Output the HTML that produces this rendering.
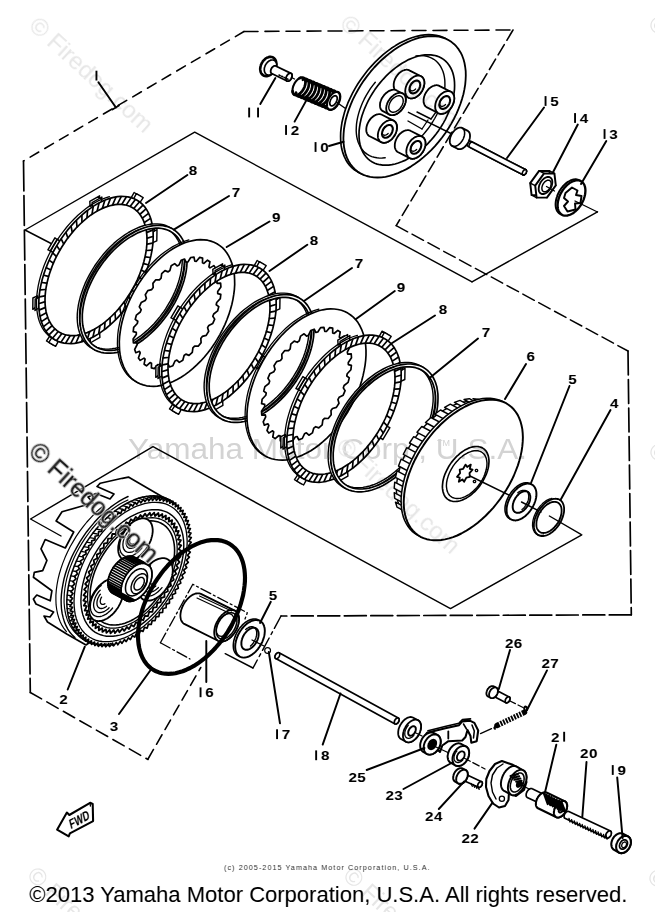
<!DOCTYPE html>
<html><head><meta charset="utf-8"><title>Clutch</title>
<style>
html,body{margin:0;padding:0;background:#fff;}
body{width:655px;height:912px;overflow:hidden;font-family:"Liberation Sans",sans-serif;}
svg{display:block;position:absolute;left:0;top:0;filter:grayscale(1);}
svg text{font-family:"Liberation Sans",sans-serif;}
</style></head><body>
<svg width="655" height="912" viewBox="0 0 655 912" stroke-linecap="round" stroke-linejoin="round">
<rect width="655" height="912" fill="#fff"/>
<path d="M244.0,31.5 L23.5,161.0" fill="none" stroke="#000" stroke-width="1.56" stroke-dasharray="10 7"/>
<path d="M244.0,31.5 L513.0,30.0" fill="none" stroke="#000" stroke-width="1.56" stroke-dasharray="14 7"/>
<path d="M23.5,161.0 L30.3,692.5" fill="none" stroke="#000" stroke-width="1.69" stroke-dasharray="30 4.5"/>
<path d="M30.3,692.5 L148.0,759.5" fill="none" stroke="#000" stroke-width="1.56" stroke-dasharray="13 6"/>
<path d="M148.0,759.0 L200.8,667.5" fill="none" stroke="#000" stroke-width="1.56" stroke-dasharray="11 6"/>
<path d="M513.0,30.0 L396.2,225.6" fill="none" stroke="#000" stroke-width="1.56" stroke-dasharray="12 5"/>
<path d="M396.2,225.6 L628.0,351.0" fill="none" stroke="#000" stroke-width="1.43" stroke-dasharray="13 5"/>
<path d="M628.0,351.0 L631.3,614.8" fill="none" stroke="#000" stroke-width="1.69" stroke-dasharray="24 4.5"/>
<path d="M631.3,614.8 L281.0,616.0" fill="none" stroke="#000" stroke-width="1.69" stroke-dasharray="22 4.5"/>
<path d="M281.0,616.0 L253.0,668.0" fill="none" stroke="#000" stroke-width="1.43" stroke-dasharray="14 4 3 4"/>
<path d="M253.0,668.0 L225.2,653.7" fill="none" stroke="#000" stroke-width="1.43" />
<path d="M472.0,281.8 L597.5,211.8" fill="none" stroke="#000" stroke-width="1.43" />
<path d="M54.0,245.0 L25.0,230.0 L194.7,132.2 L472.0,281.8" fill="none" stroke="#000" stroke-width="1.43" />
<path d="M61.0,536.0 L30.5,519.0 L153.0,446.6 L450.5,608.6 L581.8,534.8" fill="none" stroke="#000" stroke-width="1.43" />
<text x="29.3" y="902.3" font-size="21.5" fill="#000" textLength="598" lengthAdjust="spacingAndGlyphs">©2013 Yamaha Motor Corporation, U.S.A. All rights reserved.</text>
<text x="224" y="870.3" font-size="7.2" fill="#333" textLength="205.5" lengthAdjust="spacing">(c) 2005-2015 Yamaha Motor Corporation, U.S.A.</text>
<path d="M131.0,198.2 L134.1,192.5 L140.9,196.5 L137.3,201.9Z" fill="#fff" stroke="#000" stroke-width="1.43" />
<path d="M133.3,199.4 L136.4,193.7 L143.2,197.7 L139.6,203.1Z" fill="#fff" stroke="#000" stroke-width="1.43" />
<path d="M150.1,231.3 L154.7,228.2 L154.5,239.5 L150.0,241.7Z" fill="#fff" stroke="#000" stroke-width="1.43" />
<path d="M152.4,232.5 L157.0,229.5 L156.8,240.8 L152.2,242.9Z" fill="#fff" stroke="#000" stroke-width="1.43" />
<path d="M136.1,286.3 L139.6,287.7 L132.5,299.7 L129.6,297.4Z" fill="#fff" stroke="#000" stroke-width="1.43" />
<path d="M138.4,287.5 L141.9,289.0 L134.8,300.9 L131.9,298.6Z" fill="#fff" stroke="#000" stroke-width="1.43" />
<path d="M97.3,331.1 L97.6,336.1 L87.8,341.7 L88.3,336.2Z" fill="#fff" stroke="#000" stroke-width="1.43" />
<path d="M99.6,332.3 L99.9,337.4 L90.1,343.0 L90.5,337.5Z" fill="#fff" stroke="#000" stroke-width="1.43" />
<path d="M56.4,339.3 L53.4,345.1 L46.5,341.0 L50.1,335.6Z" fill="#fff" stroke="#000" stroke-width="1.43" />
<path d="M58.7,340.6 L55.6,346.3 L48.8,342.3 L52.4,336.9Z" fill="#fff" stroke="#000" stroke-width="1.43" />
<path d="M37.3,306.2 L32.8,309.3 L32.9,298.0 L37.5,295.8Z" fill="#fff" stroke="#000" stroke-width="1.43" />
<path d="M39.6,307.5 L35.0,310.5 L35.2,299.2 L39.8,297.1Z" fill="#fff" stroke="#000" stroke-width="1.43" />
<path d="M51.3,251.2 L47.9,249.8 L54.9,237.8 L57.8,240.2Z" fill="#fff" stroke="#000" stroke-width="1.43" />
<path d="M53.6,252.5 L50.1,251.0 L57.2,239.1 L60.1,241.4Z" fill="#fff" stroke="#000" stroke-width="1.43" />
<path d="M90.1,206.5 L89.8,201.4 L99.6,195.8 L99.2,201.3Z" fill="#fff" stroke="#000" stroke-width="1.43" />
<path d="M92.4,207.7 L92.1,202.6 L101.9,197.0 L101.5,202.5Z" fill="#fff" stroke="#000" stroke-width="1.43" />
<path d="M78.0,340.9 L74.2,341.8 L70.5,342.2 L66.9,342.4 L63.5,342.1 L60.1,341.6 L57.0,340.6 L54.0,339.3 L51.2,337.7 L48.7,335.7 L46.3,333.4 L44.2,330.8 L42.3,327.9 L40.7,324.7 L39.3,321.2 L38.2,317.5 L37.4,313.5 L36.8,309.3 L36.5,304.9 L36.5,300.4 L36.8,295.7 L37.4,290.8 L38.2,285.9 L39.3,280.8 L40.7,275.7 L42.3,270.6 L44.1,265.5 L46.3,260.3 L48.6,255.3 L51.2,250.2 L53.9,245.3 L56.9,240.5 L60.0,235.8 L63.4,231.3 L66.8,227.0 L70.4,222.9 L74.1,219.0 L77.9,215.3 L81.8,211.9 L85.7,208.8 L89.7,205.9 L93.7,203.4 L97.6,201.2 L101.6,199.3 L105.6,197.8 L109.4,196.6" fill="none" stroke="#000" stroke-width="1.3" />
<path d="M137.1,200.2 L139.8,202.0 L142.2,204.1 L144.5,206.6 L146.5,209.4 L148.2,212.4 L149.7,215.8 L151.0,219.4 L151.9,223.2 L152.6,227.3 L153.1,231.6 L153.2,236.1 L153.1,240.7 L152.7,245.5 L152.0,250.4 L151.0,255.4 L149.8,260.5 L148.3,265.6 L146.5,270.7 L144.5,275.9 L142.3,281.0 L139.9,286.0 L137.2,291.0 L134.3,295.9 L131.3,300.6 L128.0,305.2 L124.7,309.6 L121.1,313.9 L117.5,317.9 L113.7,321.7 L109.9,325.2 L106.0,328.5 L102.0,331.4 L98.1,334.1 L94.1,336.5 L90.1,338.5 L86.1,340.2 L82.2,341.6 L78.4,342.6 L74.6,343.3 L71.0,343.6 L67.4,343.5 L64.1,343.1 L60.8,342.4 L57.8,341.3 L54.9,339.8 L52.2,338.0 L49.8,335.9 L47.5,333.4 L45.5,330.6 L43.8,327.6 L42.3,324.2 L41.0,320.6 L40.1,316.8 L39.4,312.7 L38.9,308.4 L38.8,303.9 L38.9,299.3 L39.3,294.5 L40.0,289.6 L41.0,284.6 L42.2,279.5 L43.7,274.4 L45.5,269.3 L47.5,264.1 L49.7,259.0 L52.1,254.0 L54.8,249.0 L57.7,244.1 L60.7,239.4 L64.0,234.8 L67.3,230.4 L70.9,226.1 L74.5,222.1 L78.3,218.3 L82.1,214.8 L86.0,211.5 L90.0,208.6 L93.9,205.9 L97.9,203.5 L101.9,201.5 L105.9,199.8 L109.8,198.4 L113.6,197.4 L117.4,196.7 L121.0,196.4 L124.6,196.5 L127.9,196.9 L131.2,197.6 L134.2,198.7 L137.1,200.2Z M132.6,207.8 L135.0,209.4 L137.2,211.3 L139.2,213.5 L141.0,216.0 L142.6,218.7 L143.9,221.7 L145.0,224.9 L145.9,228.3 L146.5,231.9 L146.9,235.8 L147.0,239.8 L146.9,243.9 L146.5,248.2 L145.9,252.5 L145.0,257.0 L143.9,261.5 L142.6,266.1 L141.0,270.6 L139.3,275.2 L137.3,279.8 L135.1,284.3 L132.7,288.7 L130.2,293.0 L127.4,297.3 L124.6,301.4 L121.5,305.3 L118.4,309.1 L115.2,312.7 L111.8,316.0 L108.4,319.2 L104.9,322.1 L101.4,324.8 L97.8,327.1 L94.3,329.3 L90.7,331.1 L87.2,332.6 L83.7,333.8 L80.3,334.7 L76.9,335.3 L73.7,335.6 L70.5,335.6 L67.5,335.2 L64.6,334.5 L61.9,333.5 L59.4,332.2 L57.0,330.6 L54.8,328.7 L52.8,326.5 L51.0,324.0 L49.4,321.3 L48.1,318.3 L47.0,315.1 L46.1,311.7 L45.5,308.1 L45.1,304.2 L45.0,300.2 L45.1,296.1 L45.5,291.8 L46.1,287.5 L47.0,283.0 L48.1,278.5 L49.4,273.9 L51.0,269.4 L52.7,264.8 L54.7,260.2 L56.9,255.7 L59.3,251.3 L61.8,247.0 L64.6,242.7 L67.4,238.6 L70.5,234.7 L73.6,230.9 L76.8,227.3 L80.2,224.0 L83.6,220.8 L87.1,217.9 L90.6,215.2 L94.2,212.9 L97.7,210.7 L101.3,208.9 L104.8,207.4 L108.3,206.2 L111.7,205.3 L115.1,204.7 L118.3,204.4 L121.5,204.4 L124.5,204.8 L127.4,205.5 L130.1,206.5 L132.6,207.8Z" fill="#fff" stroke="#000" stroke-width="1.69" fill-rule="evenodd"/>
<path d="M134.2,208.0 L139.1,202.3 M137.5,210.7 L142.7,205.4 M140.3,214.0 L145.7,209.2 M142.7,217.8 L148.2,213.6 M144.7,222.2 L150.2,218.6 M146.1,227.1 L151.6,224.1 M147.0,232.4 L152.5,230.1 M147.4,238.1 L152.8,236.5 M147.3,244.2 L152.5,243.2 M146.6,250.5 L151.6,250.2 M145.4,256.9 L150.2,257.5 M143.7,263.6 L148.1,264.8 M141.6,270.3 L145.6,272.2 M138.9,277.0 L142.6,279.6 M135.8,283.6 L139.0,286.9 M132.3,290.1 L135.1,294.0 M128.5,296.3 L130.7,300.8 M124.3,302.4 L126.0,307.4 M119.8,308.0 L120.9,313.5 M115.0,313.3 L115.6,319.3 M110.1,318.1 L110.1,324.5 M105.0,322.5 L104.5,329.1 M99.9,326.3 L98.8,333.2 M94.7,329.5 L93.0,336.6 M89.5,332.1 L87.3,339.3 M84.3,334.1 L81.7,341.3 M79.3,335.4 L76.2,342.5 M74.5,336.1 L70.9,343.1 M69.9,336.1 L65.9,342.8 M65.5,335.4 L61.2,341.9 M61.5,334.0 L56.8,340.2 M57.8,332.0 L52.9,337.7 M54.5,329.3 L49.3,334.6 M51.7,326.0 L46.3,330.8 M49.3,322.2 L43.8,326.4 M47.3,317.8 L41.8,321.4 M45.9,312.9 L40.4,315.9 M45.0,307.6 L39.5,309.9 M44.6,301.9 L39.2,303.5 M44.7,295.8 L39.5,296.8 M45.4,289.5 L40.4,289.8 M46.6,283.1 L41.8,282.5 M48.3,276.4 L43.9,275.2 M50.4,269.7 L46.4,267.8 M53.1,263.0 L49.4,260.4 M56.2,256.4 L53.0,253.1 M59.7,249.9 L56.9,246.0 M63.5,243.7 L61.3,239.2 M67.7,237.6 L66.0,232.6 M72.2,232.0 L71.1,226.5 M77.0,226.7 L76.4,220.7 M81.9,221.9 L81.9,215.5 M87.0,217.5 L87.5,210.9 M92.1,213.7 L93.2,206.8 M97.3,210.5 L99.0,203.4 M102.5,207.9 L104.7,200.7 M107.7,205.9 L110.3,198.7 M112.7,204.6 L115.8,197.5 M117.5,203.9 L121.1,196.9 M122.1,203.9 L126.1,197.2 M126.5,204.6 L130.8,198.1 M130.5,206.0 L135.2,199.8 " fill="none" stroke="#000" stroke-width="1.69" />
<path d="M171.6,228.5 L174.0,230.3 L176.1,232.4 L178.0,234.8 L179.7,237.4 L181.1,240.3 L182.3,243.4 L183.2,246.7 L183.9,250.2 L184.3,253.9 L184.5,257.8 L184.4,261.8 L184.0,265.9 L183.4,270.2 L182.5,274.5 L181.4,278.9 L180.0,283.4 L178.4,287.8 L176.6,292.3 L174.5,296.7 L172.2,301.1 L169.8,305.5 L167.1,309.7 L164.3,313.9 L161.2,317.9 L158.1,321.7 L154.8,325.4 L151.4,329.0 L147.9,332.3 L144.3,335.4 L140.6,338.3 L136.9,340.9 L133.2,343.3 L129.5,345.4 L125.7,347.2 L122.0,348.7 L118.3,349.9 L114.7,350.9 L111.2,351.5 L107.8,351.8 L104.5,351.8 L101.3,351.5 L98.2,350.9 L95.3,350.0 L92.6,348.7 L90.1,347.2 L87.8,345.4 L85.6,343.3 L83.7,340.9 L82.1,338.3 L80.6,335.4 L79.4,332.3 L78.5,329.0 L77.8,325.5 L77.4,321.8 L77.2,317.9 L77.3,313.9 L77.7,309.8 L78.3,305.5 L79.2,301.2 L80.3,296.8 L81.7,292.4 L83.3,287.9 L85.1,283.4 L87.2,279.0 L89.5,274.6 L92.0,270.3 L94.6,266.0 L97.5,261.9 L100.5,257.9 L103.6,254.0 L106.9,250.3 L110.3,246.8 L113.8,243.4 L117.4,240.3 L121.1,237.5 L124.8,234.8 L128.5,232.5 L132.3,230.4 L136.0,228.6 L139.7,227.0 L143.4,225.8 L147.0,224.9 L150.5,224.2 L154.0,223.9 L157.3,223.9 L160.5,224.2 L163.5,224.8 L166.4,225.8 L169.1,227.0 L171.6,228.5Z M169.9,231.0 L172.2,232.7 L174.2,234.7 L176.0,237.0 L177.6,239.5 L179.0,242.3 L180.1,245.2 L181.0,248.4 L181.7,251.8 L182.1,255.3 L182.3,259.0 L182.2,262.9 L181.8,266.9 L181.2,270.9 L180.4,275.1 L179.3,279.3 L178.0,283.6 L176.5,287.8 L174.7,292.1 L172.7,296.4 L170.5,300.6 L168.1,304.7 L165.6,308.8 L162.9,312.8 L160.0,316.6 L157.0,320.3 L153.8,323.9 L150.5,327.3 L147.2,330.4 L143.7,333.4 L140.2,336.2 L136.7,338.7 L133.1,341.0 L129.5,343.0 L125.9,344.7 L122.4,346.2 L118.9,347.4 L115.4,348.2 L112.0,348.8 L108.7,349.1 L105.6,349.1 L102.5,348.8 L99.6,348.3 L96.8,347.4 L94.2,346.2 L91.8,344.7 L89.6,343.0 L87.5,341.0 L85.7,338.7 L84.1,336.2 L82.7,333.5 L81.6,330.5 L80.7,327.3 L80.0,323.9 L79.6,320.4 L79.5,316.7 L79.6,312.8 L79.9,308.9 L80.5,304.8 L81.3,300.6 L82.4,296.4 L83.7,292.2 L85.3,287.9 L87.0,283.6 L89.0,279.4 L91.2,275.1 L93.6,271.0 L96.1,266.9 L98.9,263.0 L101.8,259.1 L104.8,255.4 L107.9,251.8 L111.2,248.5 L114.6,245.3 L118.0,242.3 L121.5,239.6 L125.0,237.0 L128.6,234.8 L132.2,232.8 L135.8,231.0 L139.3,229.6 L142.9,228.4 L146.3,227.5 L149.7,226.9 L153.0,226.6 L156.2,226.6 L159.2,226.9 L162.2,227.5 L164.9,228.4 L167.5,229.5 L169.9,231.0Z" fill="#fff" stroke="#000" stroke-width="1.43" fill-rule="evenodd"/>
<path d="M174.3,230.0 L176.6,231.8 L178.7,233.9 L180.6,236.2 L182.3,238.9 L183.7,241.7 L184.9,244.8 L185.9,248.1 L186.5,251.7 L187.0,255.4 L187.1,259.2 L187.0,263.2 L186.7,267.4 L186.1,271.6 L185.2,276.0 L184.1,280.4 L182.7,284.8 L181.1,289.3 L179.2,293.7 L177.2,298.2 L174.9,302.6 L172.4,306.9 L169.7,311.2 L166.9,315.3 L163.9,319.3 L160.7,323.2 L157.4,326.9 L154.0,330.4 L150.5,333.7 L146.9,336.8 L143.3,339.7 L139.6,342.3 L135.8,344.7 L132.1,346.8 L128.4,348.6 L124.6,350.1 L121.0,351.4 L117.4,352.3 L113.8,352.9 L110.4,353.2 L107.1,353.2 L103.9,352.9 L100.9,352.3 L98.0,351.4 L95.2,350.2 L92.7,348.6 L90.4,346.8 L88.3,344.7 L86.4,342.4 L84.7,339.7 L83.3,336.9 L82.1,333.8 L81.1,330.5 L80.5,326.9 L80.0,323.2 L79.9,319.4 L80.0,315.4 L80.3,311.2 L80.9,307.0 L81.8,302.6 L82.9,298.2 L84.3,293.8 L85.9,289.3 L87.8,284.9 L89.8,280.4 L92.1,276.0 L94.6,271.7 L97.3,267.4 L100.1,263.3 L103.1,259.3 L106.3,255.4 L109.6,251.7 L113.0,248.2 L116.5,244.9 L120.1,241.8 L123.7,238.9 L127.4,236.3 L131.2,233.9 L134.9,231.8 L138.6,230.0 L142.4,228.5 L146.0,227.2 L149.6,226.3 L153.2,225.7 L156.6,225.4 L159.9,225.4 L163.1,225.7 L166.1,226.3 L169.0,227.2 L171.8,228.4 L174.3,230.0Z M172.5,232.6 L174.7,234.3 L176.7,236.3 L178.5,238.6 L180.1,241.1 L181.5,243.8 L182.6,246.8 L183.5,250.0 L184.2,253.3 L184.6,256.9 L184.7,260.6 L184.7,264.4 L184.3,268.4 L183.7,272.4 L182.9,276.6 L181.8,280.8 L180.5,285.0 L179.0,289.3 L177.2,293.5 L175.2,297.8 L173.0,302.0 L170.7,306.1 L168.1,310.2 L165.4,314.1 L162.5,318.0 L159.5,321.7 L156.4,325.2 L153.1,328.6 L149.8,331.7 L146.3,334.7 L142.8,337.5 L139.3,340.0 L135.7,342.2 L132.2,344.2 L128.6,346.0 L125.0,347.4 L121.5,348.6 L118.1,349.5 L114.7,350.1 L111.4,350.4 L108.3,350.4 L105.2,350.1 L102.3,349.5 L99.5,348.6 L96.9,347.5 L94.5,346.0 L92.3,344.3 L90.3,342.3 L88.5,340.0 L86.9,337.5 L85.5,334.8 L84.4,331.8 L83.5,328.6 L82.8,325.3 L82.4,321.7 L82.3,318.0 L82.3,314.2 L82.7,310.2 L83.3,306.2 L84.1,302.0 L85.2,297.8 L86.5,293.6 L88.0,289.3 L89.8,285.1 L91.8,280.8 L94.0,276.6 L96.3,272.5 L98.9,268.4 L101.6,264.5 L104.5,260.6 L107.5,256.9 L110.6,253.4 L113.9,250.0 L117.2,246.9 L120.7,243.9 L124.2,241.1 L127.7,238.6 L131.3,236.4 L134.8,234.4 L138.4,232.6 L142.0,231.2 L145.5,230.0 L148.9,229.1 L152.3,228.5 L155.6,228.2 L158.7,228.2 L161.8,228.5 L164.7,229.1 L167.5,230.0 L170.1,231.1 L172.5,232.6Z" fill="#fff" stroke="#000" stroke-width="1.69" fill-rule="evenodd"/>
<path d="M191.1,367.4 L187.1,370.6 L183.1,373.6 L179.1,376.2 L175.0,378.5 L171.0,380.5 L166.9,382.2 L162.9,383.5 L159.0,384.4 L155.1,385.0 L151.3,385.3 L147.7,385.1 L144.2,384.6 L140.8,383.8 L137.7,382.6 L134.7,381.0 L131.9,379.1 L129.3,376.8 L126.9,374.3 L124.8,371.4 L122.9,368.2 L121.3,364.8 L120.0,361.1 L118.9,357.1 L118.1,352.9 L117.6,348.5 L117.4,344.0 L117.5,339.2 L117.8,334.4 L118.4,329.4 L119.4,324.4 L120.6,319.2 L122.0,314.1 L123.7,308.9 L125.7,303.8 L128.0,298.6 L130.4,293.6 L133.1,288.6 L136.0,283.8 L139.1,279.1 L142.3,274.6 L145.8,270.2 L149.3,266.1 L153.0,262.2 L156.8,258.5 L160.7,255.1 L164.7,252.0 L168.7,249.2 L172.8,246.6 L176.9,244.5 L180.9,242.6 L184.9,241.1 L188.9,239.9" fill="none" stroke="#000" stroke-width="1.3" />
<path d="M217.0,243.7 L219.8,245.6 L222.4,247.7 L224.8,250.2 L226.9,253.0 L228.8,256.1 L230.4,259.5 L231.8,263.1 L233.0,267.0 L233.8,271.1 L234.4,275.4 L234.6,279.8 L234.7,284.5 L234.4,289.3 L233.8,294.2 L233.0,299.1 L231.9,304.2 L230.5,309.3 L228.9,314.4 L227.0,319.5 L224.9,324.6 L222.5,329.6 L219.9,334.6 L217.1,339.4 L214.2,344.1 L211.0,348.7 L207.7,353.0 L204.2,357.2 L200.6,361.2 L196.8,364.9 L193.0,368.4 L189.1,371.6 L185.1,374.6 L181.1,377.2 L177.1,379.5 L173.1,381.5 L169.1,383.2 L165.1,384.5 L161.2,385.4 L157.4,386.1 L153.6,386.3 L150.0,386.2 L146.5,385.8 L143.2,384.9 L140.0,383.8 L137.0,382.3 L134.2,380.4 L131.6,378.3 L129.2,375.8 L127.1,373.0 L125.2,369.9 L123.6,366.5 L122.2,362.9 L121.0,359.0 L120.2,354.9 L119.6,350.6 L119.4,346.2 L119.3,341.5 L119.6,336.7 L120.2,331.8 L121.0,326.9 L122.1,321.8 L123.5,316.7 L125.1,311.6 L127.0,306.5 L129.1,301.4 L131.5,296.4 L134.1,291.4 L136.9,286.6 L139.8,281.9 L143.0,277.3 L146.3,273.0 L149.8,268.8 L153.4,264.8 L157.2,261.1 L161.0,257.6 L164.9,254.4 L168.9,251.4 L172.9,248.8 L176.9,246.5 L180.9,244.5 L184.9,242.8 L188.9,241.5 L192.8,240.6 L196.6,239.9 L200.4,239.7 L204.0,239.8 L207.5,240.2 L210.8,241.1 L214.0,242.2 L217.0,243.7Z M207.5,260.2 L209.9,261.8 L208.9,266.8 L210.0,267.9 L213.8,265.6 L215.6,268.0 L213.8,273.1 L214.5,274.7 L218.2,273.3 L219.3,276.6 L216.8,281.5 L217.1,283.4 L220.6,283.1 L220.9,286.9 L217.7,291.4 L217.7,293.6 L220.8,294.4 L220.3,298.6 L216.7,302.5 L216.2,304.7 L218.8,306.6 L217.6,310.9 L213.7,314.0 L212.8,316.3 L214.7,319.1 L212.8,323.4 L208.8,325.5 L207.6,327.7 L208.7,331.3 L206.2,335.4 L202.3,336.4 L200.8,338.4 L201.1,342.6 L198.2,346.2 L194.6,346.1 L192.9,347.8 L192.3,352.4 L189.0,355.4 L185.9,354.1 L184.1,355.5 L182.8,360.2 L179.3,362.4 L176.9,360.1 L175.0,361.0 L172.9,365.7 L169.5,367.0 L167.8,363.7 L166.0,364.1 L163.3,368.5 L160.0,368.9 L159.2,364.8 L157.6,364.7 L154.3,368.6 L151.4,367.9 L151.5,363.3 L150.1,362.6 L146.5,365.8 L144.1,364.2 L145.1,359.2 L144.0,358.1 L140.2,360.4 L138.4,358.0 L140.2,352.9 L139.5,351.3 L135.8,352.7 L134.7,349.4 L137.2,344.5 L136.9,342.6 L133.4,342.9 L133.1,339.1 L136.3,334.6 L136.3,332.4 L133.2,331.6 L133.7,327.4 L137.3,323.5 L137.8,321.3 L135.2,319.4 L136.4,315.1 L140.3,312.0 L141.2,309.7 L139.3,306.9 L141.2,302.6 L145.2,300.5 L146.4,298.3 L145.3,294.7 L147.8,290.6 L151.7,289.6 L153.2,287.6 L152.9,283.4 L155.8,279.8 L159.4,279.9 L161.1,278.2 L161.7,273.6 L165.0,270.6 L168.1,271.9 L169.9,270.5 L171.2,265.8 L174.7,263.6 L177.1,265.9 L179.0,265.0 L181.1,260.3 L184.5,259.0 L186.2,262.3 L188.0,261.9 L190.7,257.5 L194.0,257.1 L194.8,261.2 L196.4,261.3 L199.7,257.4 L202.6,258.1 L202.5,262.7 L203.9,263.4Z" fill="#fff" stroke="#000" stroke-width="1.69" fill-rule="evenodd"/>
<path d="M254.0,266.2 L257.1,260.5 L263.9,264.5 L260.3,269.9Z" fill="#fff" stroke="#000" stroke-width="1.43" />
<path d="M256.3,267.4 L259.4,261.7 L266.2,265.7 L262.6,271.1Z" fill="#fff" stroke="#000" stroke-width="1.43" />
<path d="M273.1,299.3 L277.7,296.2 L277.5,307.5 L273.0,309.7Z" fill="#fff" stroke="#000" stroke-width="1.43" />
<path d="M275.4,300.5 L280.0,297.5 L279.8,308.8 L275.2,310.9Z" fill="#fff" stroke="#000" stroke-width="1.43" />
<path d="M259.1,354.3 L262.6,355.7 L255.5,367.7 L252.6,365.4Z" fill="#fff" stroke="#000" stroke-width="1.43" />
<path d="M261.4,355.5 L264.9,357.0 L257.8,368.9 L254.9,366.6Z" fill="#fff" stroke="#000" stroke-width="1.43" />
<path d="M220.3,399.1 L220.6,404.1 L210.8,409.7 L211.3,404.2Z" fill="#fff" stroke="#000" stroke-width="1.43" />
<path d="M222.6,400.3 L222.9,405.4 L213.1,411.0 L213.5,405.5Z" fill="#fff" stroke="#000" stroke-width="1.43" />
<path d="M179.4,407.3 L176.4,413.1 L169.5,409.0 L173.1,403.6Z" fill="#fff" stroke="#000" stroke-width="1.43" />
<path d="M181.7,408.6 L178.6,414.3 L171.8,410.3 L175.4,404.9Z" fill="#fff" stroke="#000" stroke-width="1.43" />
<path d="M160.3,374.2 L155.8,377.3 L155.9,366.0 L160.5,363.8Z" fill="#fff" stroke="#000" stroke-width="1.43" />
<path d="M162.6,375.5 L158.0,378.5 L158.2,367.2 L162.8,365.1Z" fill="#fff" stroke="#000" stroke-width="1.43" />
<path d="M174.3,319.2 L170.9,317.8 L177.9,305.8 L180.8,308.2Z" fill="#fff" stroke="#000" stroke-width="1.43" />
<path d="M176.6,320.5 L173.1,319.0 L180.2,307.1 L183.1,309.4Z" fill="#fff" stroke="#000" stroke-width="1.43" />
<path d="M213.1,274.5 L212.8,269.4 L222.6,263.8 L222.2,269.3Z" fill="#fff" stroke="#000" stroke-width="1.43" />
<path d="M215.4,275.7 L215.1,270.6 L224.9,265.0 L224.5,270.5Z" fill="#fff" stroke="#000" stroke-width="1.43" />
<path d="M201.0,408.9 L197.2,409.8 L193.5,410.2 L189.9,410.4 L186.5,410.1 L183.1,409.6 L180.0,408.6 L177.0,407.3 L174.2,405.7 L171.7,403.7 L169.3,401.4 L167.2,398.8 L165.3,395.9 L163.7,392.7 L162.3,389.2 L161.2,385.5 L160.4,381.5 L159.8,377.3 L159.5,372.9 L159.5,368.4 L159.8,363.7 L160.4,358.8 L161.2,353.9 L162.3,348.8 L163.7,343.7 L165.3,338.6 L167.1,333.5 L169.3,328.3 L171.6,323.3 L174.2,318.2 L176.9,313.3 L179.9,308.5 L183.0,303.8 L186.4,299.3 L189.8,295.0 L193.4,290.9 L197.1,287.0 L200.9,283.3 L204.8,279.9 L208.7,276.8 L212.7,273.9 L216.7,271.4 L220.6,269.2 L224.6,267.3 L228.6,265.8 L232.4,264.6" fill="none" stroke="#000" stroke-width="1.3" />
<path d="M260.1,268.2 L262.8,270.0 L265.2,272.1 L267.5,274.6 L269.5,277.4 L271.2,280.4 L272.7,283.8 L274.0,287.4 L274.9,291.2 L275.6,295.3 L276.1,299.6 L276.2,304.1 L276.1,308.7 L275.7,313.5 L275.0,318.4 L274.0,323.4 L272.8,328.5 L271.3,333.6 L269.5,338.7 L267.5,343.9 L265.3,349.0 L262.9,354.0 L260.2,359.0 L257.3,363.9 L254.3,368.6 L251.0,373.2 L247.7,377.6 L244.1,381.9 L240.5,385.9 L236.7,389.7 L232.9,393.2 L229.0,396.5 L225.0,399.4 L221.1,402.1 L217.1,404.5 L213.1,406.5 L209.1,408.2 L205.2,409.6 L201.4,410.6 L197.6,411.3 L194.0,411.6 L190.4,411.5 L187.1,411.1 L183.8,410.4 L180.8,409.3 L177.9,407.8 L175.2,406.0 L172.8,403.9 L170.5,401.4 L168.5,398.6 L166.8,395.6 L165.3,392.2 L164.0,388.6 L163.1,384.8 L162.4,380.7 L161.9,376.4 L161.8,371.9 L161.9,367.3 L162.3,362.5 L163.0,357.6 L164.0,352.6 L165.2,347.5 L166.7,342.4 L168.5,337.3 L170.5,332.1 L172.7,327.0 L175.1,322.0 L177.8,317.0 L180.7,312.1 L183.7,307.4 L187.0,302.8 L190.3,298.4 L193.9,294.1 L197.5,290.1 L201.3,286.3 L205.1,282.8 L209.0,279.5 L213.0,276.6 L216.9,273.9 L220.9,271.5 L224.9,269.5 L228.9,267.8 L232.8,266.4 L236.6,265.4 L240.4,264.7 L244.0,264.4 L247.6,264.5 L250.9,264.9 L254.2,265.6 L257.2,266.7 L260.1,268.2Z M255.6,275.8 L258.0,277.4 L260.2,279.3 L262.2,281.5 L264.0,284.0 L265.6,286.7 L266.9,289.7 L268.0,292.9 L268.9,296.3 L269.5,299.9 L269.9,303.8 L270.0,307.8 L269.9,311.9 L269.5,316.2 L268.9,320.5 L268.0,325.0 L266.9,329.5 L265.6,334.1 L264.0,338.6 L262.3,343.2 L260.3,347.8 L258.1,352.3 L255.7,356.7 L253.2,361.0 L250.4,365.3 L247.6,369.4 L244.5,373.3 L241.4,377.1 L238.2,380.7 L234.8,384.0 L231.4,387.2 L227.9,390.1 L224.4,392.8 L220.8,395.1 L217.3,397.3 L213.7,399.1 L210.2,400.6 L206.7,401.8 L203.3,402.7 L199.9,403.3 L196.7,403.6 L193.5,403.6 L190.5,403.2 L187.6,402.5 L184.9,401.5 L182.4,400.2 L180.0,398.6 L177.8,396.7 L175.8,394.5 L174.0,392.0 L172.4,389.3 L171.1,386.3 L170.0,383.1 L169.1,379.7 L168.5,376.1 L168.1,372.2 L168.0,368.2 L168.1,364.1 L168.5,359.8 L169.1,355.5 L170.0,351.0 L171.1,346.5 L172.4,341.9 L174.0,337.4 L175.7,332.8 L177.7,328.2 L179.9,323.7 L182.3,319.3 L184.8,315.0 L187.6,310.7 L190.4,306.6 L193.5,302.7 L196.6,298.9 L199.8,295.3 L203.2,292.0 L206.6,288.8 L210.1,285.9 L213.6,283.2 L217.2,280.9 L220.7,278.7 L224.3,276.9 L227.8,275.4 L231.3,274.2 L234.7,273.3 L238.1,272.7 L241.3,272.4 L244.5,272.4 L247.5,272.8 L250.4,273.5 L253.1,274.5 L255.6,275.8Z" fill="#fff" stroke="#000" stroke-width="1.69" fill-rule="evenodd"/>
<path d="M257.2,276.0 L262.1,270.3 M260.5,278.7 L265.7,273.4 M263.3,282.0 L268.7,277.2 M265.7,285.8 L271.2,281.6 M267.7,290.2 L273.2,286.6 M269.1,295.1 L274.6,292.1 M270.0,300.4 L275.5,298.1 M270.4,306.1 L275.8,304.5 M270.3,312.2 L275.5,311.2 M269.6,318.5 L274.6,318.2 M268.4,324.9 L273.2,325.5 M266.7,331.6 L271.1,332.8 M264.6,338.3 L268.6,340.2 M261.9,345.0 L265.6,347.6 M258.8,351.6 L262.0,354.9 M255.3,358.1 L258.1,362.0 M251.5,364.3 L253.7,368.8 M247.3,370.4 L249.0,375.4 M242.8,376.0 L243.9,381.5 M238.0,381.3 L238.6,387.3 M233.1,386.1 L233.1,392.5 M228.0,390.5 L227.5,397.1 M222.9,394.3 L221.8,401.2 M217.7,397.5 L216.0,404.6 M212.5,400.1 L210.3,407.3 M207.3,402.1 L204.7,409.3 M202.3,403.4 L199.2,410.5 M197.5,404.1 L193.9,411.1 M192.9,404.1 L188.9,410.8 M188.5,403.4 L184.2,409.9 M184.5,402.0 L179.8,408.2 M180.8,400.0 L175.9,405.7 M177.5,397.3 L172.3,402.6 M174.7,394.0 L169.3,398.8 M172.3,390.2 L166.8,394.4 M170.3,385.8 L164.8,389.4 M168.9,380.9 L163.4,383.9 M168.0,375.6 L162.5,377.9 M167.6,369.9 L162.2,371.5 M167.7,363.8 L162.5,364.8 M168.4,357.5 L163.4,357.8 M169.6,351.1 L164.8,350.5 M171.3,344.4 L166.9,343.2 M173.4,337.7 L169.4,335.8 M176.1,331.0 L172.4,328.4 M179.2,324.4 L176.0,321.1 M182.7,317.9 L179.9,314.0 M186.5,311.7 L184.3,307.2 M190.7,305.6 L189.0,300.6 M195.2,300.0 L194.1,294.5 M200.0,294.7 L199.4,288.7 M204.9,289.9 L204.9,283.5 M210.0,285.5 L210.5,278.9 M215.1,281.7 L216.2,274.8 M220.3,278.5 L222.0,271.4 M225.5,275.9 L227.7,268.7 M230.7,273.9 L233.3,266.7 M235.7,272.6 L238.8,265.5 M240.5,271.9 L244.1,264.9 M245.1,271.9 L249.1,265.2 M249.5,272.6 L253.8,266.1 M253.5,274.0 L258.2,267.8 " fill="none" stroke="#000" stroke-width="1.69" />
<path d="M298.5,297.7 L300.9,299.5 L303.0,301.6 L304.9,304.0 L306.6,306.6 L308.0,309.5 L309.2,312.6 L310.1,315.9 L310.8,319.4 L311.2,323.1 L311.4,327.0 L311.3,331.0 L310.9,335.1 L310.3,339.4 L309.4,343.7 L308.3,348.1 L306.9,352.6 L305.3,357.0 L303.5,361.5 L301.4,365.9 L299.1,370.3 L296.7,374.7 L294.0,378.9 L291.2,383.1 L288.1,387.1 L285.0,390.9 L281.7,394.6 L278.3,398.2 L274.8,401.5 L271.2,404.6 L267.5,407.5 L263.8,410.1 L260.1,412.5 L256.4,414.6 L252.6,416.4 L248.9,417.9 L245.2,419.1 L241.6,420.1 L238.1,420.7 L234.7,421.0 L231.4,421.0 L228.2,420.7 L225.1,420.1 L222.2,419.2 L219.5,417.9 L217.0,416.4 L214.7,414.6 L212.5,412.5 L210.6,410.1 L209.0,407.5 L207.5,404.6 L206.3,401.5 L205.4,398.2 L204.7,394.7 L204.3,391.0 L204.1,387.1 L204.2,383.1 L204.6,379.0 L205.2,374.7 L206.1,370.4 L207.2,366.0 L208.6,361.6 L210.2,357.1 L212.0,352.6 L214.1,348.2 L216.4,343.8 L218.9,339.5 L221.5,335.2 L224.4,331.1 L227.4,327.1 L230.5,323.2 L233.8,319.5 L237.2,316.0 L240.7,312.6 L244.3,309.5 L248.0,306.7 L251.7,304.0 L255.4,301.7 L259.2,299.6 L262.9,297.8 L266.6,296.2 L270.3,295.0 L273.9,294.1 L277.4,293.4 L280.9,293.1 L284.2,293.1 L287.4,293.4 L290.4,294.0 L293.3,295.0 L296.0,296.2 L298.5,297.7Z M296.8,300.2 L299.1,301.9 L301.1,303.9 L302.9,306.2 L304.5,308.7 L305.9,311.5 L307.0,314.4 L307.9,317.6 L308.6,321.0 L309.0,324.5 L309.2,328.2 L309.1,332.1 L308.7,336.1 L308.1,340.1 L307.3,344.3 L306.2,348.5 L304.9,352.8 L303.4,357.0 L301.6,361.3 L299.6,365.6 L297.4,369.8 L295.0,373.9 L292.5,378.0 L289.8,382.0 L286.9,385.8 L283.9,389.5 L280.7,393.1 L277.4,396.5 L274.1,399.6 L270.6,402.6 L267.1,405.4 L263.6,407.9 L260.0,410.2 L256.4,412.2 L252.8,413.9 L249.3,415.4 L245.8,416.6 L242.3,417.4 L238.9,418.0 L235.6,418.3 L232.5,418.3 L229.4,418.0 L226.5,417.5 L223.7,416.6 L221.1,415.4 L218.7,413.9 L216.5,412.2 L214.4,410.2 L212.6,407.9 L211.0,405.4 L209.6,402.7 L208.5,399.7 L207.6,396.5 L206.9,393.1 L206.5,389.6 L206.4,385.9 L206.5,382.0 L206.8,378.1 L207.4,374.0 L208.2,369.8 L209.3,365.6 L210.6,361.4 L212.2,357.1 L213.9,352.8 L215.9,348.6 L218.1,344.3 L220.5,340.2 L223.0,336.1 L225.8,332.2 L228.7,328.3 L231.7,324.6 L234.8,321.0 L238.1,317.7 L241.5,314.5 L244.9,311.5 L248.4,308.8 L251.9,306.2 L255.5,304.0 L259.1,302.0 L262.7,300.2 L266.2,298.8 L269.8,297.6 L273.2,296.7 L276.6,296.1 L279.9,295.8 L283.1,295.8 L286.1,296.1 L289.1,296.7 L291.8,297.6 L294.4,298.7 L296.8,300.2Z" fill="#fff" stroke="#000" stroke-width="1.43" fill-rule="evenodd"/>
<path d="M301.2,299.2 L303.5,301.0 L305.6,303.1 L307.5,305.4 L309.2,308.1 L310.6,310.9 L311.8,314.0 L312.8,317.3 L313.4,320.9 L313.9,324.6 L314.0,328.4 L313.9,332.4 L313.6,336.6 L313.0,340.8 L312.1,345.2 L311.0,349.6 L309.6,354.0 L308.0,358.5 L306.1,362.9 L304.1,367.4 L301.8,371.8 L299.3,376.1 L296.6,380.4 L293.8,384.5 L290.8,388.5 L287.6,392.4 L284.3,396.1 L280.9,399.6 L277.4,402.9 L273.8,406.0 L270.2,408.9 L266.5,411.5 L262.7,413.9 L259.0,416.0 L255.3,417.8 L251.5,419.3 L247.9,420.6 L244.3,421.5 L240.7,422.1 L237.3,422.4 L234.0,422.4 L230.8,422.1 L227.8,421.5 L224.9,420.6 L222.1,419.4 L219.6,417.8 L217.3,416.0 L215.2,413.9 L213.3,411.6 L211.6,408.9 L210.2,406.1 L209.0,403.0 L208.0,399.7 L207.4,396.1 L206.9,392.4 L206.8,388.6 L206.9,384.6 L207.2,380.4 L207.8,376.2 L208.7,371.8 L209.8,367.4 L211.2,363.0 L212.8,358.5 L214.7,354.1 L216.7,349.6 L219.0,345.2 L221.5,340.9 L224.2,336.6 L227.0,332.5 L230.0,328.5 L233.2,324.6 L236.5,320.9 L239.9,317.4 L243.4,314.1 L247.0,311.0 L250.6,308.1 L254.3,305.5 L258.1,303.1 L261.8,301.0 L265.5,299.2 L269.3,297.7 L272.9,296.4 L276.5,295.5 L280.1,294.9 L283.5,294.6 L286.8,294.6 L290.0,294.9 L293.0,295.5 L295.9,296.4 L298.7,297.6 L301.2,299.2Z M299.4,301.8 L301.6,303.5 L303.6,305.5 L305.4,307.8 L307.0,310.3 L308.4,313.0 L309.5,316.0 L310.4,319.2 L311.1,322.5 L311.5,326.1 L311.6,329.8 L311.6,333.6 L311.2,337.6 L310.6,341.6 L309.8,345.8 L308.7,350.0 L307.4,354.2 L305.9,358.5 L304.1,362.7 L302.1,367.0 L299.9,371.2 L297.6,375.3 L295.0,379.4 L292.3,383.3 L289.4,387.2 L286.4,390.9 L283.3,394.4 L280.0,397.8 L276.7,400.9 L273.2,403.9 L269.7,406.7 L266.2,409.2 L262.6,411.4 L259.1,413.4 L255.5,415.2 L251.9,416.6 L248.4,417.8 L245.0,418.7 L241.6,419.3 L238.3,419.6 L235.2,419.6 L232.1,419.3 L229.2,418.7 L226.4,417.8 L223.8,416.7 L221.4,415.2 L219.2,413.5 L217.2,411.5 L215.4,409.2 L213.8,406.7 L212.4,404.0 L211.3,401.0 L210.4,397.8 L209.7,394.5 L209.3,390.9 L209.2,387.2 L209.2,383.4 L209.6,379.4 L210.2,375.4 L211.0,371.2 L212.1,367.0 L213.4,362.8 L214.9,358.5 L216.7,354.3 L218.7,350.0 L220.9,345.8 L223.2,341.7 L225.8,337.6 L228.5,333.7 L231.4,329.8 L234.4,326.1 L237.5,322.6 L240.8,319.2 L244.1,316.1 L247.6,313.1 L251.1,310.3 L254.6,307.8 L258.2,305.6 L261.7,303.6 L265.3,301.8 L268.9,300.4 L272.4,299.2 L275.8,298.3 L279.2,297.7 L282.5,297.4 L285.6,297.4 L288.7,297.7 L291.6,298.3 L294.4,299.2 L297.0,300.3 L299.4,301.8Z" fill="#fff" stroke="#000" stroke-width="1.69" fill-rule="evenodd"/>
<path d="M321.1,440.6 L317.0,443.9 L312.9,447.0 L308.7,449.7 L304.5,452.1 L300.3,454.2 L296.2,455.9 L292.0,457.2 L288.0,458.2 L284.0,458.8 L280.1,459.1 L276.3,458.9 L272.7,458.4 L269.3,457.5 L266.0,456.3 L262.9,454.6 L260.0,452.7 L257.3,450.4 L254.9,447.7 L252.7,444.7 L250.8,441.5 L249.1,437.9 L247.8,434.1 L246.7,430.0 L245.8,425.7 L245.3,421.2 L245.1,416.5 L245.2,411.6 L245.5,406.6 L246.2,401.5 L247.1,396.2 L248.3,391.0 L249.9,385.6 L251.6,380.3 L253.7,375.0 L256.0,369.7 L258.5,364.5 L261.3,359.4 L264.3,354.4 L267.5,349.6 L270.8,344.9 L274.4,340.4 L278.0,336.1 L281.9,332.1 L285.8,328.3 L289.8,324.8 L293.9,321.6 L298.0,318.7 L302.2,316.1 L306.4,313.8 L310.6,311.9 L314.8,310.4 L318.9,309.2" fill="none" stroke="#000" stroke-width="1.3" />
<path d="M347.8,313.1 L350.6,315.0 L353.3,317.2 L355.8,319.8 L358.0,322.6 L359.9,325.8 L361.6,329.3 L363.0,333.0 L364.2,337.0 L365.1,341.2 L365.7,345.7 L366.0,350.3 L366.0,355.1 L365.7,360.0 L365.1,365.1 L364.2,370.2 L363.1,375.4 L361.7,380.7 L360.0,386.0 L358.1,391.2 L355.9,396.5 L353.4,401.6 L350.8,406.7 L347.9,411.7 L344.8,416.6 L341.6,421.3 L338.1,425.8 L334.5,430.1 L330.8,434.2 L326.9,438.1 L323.0,441.7 L319.0,445.0 L314.9,448.0 L310.8,450.7 L306.6,453.1 L302.5,455.1 L298.3,456.8 L294.2,458.2 L290.2,459.2 L286.3,459.8 L282.4,460.1 L278.7,460.0 L275.1,459.5 L271.6,458.7 L268.3,457.5 L265.2,455.9 L262.4,454.0 L259.7,451.8 L257.2,449.2 L255.0,446.4 L253.1,443.2 L251.4,439.7 L250.0,436.0 L248.8,432.0 L247.9,427.8 L247.3,423.3 L247.0,418.7 L247.0,413.9 L247.3,409.0 L247.9,403.9 L248.8,398.8 L249.9,393.6 L251.3,388.3 L253.0,383.0 L254.9,377.8 L257.1,372.5 L259.6,367.4 L262.2,362.3 L265.1,357.3 L268.2,352.4 L271.4,347.7 L274.9,343.2 L278.5,338.9 L282.2,334.8 L286.1,330.9 L290.0,327.3 L294.0,324.0 L298.1,321.0 L302.2,318.3 L306.4,315.9 L310.5,313.9 L314.7,312.2 L318.8,310.8 L322.8,309.8 L326.7,309.2 L330.6,308.9 L334.3,309.0 L337.9,309.5 L341.4,310.3 L344.7,311.5 L347.8,313.1Z M337.8,330.4 L340.2,332.0 L339.3,337.1 L340.4,338.2 L344.2,335.9 L346.0,338.4 L344.2,343.6 L345.0,345.2 L348.7,343.9 L349.8,347.2 L347.3,352.2 L347.7,354.1 L351.2,353.9 L351.5,357.8 L348.3,362.4 L348.3,364.6 L351.4,365.4 L350.9,369.7 L347.2,373.7 L346.8,376.0 L349.3,377.9 L348.1,382.4 L344.1,385.5 L343.3,387.9 L345.1,390.7 L343.2,395.2 L339.1,397.3 L337.9,399.6 L339.0,403.2 L336.4,407.4 L332.5,408.5 L331.0,410.6 L331.2,414.8 L328.2,418.5 L324.5,418.4 L322.8,420.2 L322.2,424.9 L318.8,427.9 L315.7,426.7 L313.8,428.1 L312.4,432.9 L308.9,435.2 L306.4,432.8 L304.5,433.8 L302.3,438.5 L298.8,439.8 L297.1,436.5 L295.2,437.0 L292.4,441.4 L289.1,441.7 L288.2,437.6 L286.6,437.5 L283.3,441.4 L280.3,440.8 L280.3,436.1 L278.9,435.5 L275.2,438.6 L272.8,437.0 L273.7,431.9 L272.6,430.8 L268.8,433.1 L267.0,430.6 L268.8,425.4 L268.0,423.8 L264.3,425.1 L263.2,421.8 L265.7,416.8 L265.3,414.9 L261.8,415.1 L261.5,411.2 L264.7,406.6 L264.7,404.4 L261.6,403.6 L262.1,399.3 L265.8,395.3 L266.2,393.0 L263.7,391.1 L264.9,386.6 L268.9,383.5 L269.7,381.1 L267.9,378.3 L269.8,373.8 L273.9,371.7 L275.1,369.4 L274.0,365.8 L276.6,361.6 L280.5,360.5 L282.0,358.4 L281.8,354.2 L284.8,350.5 L288.5,350.6 L290.2,348.8 L290.8,344.1 L294.2,341.1 L297.3,342.3 L299.2,340.9 L300.6,336.1 L304.1,333.8 L306.6,336.2 L308.5,335.2 L310.7,330.5 L314.2,329.2 L315.9,332.5 L317.8,332.0 L320.6,327.6 L323.9,327.3 L324.8,331.4 L326.4,331.5 L329.7,327.6 L332.7,328.2 L332.7,332.9 L334.1,333.5Z" fill="#fff" stroke="#000" stroke-width="1.69" fill-rule="evenodd"/>
<path d="M379.0,336.9 L382.1,331.2 L388.9,335.2 L385.3,340.6Z" fill="#fff" stroke="#000" stroke-width="1.43" />
<path d="M381.3,338.1 L384.4,332.4 L391.2,336.4 L387.6,341.8Z" fill="#fff" stroke="#000" stroke-width="1.43" />
<path d="M398.1,370.0 L402.7,366.9 L402.5,378.2 L398.0,380.4Z" fill="#fff" stroke="#000" stroke-width="1.43" />
<path d="M400.4,371.2 L405.0,368.2 L404.8,379.5 L400.2,381.6Z" fill="#fff" stroke="#000" stroke-width="1.43" />
<path d="M384.1,425.0 L387.6,426.4 L380.5,438.4 L377.6,436.1Z" fill="#fff" stroke="#000" stroke-width="1.43" />
<path d="M386.4,426.2 L389.9,427.7 L382.8,439.6 L379.9,437.3Z" fill="#fff" stroke="#000" stroke-width="1.43" />
<path d="M345.3,469.8 L345.6,474.8 L335.8,480.4 L336.3,474.9Z" fill="#fff" stroke="#000" stroke-width="1.43" />
<path d="M347.6,471.0 L347.9,476.1 L338.1,481.7 L338.5,476.2Z" fill="#fff" stroke="#000" stroke-width="1.43" />
<path d="M304.4,478.0 L301.4,483.8 L294.5,479.7 L298.1,474.3Z" fill="#fff" stroke="#000" stroke-width="1.43" />
<path d="M306.7,479.3 L303.6,485.0 L296.8,481.0 L300.4,475.6Z" fill="#fff" stroke="#000" stroke-width="1.43" />
<path d="M285.3,444.9 L280.8,448.0 L280.9,436.7 L285.5,434.5Z" fill="#fff" stroke="#000" stroke-width="1.43" />
<path d="M287.6,446.2 L283.0,449.2 L283.2,437.9 L287.8,435.8Z" fill="#fff" stroke="#000" stroke-width="1.43" />
<path d="M299.3,389.9 L295.9,388.5 L302.9,376.5 L305.8,378.9Z" fill="#fff" stroke="#000" stroke-width="1.43" />
<path d="M301.6,391.2 L298.1,389.7 L305.2,377.8 L308.1,380.1Z" fill="#fff" stroke="#000" stroke-width="1.43" />
<path d="M338.1,345.2 L337.8,340.1 L347.6,334.5 L347.2,340.0Z" fill="#fff" stroke="#000" stroke-width="1.43" />
<path d="M340.4,346.4 L340.1,341.3 L349.9,335.7 L349.5,341.2Z" fill="#fff" stroke="#000" stroke-width="1.43" />
<path d="M326.0,479.6 L322.2,480.5 L318.5,480.9 L314.9,481.1 L311.5,480.8 L308.1,480.3 L305.0,479.3 L302.0,478.0 L299.2,476.4 L296.7,474.4 L294.3,472.1 L292.2,469.5 L290.3,466.6 L288.7,463.4 L287.3,459.9 L286.2,456.2 L285.4,452.2 L284.8,448.0 L284.5,443.6 L284.5,439.1 L284.8,434.4 L285.4,429.5 L286.2,424.6 L287.3,419.5 L288.7,414.4 L290.3,409.3 L292.1,404.2 L294.3,399.0 L296.6,394.0 L299.2,388.9 L301.9,384.0 L304.9,379.2 L308.0,374.5 L311.4,370.0 L314.8,365.7 L318.4,361.6 L322.1,357.7 L325.9,354.0 L329.8,350.6 L333.7,347.5 L337.7,344.6 L341.7,342.1 L345.6,339.9 L349.6,338.0 L353.6,336.5 L357.4,335.3" fill="none" stroke="#000" stroke-width="1.3" />
<path d="M385.1,338.9 L387.8,340.7 L390.2,342.8 L392.5,345.3 L394.5,348.1 L396.2,351.1 L397.7,354.5 L399.0,358.1 L399.9,361.9 L400.6,366.0 L401.1,370.3 L401.2,374.8 L401.1,379.4 L400.7,384.2 L400.0,389.1 L399.0,394.1 L397.8,399.2 L396.3,404.3 L394.5,409.4 L392.5,414.6 L390.3,419.7 L387.9,424.7 L385.2,429.7 L382.3,434.6 L379.3,439.3 L376.0,443.9 L372.7,448.3 L369.1,452.6 L365.5,456.6 L361.7,460.4 L357.9,463.9 L354.0,467.2 L350.0,470.1 L346.1,472.8 L342.1,475.2 L338.1,477.2 L334.1,478.9 L330.2,480.3 L326.4,481.3 L322.6,482.0 L319.0,482.3 L315.4,482.2 L312.1,481.8 L308.8,481.1 L305.8,480.0 L302.9,478.5 L300.2,476.7 L297.8,474.6 L295.5,472.1 L293.5,469.3 L291.8,466.3 L290.3,462.9 L289.0,459.3 L288.1,455.5 L287.4,451.4 L286.9,447.1 L286.8,442.6 L286.9,438.0 L287.3,433.2 L288.0,428.3 L289.0,423.3 L290.2,418.2 L291.7,413.1 L293.5,408.0 L295.5,402.8 L297.7,397.7 L300.1,392.7 L302.8,387.7 L305.7,382.8 L308.7,378.1 L312.0,373.5 L315.3,369.1 L318.9,364.8 L322.5,360.8 L326.3,357.0 L330.1,353.5 L334.0,350.2 L338.0,347.3 L341.9,344.6 L345.9,342.2 L349.9,340.2 L353.9,338.5 L357.8,337.1 L361.6,336.1 L365.4,335.4 L369.0,335.1 L372.6,335.2 L375.9,335.6 L379.2,336.3 L382.2,337.4 L385.1,338.9Z M380.6,346.5 L383.0,348.1 L385.2,350.0 L387.2,352.2 L389.0,354.7 L390.6,357.4 L391.9,360.4 L393.0,363.6 L393.9,367.0 L394.5,370.6 L394.9,374.5 L395.0,378.5 L394.9,382.6 L394.5,386.9 L393.9,391.2 L393.0,395.7 L391.9,400.2 L390.6,404.8 L389.0,409.3 L387.3,413.9 L385.3,418.5 L383.1,423.0 L380.7,427.4 L378.2,431.7 L375.4,436.0 L372.6,440.1 L369.5,444.0 L366.4,447.8 L363.2,451.4 L359.8,454.7 L356.4,457.9 L352.9,460.8 L349.4,463.5 L345.8,465.8 L342.3,468.0 L338.7,469.8 L335.2,471.3 L331.7,472.5 L328.3,473.4 L324.9,474.0 L321.7,474.3 L318.5,474.3 L315.5,473.9 L312.6,473.2 L309.9,472.2 L307.4,470.9 L305.0,469.3 L302.8,467.4 L300.8,465.2 L299.0,462.7 L297.4,460.0 L296.1,457.0 L295.0,453.8 L294.1,450.4 L293.5,446.8 L293.1,442.9 L293.0,438.9 L293.1,434.8 L293.5,430.5 L294.1,426.2 L295.0,421.7 L296.1,417.2 L297.4,412.6 L299.0,408.1 L300.7,403.5 L302.7,398.9 L304.9,394.4 L307.3,390.0 L309.8,385.7 L312.6,381.4 L315.4,377.3 L318.5,373.4 L321.6,369.6 L324.8,366.0 L328.2,362.7 L331.6,359.5 L335.1,356.6 L338.6,353.9 L342.2,351.6 L345.7,349.4 L349.3,347.6 L352.8,346.1 L356.3,344.9 L359.7,344.0 L363.1,343.4 L366.3,343.1 L369.5,343.1 L372.5,343.5 L375.4,344.2 L378.1,345.2 L380.6,346.5Z" fill="#fff" stroke="#000" stroke-width="1.69" fill-rule="evenodd"/>
<path d="M382.2,346.7 L387.1,341.0 M385.5,349.4 L390.7,344.1 M388.3,352.7 L393.7,347.9 M390.7,356.5 L396.2,352.3 M392.7,360.9 L398.2,357.3 M394.1,365.8 L399.6,362.8 M395.0,371.1 L400.5,368.8 M395.4,376.8 L400.8,375.2 M395.3,382.9 L400.5,381.9 M394.6,389.2 L399.6,388.9 M393.4,395.6 L398.2,396.2 M391.7,402.3 L396.1,403.5 M389.6,409.0 L393.6,410.9 M386.9,415.7 L390.6,418.3 M383.8,422.3 L387.0,425.6 M380.3,428.8 L383.1,432.7 M376.5,435.0 L378.7,439.5 M372.3,441.1 L374.0,446.1 M367.8,446.7 L368.9,452.2 M363.0,452.0 L363.6,458.0 M358.1,456.8 L358.1,463.2 M353.0,461.2 L352.5,467.8 M347.9,465.0 L346.8,471.9 M342.7,468.2 L341.0,475.3 M337.5,470.8 L335.3,478.0 M332.3,472.8 L329.7,480.0 M327.3,474.1 L324.2,481.2 M322.5,474.8 L318.9,481.8 M317.9,474.8 L313.9,481.5 M313.5,474.1 L309.2,480.6 M309.5,472.7 L304.8,478.9 M305.8,470.7 L300.9,476.4 M302.5,468.0 L297.3,473.3 M299.7,464.7 L294.3,469.5 M297.3,460.9 L291.8,465.1 M295.3,456.5 L289.8,460.1 M293.9,451.6 L288.4,454.6 M293.0,446.3 L287.5,448.6 M292.6,440.6 L287.2,442.2 M292.7,434.5 L287.5,435.5 M293.4,428.2 L288.4,428.5 M294.6,421.8 L289.8,421.2 M296.3,415.1 L291.9,413.9 M298.4,408.4 L294.4,406.5 M301.1,401.7 L297.4,399.1 M304.2,395.1 L301.0,391.8 M307.7,388.6 L304.9,384.7 M311.5,382.4 L309.3,377.9 M315.7,376.3 L314.0,371.3 M320.2,370.7 L319.1,365.2 M325.0,365.4 L324.4,359.4 M329.9,360.6 L329.9,354.2 M335.0,356.2 L335.5,349.6 M340.1,352.4 L341.2,345.5 M345.3,349.2 L347.0,342.1 M350.5,346.6 L352.7,339.4 M355.7,344.6 L358.3,337.4 M360.7,343.3 L363.8,336.2 M365.5,342.6 L369.1,335.6 M370.1,342.6 L374.1,335.9 M374.5,343.3 L378.8,336.8 M378.5,344.7 L383.2,338.5 " fill="none" stroke="#000" stroke-width="1.69" />
<path d="M422.5,367.1 L424.9,368.9 L427.0,371.0 L428.9,373.4 L430.6,376.0 L432.0,378.9 L433.2,382.0 L434.1,385.3 L434.8,388.8 L435.2,392.5 L435.4,396.4 L435.3,400.4 L434.9,404.5 L434.3,408.8 L433.4,413.1 L432.3,417.5 L430.9,422.0 L429.3,426.4 L427.5,430.9 L425.4,435.3 L423.1,439.7 L420.7,444.1 L418.0,448.3 L415.2,452.5 L412.1,456.5 L409.0,460.3 L405.7,464.0 L402.3,467.6 L398.8,470.9 L395.2,474.0 L391.5,476.9 L387.8,479.5 L384.1,481.9 L380.4,484.0 L376.6,485.8 L372.9,487.3 L369.2,488.5 L365.6,489.5 L362.1,490.1 L358.7,490.4 L355.4,490.4 L352.2,490.1 L349.1,489.5 L346.2,488.6 L343.5,487.3 L341.0,485.8 L338.7,484.0 L336.5,481.9 L334.6,479.5 L333.0,476.9 L331.5,474.0 L330.3,470.9 L329.4,467.6 L328.7,464.1 L328.3,460.4 L328.1,456.5 L328.2,452.5 L328.6,448.4 L329.2,444.1 L330.1,439.8 L331.2,435.4 L332.6,431.0 L334.2,426.5 L336.0,422.0 L338.1,417.6 L340.4,413.2 L342.9,408.9 L345.5,404.6 L348.4,400.5 L351.4,396.5 L354.5,392.6 L357.8,388.9 L361.2,385.4 L364.7,382.0 L368.3,378.9 L372.0,376.1 L375.7,373.4 L379.4,371.1 L383.2,369.0 L386.9,367.2 L390.6,365.6 L394.3,364.4 L397.9,363.5 L401.4,362.8 L404.9,362.5 L408.2,362.5 L411.4,362.8 L414.4,363.4 L417.3,364.4 L420.0,365.6 L422.5,367.1Z M420.8,369.6 L423.1,371.3 L425.1,373.3 L426.9,375.6 L428.5,378.1 L429.9,380.9 L431.0,383.8 L431.9,387.0 L432.6,390.4 L433.0,393.9 L433.2,397.6 L433.1,401.5 L432.7,405.5 L432.1,409.5 L431.3,413.7 L430.2,417.9 L428.9,422.2 L427.4,426.4 L425.6,430.7 L423.6,435.0 L421.4,439.2 L419.0,443.3 L416.5,447.4 L413.8,451.4 L410.9,455.2 L407.9,458.9 L404.7,462.5 L401.4,465.9 L398.1,469.0 L394.6,472.0 L391.1,474.8 L387.6,477.3 L384.0,479.6 L380.4,481.6 L376.8,483.3 L373.3,484.8 L369.8,486.0 L366.3,486.8 L362.9,487.4 L359.6,487.7 L356.5,487.7 L353.4,487.4 L350.5,486.9 L347.7,486.0 L345.1,484.8 L342.7,483.3 L340.5,481.6 L338.4,479.6 L336.6,477.3 L335.0,474.8 L333.6,472.1 L332.5,469.1 L331.6,465.9 L330.9,462.5 L330.5,459.0 L330.4,455.3 L330.5,451.4 L330.8,447.5 L331.4,443.4 L332.2,439.2 L333.3,435.0 L334.6,430.8 L336.2,426.5 L337.9,422.2 L339.9,418.0 L342.1,413.7 L344.5,409.6 L347.0,405.5 L349.8,401.6 L352.7,397.7 L355.7,394.0 L358.8,390.4 L362.1,387.1 L365.5,383.9 L368.9,380.9 L372.4,378.2 L375.9,375.6 L379.5,373.4 L383.1,371.4 L386.7,369.6 L390.2,368.2 L393.8,367.0 L397.2,366.1 L400.6,365.5 L403.9,365.2 L407.1,365.2 L410.1,365.5 L413.1,366.1 L415.8,367.0 L418.4,368.1 L420.8,369.6Z" fill="#fff" stroke="#000" stroke-width="1.43" fill-rule="evenodd"/>
<path d="M425.2,368.6 L427.5,370.4 L429.6,372.5 L431.5,374.8 L433.2,377.5 L434.6,380.3 L435.8,383.4 L436.8,386.7 L437.4,390.3 L437.9,394.0 L438.0,397.8 L437.9,401.8 L437.6,406.0 L437.0,410.2 L436.1,414.6 L435.0,419.0 L433.6,423.4 L432.0,427.9 L430.1,432.3 L428.1,436.8 L425.8,441.2 L423.3,445.5 L420.6,449.8 L417.8,453.9 L414.8,457.9 L411.6,461.8 L408.3,465.5 L404.9,469.0 L401.4,472.3 L397.8,475.4 L394.2,478.3 L390.5,480.9 L386.7,483.3 L383.0,485.4 L379.3,487.2 L375.5,488.7 L371.9,490.0 L368.3,490.9 L364.7,491.5 L361.3,491.8 L358.0,491.8 L354.8,491.5 L351.8,490.9 L348.9,490.0 L346.1,488.8 L343.6,487.2 L341.3,485.4 L339.2,483.3 L337.3,481.0 L335.6,478.3 L334.2,475.5 L333.0,472.4 L332.0,469.1 L331.4,465.5 L330.9,461.8 L330.8,458.0 L330.9,454.0 L331.2,449.8 L331.8,445.6 L332.7,441.2 L333.8,436.8 L335.2,432.4 L336.8,427.9 L338.7,423.5 L340.7,419.0 L343.0,414.6 L345.5,410.3 L348.2,406.0 L351.0,401.9 L354.0,397.9 L357.2,394.0 L360.5,390.3 L363.9,386.8 L367.4,383.5 L371.0,380.4 L374.6,377.5 L378.3,374.9 L382.1,372.5 L385.8,370.4 L389.5,368.6 L393.3,367.1 L396.9,365.8 L400.5,364.9 L404.1,364.3 L407.5,364.0 L410.8,364.0 L414.0,364.3 L417.0,364.9 L419.9,365.8 L422.7,367.0 L425.2,368.6Z M423.4,371.2 L425.6,372.9 L427.6,374.9 L429.4,377.2 L431.0,379.7 L432.4,382.4 L433.5,385.4 L434.4,388.6 L435.1,391.9 L435.5,395.5 L435.6,399.2 L435.6,403.0 L435.2,407.0 L434.6,411.0 L433.8,415.2 L432.7,419.4 L431.4,423.6 L429.9,427.9 L428.1,432.1 L426.1,436.4 L423.9,440.6 L421.6,444.7 L419.0,448.8 L416.3,452.7 L413.4,456.6 L410.4,460.3 L407.3,463.8 L404.0,467.2 L400.7,470.3 L397.2,473.3 L393.7,476.1 L390.2,478.6 L386.6,480.8 L383.1,482.8 L379.5,484.6 L375.9,486.0 L372.4,487.2 L369.0,488.1 L365.6,488.7 L362.3,489.0 L359.2,489.0 L356.1,488.7 L353.2,488.1 L350.4,487.2 L347.8,486.1 L345.4,484.6 L343.2,482.9 L341.2,480.9 L339.4,478.6 L337.8,476.1 L336.4,473.4 L335.3,470.4 L334.4,467.2 L333.7,463.9 L333.3,460.3 L333.2,456.6 L333.2,452.8 L333.6,448.8 L334.2,444.8 L335.0,440.6 L336.1,436.4 L337.4,432.2 L338.9,427.9 L340.7,423.7 L342.7,419.4 L344.9,415.2 L347.2,411.1 L349.8,407.0 L352.5,403.1 L355.4,399.2 L358.4,395.5 L361.5,392.0 L364.8,388.6 L368.1,385.5 L371.6,382.5 L375.1,379.7 L378.6,377.2 L382.2,375.0 L385.7,373.0 L389.3,371.2 L392.9,369.8 L396.4,368.6 L399.8,367.7 L403.2,367.1 L406.5,366.8 L409.6,366.8 L412.7,367.1 L415.6,367.7 L418.4,368.6 L421.0,369.7 L423.4,371.2Z" fill="#fff" stroke="#000" stroke-width="1.69" fill-rule="evenodd"/>
<path d="M430.1,521.3 L426.7,521.7 L423.5,521.8 L420.4,521.6 L417.4,521.1 L414.6,520.4 L411.9,519.3 L409.4,517.9 L407.1,516.3 L405.0,514.4 L403.1,512.2 L401.5,509.8 L400.0,507.1 L398.8,504.3 L397.8,501.2 L397.1,497.9 L396.6,494.4 L396.4,490.8 L396.5,487.0 L396.7,483.1 L397.3,479.1 L398.0,475.0 L399.1,470.8 L400.3,466.6 L401.8,462.4 L403.5,458.1 L405.5,453.9 L407.6,449.7 L410.0,445.6 L412.5,441.5 L415.2,437.6 L418.1,433.8 L421.1,430.1 L424.2,426.5 L427.5,423.2 L430.8,420.0 L434.2,417.0 L437.7,414.3 L441.3,411.8 L444.9,409.5 L448.5,407.5 L452.0,405.8 L455.6,404.3 L459.1,403.1 L462.6,402.2 L466.0,401.6 L469.3,401.3 L472.4,401.3 L475.5,401.6 L478.4,402.2 L481.2,403.1 L483.8,404.3 L486.2,405.7 L488.5,407.5 L490.5,409.5 L492.3,411.7 L493.9,414.2 L495.2,417.0 L496.4,419.9 L497.3,423.1 L497.9,426.5 L498.3,430.0 L498.4,433.7" fill="#fff" stroke="#000" stroke-width="1.43" />
<path d="M488.1,403.4 L491.6,406.3 L507.5,414.7 L504.0,411.8Z" fill="#fff" stroke="#000" stroke-width="1.43" />
<path d="M493.7,408.8 L496.3,412.8 L512.2,421.2 L509.6,417.2Z" fill="#fff" stroke="#000" stroke-width="1.43" />
<path d="M497.8,416.0 L499.3,420.9 L515.2,429.4 L513.7,424.4Z" fill="#fff" stroke="#000" stroke-width="1.43" />
<path d="M397.0,507.1 L395.5,502.2 L411.4,510.6 L412.9,515.6Z" fill="#fff" stroke="#000" stroke-width="1.43" />
<path d="M394.7,498.3 L394.2,492.7 L410.1,501.1 L410.6,506.8Z" fill="#fff" stroke="#000" stroke-width="1.43" />
<path d="M394.2,488.3 L394.7,482.1 L410.6,490.5 L410.1,496.8Z" fill="#fff" stroke="#000" stroke-width="1.43" />
<path d="M395.5,477.4 L397.0,470.8 L412.9,479.3 L411.4,485.9Z" fill="#fff" stroke="#000" stroke-width="1.43" />
<path d="M398.5,466.0 L401.1,459.2 L417.0,467.7 L414.4,474.4Z" fill="#fff" stroke="#000" stroke-width="1.43" />
<path d="M403.3,454.4 L406.7,447.7 L422.6,456.2 L419.2,462.8Z" fill="#fff" stroke="#000" stroke-width="1.43" />
<path d="M409.5,443.0 L413.7,436.7 L429.6,445.1 L425.4,451.4Z" fill="#fff" stroke="#000" stroke-width="1.43" />
<path d="M417.0,432.3 L421.8,426.5 L437.7,434.9 L432.9,440.7Z" fill="#fff" stroke="#000" stroke-width="1.43" />
<path d="M425.5,422.5 L430.9,417.5 L446.8,425.9 L441.4,431.0Z" fill="#fff" stroke="#000" stroke-width="1.43" />
<path d="M434.8,414.1 L440.5,410.0 L456.3,418.4 L450.7,422.6Z" fill="#fff" stroke="#000" stroke-width="1.43" />
<path d="M444.6,407.3 L450.3,404.2 L466.2,412.7 L460.5,415.8Z" fill="#fff" stroke="#000" stroke-width="1.43" />
<path d="M454.4,402.4 L460.0,400.4 L475.9,408.9 L470.3,410.8Z" fill="#fff" stroke="#000" stroke-width="1.43" />
<path d="M464.0,399.5 L469.3,398.7 L485.2,407.2 L479.9,407.9Z" fill="#fff" stroke="#000" stroke-width="1.43" />
<path d="M473.0,398.6 L477.8,399.1 L493.7,407.6 L488.9,407.1Z" fill="#fff" stroke="#000" stroke-width="1.43" />
<path d="M481.1,400.0 L485.3,401.7 L501.2,410.2 L497.0,408.4Z" fill="#fff" stroke="#000" stroke-width="1.43" />
<path d="M506.2,403.6 L508.8,405.6 L511.1,407.9 L513.2,410.6 L515.0,413.5 L516.6,416.7 L517.9,420.1 L518.9,423.8 L519.6,427.7 L520.1,431.8 L520.2,436.0 L520.1,440.5 L519.6,445.0 L518.9,449.7 L517.9,454.5 L516.7,459.3 L515.1,464.2 L513.3,469.1 L511.2,474.0 L508.9,478.9 L506.4,483.8 L503.6,488.5 L500.6,493.2 L497.4,497.7 L494.1,502.1 L490.5,506.3 L486.9,510.4 L483.1,514.2 L479.2,517.9 L475.2,521.3 L471.1,524.4 L467.0,527.2 L462.9,529.8 L458.7,532.1 L454.5,534.0 L450.4,535.7 L446.4,537.0 L442.4,538.0 L438.5,538.6 L434.7,538.9 L431.0,538.9 L427.5,538.5 L424.1,537.8 L420.9,536.7 L417.9,535.3 L415.1,533.6 L412.5,531.6 L410.2,529.3 L408.1,526.6 L406.3,523.7 L404.7,520.5 L403.4,517.1 L402.4,513.4 L401.7,509.5 L401.3,505.4 L401.1,501.1 L401.2,496.7 L401.7,492.1 L402.4,487.5 L403.4,482.7 L404.6,477.8 L406.2,473.0 L408.0,468.0 L410.1,463.1 L412.4,458.3 L415.0,453.4 L417.7,448.7 L420.7,444.0 L423.9,439.5 L427.2,435.1 L430.8,430.8 L434.4,426.8 L438.2,422.9 L442.1,419.3 L446.1,415.9 L450.2,412.8 L454.3,409.9 L458.5,407.4 L462.6,405.1 L466.8,403.1 L470.9,401.5 L474.9,400.2 L478.9,399.2 L482.8,398.5 L486.6,398.2 L490.3,398.3 L493.9,398.7 L497.2,399.4 L500.4,400.4 L503.4,401.8 L506.2,403.6Z" fill="#fff" stroke="#000" stroke-width="1.56" />
<path d="M508.8,405.0 L511.4,407.0 L513.7,409.3 L515.8,412.0 L517.7,414.9 L519.2,418.1 L520.5,421.5 L521.5,425.2 L522.3,429.1 L522.7,433.2 L522.9,437.4 L522.7,441.9 L522.3,446.4 L521.6,451.1 L520.6,455.9 L519.3,460.7 L517.8,465.6 L515.9,470.5 L513.9,475.5 L511.6,480.3 L509.0,485.2 L506.2,489.9 L503.2,494.6 L500.1,499.1 L496.7,503.5 L493.2,507.8 L489.5,511.8 L485.7,515.7 L481.8,519.3 L477.8,522.7 L473.8,525.8 L469.6,528.6 L465.5,531.2 L461.3,533.5 L457.2,535.5 L453.1,537.1 L449.0,538.4 L445.0,539.4 L441.1,540.0 L437.3,540.3 L433.6,540.3 L430.1,539.9 L426.7,539.2 L423.5,538.1 L420.5,536.8 L417.8,535.0 L415.2,533.0 L412.9,530.7 L410.8,528.0 L408.9,525.1 L407.4,521.9 L406.1,518.5 L405.1,514.8 L404.3,510.9 L403.9,506.8 L403.7,502.6 L403.9,498.1 L404.3,493.6 L405.0,488.9 L406.0,484.1 L407.3,479.3 L408.8,474.4 L410.7,469.5 L412.7,464.5 L415.0,459.7 L417.6,454.8 L420.4,450.1 L423.4,445.4 L426.5,440.9 L429.9,436.5 L433.4,432.2 L437.1,428.2 L440.9,424.3 L444.8,420.7 L448.8,417.3 L452.8,414.2 L457.0,411.4 L461.1,408.8 L465.3,406.5 L469.4,404.5 L473.5,402.9 L477.6,401.6 L481.6,400.6 L485.5,400.0 L489.3,399.7 L493.0,399.7 L496.5,400.1 L499.9,400.8 L503.1,401.9 L506.1,403.2 L508.8,405.0Z" fill="#fff" stroke="#000" stroke-width="1.95" />
<path d="M483.5,448.6 L484.5,449.4 L485.4,450.3 L486.2,451.3 L486.9,452.5 L487.5,453.7 L488.0,455.1 L488.4,456.5 L488.7,458.0 L488.9,459.6 L489.0,461.3 L488.9,463.0 L488.7,464.8 L488.5,466.6 L488.1,468.5 L487.6,470.4 L487.0,472.3 L486.3,474.2 L485.4,476.1 L484.5,478.0 L483.5,479.9 L482.5,481.8 L481.3,483.6 L480.1,485.4 L478.7,487.1 L477.4,488.7 L475.9,490.3 L474.5,491.8 L472.9,493.2 L471.4,494.6 L469.8,495.8 L468.2,496.9 L466.6,497.9 L464.9,498.8 L463.3,499.6 L461.7,500.2 L460.1,500.7 L458.6,501.1 L457.0,501.3 L455.6,501.5 L454.1,501.5 L452.7,501.3 L451.4,501.0 L450.2,500.6 L449.0,500.1 L447.9,499.4 L446.9,498.6 L446.0,497.7 L445.2,496.7 L444.5,495.5 L443.9,494.3 L443.4,492.9 L443.0,491.5 L442.7,490.0 L442.5,488.4 L442.4,486.7 L442.5,485.0 L442.7,483.2 L442.9,481.4 L443.3,479.5 L443.8,477.6 L444.4,475.7 L445.1,473.8 L446.0,471.9 L446.9,470.0 L447.9,468.1 L448.9,466.2 L450.1,464.4 L451.3,462.6 L452.7,460.9 L454.0,459.3 L455.5,457.7 L456.9,456.2 L458.5,454.8 L460.0,453.4 L461.6,452.2 L463.2,451.1 L464.8,450.1 L466.5,449.2 L468.1,448.4 L469.7,447.8 L471.3,447.3 L472.8,446.9 L474.4,446.7 L475.8,446.5 L477.3,446.5 L478.7,446.7 L480.0,447.0 L481.2,447.4 L482.4,447.9 L483.5,448.6Z" fill="none" stroke="#000" stroke-width="1.69" />
<path d="M482.2,452.5 L483.1,453.2 L483.9,454.0 L484.6,454.9 L485.2,455.9 L485.7,456.9 L486.2,458.1 L486.5,459.4 L486.7,460.7 L486.9,462.1 L487.0,463.5 L486.9,465.0 L486.8,466.6 L486.5,468.2 L486.2,469.8 L485.7,471.5 L485.2,473.1 L484.6,474.8 L483.9,476.5 L483.1,478.1 L482.2,479.8 L481.3,481.4 L480.3,483.0 L479.2,484.5 L478.1,486.0 L476.9,487.4 L475.6,488.8 L474.3,490.1 L473.0,491.4 L471.6,492.5 L470.3,493.6 L468.9,494.5 L467.4,495.4 L466.0,496.2 L464.6,496.9 L463.2,497.4 L461.8,497.9 L460.5,498.2 L459.2,498.4 L457.9,498.5 L456.6,498.5 L455.4,498.4 L454.3,498.1 L453.2,497.8 L452.2,497.3 L451.2,496.7 L450.3,496.0 L449.5,495.2 L448.8,494.3 L448.2,493.3 L447.7,492.3 L447.2,491.1 L446.9,489.8 L446.7,488.5 L446.5,487.1 L446.4,485.7 L446.5,484.2 L446.6,482.6 L446.9,481.0 L447.2,479.4 L447.7,477.7 L448.2,476.1 L448.8,474.4 L449.5,472.7 L450.3,471.1 L451.2,469.4 L452.1,467.8 L453.1,466.2 L454.2,464.7 L455.3,463.2 L456.5,461.8 L457.8,460.4 L459.1,459.1 L460.4,457.8 L461.8,456.7 L463.1,455.6 L464.5,454.7 L466.0,453.8 L467.4,453.0 L468.8,452.3 L470.2,451.8 L471.6,451.3 L472.9,451.0 L474.2,450.8 L475.5,450.7 L476.8,450.7 L478.0,450.8 L479.1,451.1 L480.2,451.4 L481.2,451.9 L482.2,452.5Z" fill="none" stroke="#000" stroke-width="1.43" />
<path d="M470.8,464.6 L469.8,468.8 L472.6,469.6 L469.5,473.2 L469.9,476.8 L466.4,477.6 L464.1,481.8 L462.4,479.4 L458.8,481.8 L459.8,477.6 L457.0,476.8 L460.1,473.2 L459.7,469.6 L463.2,468.8 L465.5,464.6 L467.2,467.0Z" fill="#fff" stroke="#000" stroke-width="1.82" />
<path d="M475.7,481.5 L475.7,481.6 L475.7,481.7 L475.7,481.7 L475.7,481.8 L475.6,481.9 L475.6,482.0 L475.6,482.1 L475.5,482.1 L475.5,482.2 L475.4,482.3 L475.4,482.3 L475.3,482.4 L475.2,482.4 L475.2,482.5 L475.1,482.5 L475.0,482.6 L474.9,482.6 L474.9,482.6 L474.8,482.7 L474.7,482.7 L474.6,482.7 L474.5,482.7 L474.5,482.7 L474.4,482.7 L474.3,482.7 L474.2,482.7 L474.1,482.6 L474.1,482.6 L474.0,482.6 L473.9,482.5 L473.8,482.5 L473.8,482.4 L473.7,482.4 L473.6,482.3 L473.6,482.3 L473.5,482.2 L473.5,482.1 L473.4,482.1 L473.4,482.0 L473.4,481.9 L473.3,481.8 L473.3,481.7 L473.3,481.7 L473.3,481.6 L473.3,481.5 L473.3,481.4 L473.3,481.3 L473.3,481.3 L473.3,481.2 L473.4,481.1 L473.4,481.0 L473.4,480.9 L473.5,480.9 L473.5,480.8 L473.6,480.7 L473.6,480.7 L473.7,480.6 L473.8,480.6 L473.8,480.5 L473.9,480.5 L474.0,480.4 L474.1,480.4 L474.1,480.4 L474.2,480.3 L474.3,480.3 L474.4,480.3 L474.5,480.3 L474.5,480.3 L474.6,480.3 L474.7,480.3 L474.8,480.3 L474.9,480.4 L474.9,480.4 L475.0,480.4 L475.1,480.5 L475.2,480.5 L475.2,480.6 L475.3,480.6 L475.4,480.7 L475.4,480.7 L475.5,480.8 L475.5,480.9 L475.6,480.9 L475.6,481.0 L475.6,481.1 L475.7,481.2 L475.7,481.3 L475.7,481.3 L475.7,481.4 L475.7,481.5Z" fill="none" stroke="#000" stroke-width="1.3" />
<path d="M477.7,470.5 L477.7,470.6 L477.7,470.7 L477.7,470.7 L477.7,470.8 L477.6,470.9 L477.6,471.0 L477.6,471.1 L477.5,471.1 L477.5,471.2 L477.4,471.3 L477.4,471.3 L477.3,471.4 L477.2,471.4 L477.2,471.5 L477.1,471.5 L477.0,471.6 L476.9,471.6 L476.9,471.6 L476.8,471.7 L476.7,471.7 L476.6,471.7 L476.5,471.7 L476.5,471.7 L476.4,471.7 L476.3,471.7 L476.2,471.7 L476.1,471.6 L476.1,471.6 L476.0,471.6 L475.9,471.5 L475.8,471.5 L475.8,471.4 L475.7,471.4 L475.6,471.3 L475.6,471.3 L475.5,471.2 L475.5,471.1 L475.4,471.1 L475.4,471.0 L475.4,470.9 L475.3,470.8 L475.3,470.7 L475.3,470.7 L475.3,470.6 L475.3,470.5 L475.3,470.4 L475.3,470.3 L475.3,470.3 L475.3,470.2 L475.4,470.1 L475.4,470.0 L475.4,469.9 L475.5,469.9 L475.5,469.8 L475.6,469.7 L475.6,469.7 L475.7,469.6 L475.8,469.6 L475.8,469.5 L475.9,469.5 L476.0,469.4 L476.1,469.4 L476.1,469.4 L476.2,469.3 L476.3,469.3 L476.4,469.3 L476.5,469.3 L476.5,469.3 L476.6,469.3 L476.7,469.3 L476.8,469.3 L476.9,469.4 L476.9,469.4 L477.0,469.4 L477.1,469.5 L477.2,469.5 L477.2,469.6 L477.3,469.6 L477.4,469.7 L477.4,469.7 L477.5,469.8 L477.5,469.9 L477.6,469.9 L477.6,470.0 L477.6,470.1 L477.7,470.2 L477.7,470.3 L477.7,470.3 L477.7,470.4 L477.7,470.5Z" fill="none" stroke="#000" stroke-width="1.3" />
<path d="M470.0,476.0 L510.0,495.5" fill="none" stroke="#000" stroke-width="1.43" />
<path d="M530.7,483.9 L531.4,484.4 L532.0,485.0 L532.6,485.7 L533.1,486.4 L533.6,487.2 L533.9,488.1 L534.3,489.0 L534.5,490.0 L534.7,491.0 L534.8,492.1 L534.8,493.3 L534.8,494.4 L534.7,495.6 L534.5,496.9 L534.2,498.1 L533.9,499.4 L533.5,500.7 L533.1,502.0 L532.5,503.3 L532.0,504.5 L531.3,505.8 L530.6,507.0 L529.9,508.2 L529.1,509.4 L528.2,510.5 L527.3,511.6 L526.4,512.6 L525.5,513.6 L524.5,514.5 L523.5,515.4 L522.5,516.1 L521.4,516.8 L520.4,517.5 L519.3,518.0 L518.3,518.5 L517.3,518.9 L516.3,519.2 L515.3,519.4 L514.3,519.5 L513.3,519.5 L512.4,519.5 L511.5,519.3 L510.7,519.1 L509.9,518.8 L509.2,518.4 L508.5,517.9 L507.8,517.3 L507.2,516.7 L506.7,515.9 L506.3,515.1 L505.9,514.3 L505.6,513.3 L505.3,512.3 L505.1,511.3 L505.0,510.2 L505.0,509.1 L505.0,507.9 L505.1,506.7 L505.3,505.4 L505.6,504.2 L505.9,502.9 L506.3,501.6 L506.8,500.3 L507.3,499.1 L507.9,497.8 L508.5,496.5 L509.2,495.3 L510.0,494.1 L510.8,492.9 L511.6,491.8 L512.5,490.7 L513.4,489.7 L514.4,488.7 L515.3,487.8 L516.3,487.0 L517.4,486.2 L518.4,485.5 L519.4,484.8 L520.5,484.3 L521.5,483.8 L522.5,483.4 L523.6,483.1 L524.6,482.9 L525.5,482.8 L526.5,482.8 L527.4,482.8 L528.3,483.0 L529.1,483.2 L529.9,483.5 L530.7,483.9Z" fill="#fff" stroke="#000" stroke-width="1.56" />
<path d="M532.3,484.8 L533.0,485.3 L533.6,485.9 L534.2,486.5 L534.7,487.2 L535.1,488.0 L535.5,488.9 L535.8,489.8 L536.1,490.8 L536.3,491.9 L536.4,493.0 L536.4,494.1 L536.4,495.3 L536.3,496.5 L536.1,497.7 L535.8,499.0 L535.5,500.3 L535.1,501.5 L534.6,502.8 L534.1,504.1 L533.5,505.4 L532.9,506.6 L532.2,507.8 L531.4,509.1 L530.6,510.2 L529.8,511.3 L528.9,512.4 L528.0,513.5 L527.0,514.4 L526.1,515.3 L525.1,516.2 L524.0,517.0 L523.0,517.7 L522.0,518.3 L520.9,518.9 L519.9,519.3 L518.9,519.7 L517.9,520.0 L516.9,520.2 L515.9,520.4 L514.9,520.4 L514.0,520.3 L513.1,520.2 L512.3,519.9 L511.5,519.6 L510.7,519.2 L510.0,518.7 L509.4,518.1 L508.8,517.5 L508.3,516.8 L507.9,516.0 L507.5,515.1 L507.2,514.2 L506.9,513.2 L506.7,512.1 L506.6,511.0 L506.6,509.9 L506.6,508.7 L506.7,507.5 L506.9,506.3 L507.2,505.0 L507.5,503.7 L507.9,502.5 L508.4,501.2 L508.9,499.9 L509.5,498.6 L510.1,497.4 L510.8,496.2 L511.6,494.9 L512.4,493.8 L513.2,492.7 L514.1,491.6 L515.0,490.5 L516.0,489.6 L516.9,488.7 L517.9,487.8 L519.0,487.0 L520.0,486.3 L521.0,485.7 L522.1,485.1 L523.1,484.7 L524.1,484.3 L525.1,484.0 L526.1,483.8 L527.1,483.6 L528.1,483.6 L529.0,483.7 L529.9,483.8 L530.7,484.1 L531.5,484.4 L532.3,484.8Z M527.9,491.8 L528.3,492.1 L528.6,492.5 L529.0,492.8 L529.3,493.3 L529.6,493.7 L529.8,494.3 L530.0,494.8 L530.1,495.4 L530.2,496.0 L530.3,496.7 L530.3,497.3 L530.3,498.0 L530.2,498.7 L530.1,499.5 L530.0,500.2 L529.8,501.0 L529.5,501.7 L529.3,502.5 L529.0,503.2 L528.6,504.0 L528.2,504.7 L527.8,505.5 L527.4,506.2 L526.9,506.9 L526.4,507.5 L525.9,508.2 L525.3,508.8 L524.8,509.3 L524.2,509.9 L523.6,510.4 L523.0,510.9 L522.4,511.3 L521.8,511.6 L521.2,512.0 L520.6,512.2 L519.9,512.5 L519.3,512.7 L518.8,512.8 L518.2,512.8 L517.6,512.9 L517.1,512.8 L516.5,512.7 L516.1,512.6 L515.6,512.4 L515.1,512.2 L514.7,511.9 L514.4,511.5 L514.0,511.2 L513.7,510.7 L513.4,510.3 L513.2,509.7 L513.0,509.2 L512.9,508.6 L512.8,508.0 L512.7,507.3 L512.7,506.7 L512.7,506.0 L512.8,505.3 L512.9,504.5 L513.0,503.8 L513.2,503.0 L513.5,502.3 L513.7,501.5 L514.0,500.8 L514.4,500.0 L514.8,499.3 L515.2,498.5 L515.6,497.8 L516.1,497.1 L516.6,496.5 L517.1,495.8 L517.7,495.2 L518.2,494.7 L518.8,494.1 L519.4,493.6 L520.0,493.1 L520.6,492.7 L521.2,492.4 L521.8,492.0 L522.4,491.8 L523.1,491.5 L523.7,491.3 L524.2,491.2 L524.8,491.2 L525.4,491.1 L525.9,491.2 L526.5,491.3 L526.9,491.4 L527.4,491.6 L527.9,491.8Z" fill="#fff" stroke="#000" stroke-width="1.95" fill-rule="evenodd"/>
<path d="M517.8,492.8 L518.4,492.3 L519.0,491.9 L519.6,491.5 L520.2,491.2 L520.9,490.9 L521.5,490.7 L522.1,490.5 L522.7,490.4 L523.2,490.3 L523.8,490.3 L524.3,490.3 L524.9,490.4 L525.4,490.5 L525.8,490.7 L526.3,491.0 L526.7,491.3 L527.1,491.6 L527.4,492.0 L527.7,492.4 L528.0,492.9 L528.2,493.4 L528.4,494.0 L528.5,494.5 L528.6,495.2 L528.7,495.8 L528.7,496.5 L528.7,497.2 L528.6,497.9 L528.5,498.6 L528.4,499.4 L528.2,500.1 L528.0,500.9 L527.7,501.6 L527.4,502.4 L527.0,503.1 L526.6,503.9 L526.2,504.6 L525.8,505.3 L525.3,506.0 L524.8,506.7 L524.3,507.3 L523.8,507.9 L523.2,508.5 L522.6,509.0 L522.0,509.5" fill="none" stroke="#000" stroke-width="1.3" />
<path d="M521.5,502.0 L541.0,512.0" fill="none" stroke="#000" stroke-width="1.43" />
<path d="M559.9,499.9 L560.6,500.4 L561.3,501.0 L561.9,501.7 L562.4,502.4 L562.8,503.2 L563.2,504.1 L563.6,505.1 L563.8,506.1 L564.0,507.1 L564.1,508.2 L564.1,509.4 L564.1,510.6 L564.0,511.8 L563.8,513.1 L563.5,514.3 L563.2,515.6 L562.8,516.9 L562.3,518.2 L561.8,519.5 L561.2,520.8 L560.6,522.1 L559.9,523.3 L559.1,524.6 L558.3,525.7 L557.4,526.9 L556.5,528.0 L555.6,529.0 L554.6,530.0 L553.6,530.9 L552.6,531.8 L551.6,532.6 L550.5,533.3 L549.5,534.0 L548.4,534.5 L547.4,535.0 L546.3,535.4 L545.3,535.7 L544.3,535.9 L543.3,536.0 L542.3,536.1 L541.4,536.0 L540.5,535.8 L539.6,535.6 L538.8,535.3 L538.1,534.9 L537.4,534.4 L536.7,533.8 L536.1,533.1 L535.6,532.4 L535.2,531.6 L534.8,530.7 L534.4,529.7 L534.2,528.7 L534.0,527.7 L533.9,526.6 L533.9,525.4 L533.9,524.2 L534.0,523.0 L534.2,521.7 L534.5,520.5 L534.8,519.2 L535.2,517.9 L535.7,516.6 L536.2,515.3 L536.8,514.0 L537.4,512.7 L538.1,511.5 L538.9,510.2 L539.7,509.1 L540.6,507.9 L541.5,506.8 L542.4,505.8 L543.4,504.8 L544.4,503.9 L545.4,503.0 L546.4,502.2 L547.5,501.5 L548.5,500.8 L549.6,500.3 L550.6,499.8 L551.7,499.4 L552.7,499.1 L553.7,498.9 L554.7,498.8 L555.7,498.7 L556.6,498.8 L557.5,499.0 L558.4,499.2 L559.2,499.5 L559.9,499.9Z M558.1,502.8 L558.7,503.2 L559.2,503.7 L559.7,504.3 L560.2,504.9 L560.6,505.6 L560.9,506.3 L561.2,507.1 L561.4,507.9 L561.5,508.8 L561.6,509.7 L561.6,510.7 L561.6,511.7 L561.5,512.7 L561.4,513.8 L561.1,514.8 L560.9,515.9 L560.5,517.0 L560.1,518.1 L559.7,519.2 L559.2,520.3 L558.7,521.3 L558.1,522.4 L557.4,523.4 L556.8,524.4 L556.0,525.3 L555.3,526.2 L554.5,527.1 L553.7,527.9 L552.9,528.7 L552.0,529.4 L551.2,530.1 L550.3,530.7 L549.4,531.2 L548.5,531.7 L547.6,532.1 L546.8,532.4 L545.9,532.7 L545.1,532.8 L544.2,532.9 L543.4,533.0 L542.7,532.9 L541.9,532.8 L541.2,532.6 L540.5,532.3 L539.9,532.0 L539.3,531.6 L538.8,531.1 L538.3,530.5 L537.8,529.9 L537.4,529.2 L537.1,528.5 L536.8,527.7 L536.6,526.9 L536.5,526.0 L536.4,525.1 L536.4,524.1 L536.4,523.1 L536.5,522.1 L536.6,521.0 L536.9,520.0 L537.1,518.9 L537.5,517.8 L537.9,516.7 L538.3,515.6 L538.8,514.5 L539.3,513.5 L539.9,512.4 L540.6,511.4 L541.2,510.4 L542.0,509.5 L542.7,508.6 L543.5,507.7 L544.3,506.9 L545.1,506.1 L546.0,505.4 L546.8,504.7 L547.7,504.1 L548.6,503.6 L549.5,503.1 L550.4,502.7 L551.2,502.4 L552.1,502.1 L552.9,502.0 L553.8,501.9 L554.6,501.8 L555.3,501.9 L556.1,502.0 L556.8,502.2 L557.5,502.5 L558.1,502.8Z" fill="#fff" stroke="#000" stroke-width="1.82" fill-rule="evenodd"/>
<path d="M543.5,535.1 L542.5,535.3 L541.5,535.3 L540.5,535.3 L539.6,535.2 L538.7,535.0 L537.9,534.8 L537.1,534.4 L536.4,533.9 L535.7,533.4 L535.1,532.8 L534.5,532.1 L534.1,531.3 L533.6,530.4 L533.3,529.5 L533.0,528.6 L532.8,527.5 L532.6,526.4 L532.5,525.3 L532.6,524.1 L532.6,522.9 L532.8,521.7 L533.0,520.4 L533.3,519.1 L533.7,517.8 L534.1,516.5 L534.6,515.2 L535.2,513.9 L535.8,512.6 L536.5,511.4 L537.2,510.1 L538.0,508.9 L538.8,507.8 L539.7,506.7 L540.6,505.6 L541.6,504.6 L542.5,503.6 L543.5,502.7 L544.6,501.9 L545.6,501.1 L546.7,500.4 L547.7,499.8 L548.8,499.3 L549.8,498.9 L550.9,498.6 L551.9,498.3" fill="none" stroke="#000" stroke-width="1.3" />
<path d="M549.4,516.0 L581.0,534.3" fill="none" stroke="#000" stroke-width="1.43" />
<path d="M448.8,40.6 L451.4,42.8 L453.8,45.2 L455.9,48.0 L457.7,51.0 L459.3,54.3 L460.6,57.8 L461.7,61.6 L462.4,65.5 L462.8,69.7 L462.9,74.1 L462.8,78.6 L462.3,83.2 L461.6,87.9 L460.5,92.7 L459.2,97.6 L457.6,102.5 L455.7,107.5 L453.5,112.4 L451.1,117.3 L448.5,122.1 L445.6,126.9 L442.5,131.5 L439.2,136.0 L435.8,140.4 L432.1,144.6 L428.4,148.6 L424.5,152.4 L420.4,156.0 L416.3,159.3 L412.1,162.3 L407.9,165.1 L403.7,167.6 L399.4,169.8 L395.1,171.7 L390.9,173.2 L386.7,174.4 L382.6,175.3 L378.6,175.8 L374.7,176.0 L371.0,175.9 L367.3,175.4 L363.9,174.6 L360.6,173.4 L357.6,171.9 L354.7,170.1 L352.1,167.9 L349.7,165.5 L347.6,162.7 L345.8,159.7 L344.2,156.4 L342.9,152.9 L341.8,149.1 L341.1,145.2 L340.7,141.0 L340.6,136.6 L340.7,132.1 L341.2,127.5 L341.9,122.8 L343.0,118.0 L344.3,113.1 L345.9,108.1 L347.8,103.2 L350.0,98.3 L352.4,93.4 L355.0,88.6 L357.9,83.8 L361.0,79.2 L364.3,74.7 L367.7,70.3 L371.4,66.1 L375.1,62.1 L379.0,58.3 L383.1,54.7 L387.2,51.4 L391.3,48.3 L395.6,45.6 L399.8,43.1 L404.1,40.9 L408.4,39.0 L412.6,37.5 L416.8,36.3 L420.9,35.4 L424.9,34.8 L428.8,34.7 L432.5,34.8 L436.2,35.3 L439.6,36.1 L442.9,37.3 L445.9,38.8 L448.8,40.6Z" fill="#fff" stroke="#000" stroke-width="1.69" />
<path d="M451.6,42.1 L454.2,44.2 L456.6,46.7 L458.7,49.4 L460.6,52.4 L462.2,55.7 L463.5,59.2 L464.5,63.0 L465.2,67.0 L465.7,71.2 L465.8,75.5 L465.6,80.0 L465.2,84.6 L464.4,89.4 L463.4,94.2 L462.0,99.1 L460.4,104.0 L458.5,108.9 L456.4,113.9 L454.0,118.7 L451.3,123.6 L448.5,128.3 L445.4,133.0 L442.1,137.5 L438.6,141.9 L435.0,146.1 L431.2,150.1 L427.3,153.9 L423.3,157.4 L419.2,160.7 L415.0,163.8 L410.8,166.6 L406.5,169.1 L402.2,171.2 L398.0,173.1 L393.7,174.7 L389.6,175.9 L385.5,176.8 L381.5,177.3 L377.6,177.5 L373.8,177.3 L370.2,176.9 L366.7,176.0 L363.5,174.9 L360.4,173.3 L357.6,171.5 L355.0,169.4 L352.6,166.9 L350.5,164.2 L348.6,161.2 L347.0,157.9 L345.7,154.4 L344.7,150.6 L344.0,146.6 L343.5,142.4 L343.4,138.1 L343.6,133.6 L344.0,129.0 L344.8,124.2 L345.8,119.4 L347.2,114.5 L348.8,109.6 L350.7,104.7 L352.8,99.7 L355.2,94.9 L357.9,90.0 L360.7,85.3 L363.8,80.6 L367.1,76.1 L370.6,71.7 L374.2,67.5 L378.0,63.5 L381.9,59.7 L385.9,56.2 L390.0,52.9 L394.2,49.8 L398.4,47.0 L402.7,44.5 L407.0,42.4 L411.2,40.5 L415.5,38.9 L419.6,37.7 L423.7,36.8 L427.7,36.3 L431.6,36.1 L435.4,36.3 L439.0,36.7 L442.5,37.6 L445.7,38.7 L448.8,40.3 L451.6,42.1Z" fill="#fff" stroke="#000" stroke-width="1.82" />
<path d="M443.5,59.4 L445.6,61.1 L447.4,63.0 L449.1,65.2 L450.5,67.5 L451.8,70.1 L452.8,72.8 L453.6,75.8 L454.2,78.9 L454.5,82.2 L454.6,85.6 L454.5,89.1 L454.1,92.7 L453.5,96.4 L452.7,100.2 L451.7,104.0 L450.4,107.8 L448.9,111.7 L447.2,115.5 L445.4,119.3 L443.3,123.1 L441.1,126.8 L438.7,130.4 L436.1,134.0 L433.4,137.4 L430.5,140.7 L427.6,143.8 L424.5,146.8 L421.4,149.5 L418.2,152.1 L414.9,154.5 L411.6,156.7 L408.3,158.6 L405.0,160.4 L401.6,161.8 L398.3,163.0 L395.1,164.0 L391.9,164.7 L388.7,165.1 L385.7,165.2 L382.7,165.1 L379.9,164.7 L377.2,164.1 L374.7,163.2 L372.3,162.0 L370.1,160.6 L368.0,158.9 L366.2,157.0 L364.5,154.8 L363.1,152.5 L361.8,149.9 L360.8,147.2 L360.0,144.2 L359.4,141.1 L359.1,137.8 L359.0,134.4 L359.1,130.9 L359.5,127.3 L360.1,123.6 L360.9,119.8 L361.9,116.0 L363.2,112.2 L364.7,108.3 L366.4,104.5 L368.2,100.7 L370.3,96.9 L372.5,93.2 L374.9,89.6 L377.5,86.0 L380.2,82.6 L383.1,79.3 L386.0,76.2 L389.1,73.2 L392.2,70.5 L395.4,67.9 L398.7,65.5 L402.0,63.3 L405.3,61.4 L408.6,59.6 L412.0,58.2 L415.3,57.0 L418.5,56.0 L421.7,55.3 L424.9,54.9 L427.9,54.8 L430.9,54.9 L433.7,55.3 L436.4,55.9 L438.9,56.8 L441.3,58.0 L443.5,59.4Z" fill="#fff" stroke="#000" stroke-width="1.69" />
<path d="M415.9,55.9 L418.8,55.6 L421.6,55.6 L424.3,55.8 L426.9,56.3 L429.4,57.1 L431.7,58.1 L433.8,59.3 L435.8,60.8 L437.6,62.5 L439.3,64.5 L440.7,66.6 L441.9,69.0 L443.0,71.5 L443.8,74.2 L444.4,77.1 L444.8,80.1 L444.9,83.3 L444.9,86.5 L444.6,89.9 L444.1,93.4 L443.3,96.9 L442.4,100.5 L441.3,104.1 L439.9,107.7 L438.4,111.4 L436.6,115.0 L434.7,118.5 L432.6,122.0 L430.4,125.4 L428.0,128.8 L425.4,132.0 L422.8,135.1 L420.0,138.0 L417.1,140.8 L414.2,143.5 L411.2,145.9 L408.1,148.1" fill="none" stroke="#000" stroke-width="1.43" />
<path d="M385.2,157.8 L382.3,158.0 L379.5,158.1 L376.8,157.8 L374.3,157.3 L371.8,156.6 L369.5,155.6 L367.4,154.4 L365.4,152.9 L363.6,151.2 L361.9,149.3 L360.5,147.2 L359.3,144.8 L358.2,142.3 L357.4,139.6 L356.8,136.8 L356.4,133.8 L356.2,130.7 L356.3,127.4 L356.5,124.1 L357.0,120.6 L357.7,117.1 L358.6,113.6 L359.7,110.0 L361.0,106.4 L362.5,102.8 L364.2,99.2 L366.1,95.6 L368.2,92.2 L370.4,88.7 L372.8,85.4 L375.3,82.2" fill="none" stroke="#000" stroke-width="1.43" />
<path d="M421.4,76.5 L421.8,76.8 L422.3,77.2 L422.7,77.6 L423.0,78.1 L423.3,78.6 L423.6,79.2 L423.9,79.8 L424.1,80.4 L424.2,81.0 L424.3,81.7 L424.3,82.4 L424.4,83.2 L424.3,83.9 L424.2,84.7 L424.1,85.5 L423.9,86.3 L423.7,87.1 L423.4,87.9 L423.1,88.7 L422.8,89.4 L422.4,90.2 L422.0,91.0 L421.5,91.7 L421.0,92.4 L420.5,93.1 L419.9,93.8 L419.4,94.4 L418.8,95.0 L418.2,95.5 L417.5,96.0 L416.9,96.5 L416.2,96.9 L415.6,97.3 L414.9,97.6 L414.2,97.8 L413.6,98.1 L412.9,98.2 L412.3,98.3 L411.6,98.4 L411.0,98.4 L410.4,98.3 L409.8,98.2 L409.3,98.0 L408.7,97.8 L408.2,97.5 L396.6,91.6 L396.2,91.3 L395.7,90.9 L395.3,90.5 L395.0,90.0 L394.7,89.5 L394.4,88.9 L394.2,88.3 L394.0,87.7 L393.8,87.1 L393.7,86.4 L393.7,85.6 L393.7,84.9 L393.7,84.2 L393.8,83.4 L393.9,82.6 L394.1,81.8 L394.3,81.0 L394.6,80.2 L394.9,79.4 L395.2,78.7 L395.6,77.9 L396.1,77.1 L396.5,76.4 L397.0,75.7 L397.5,75.0 L398.1,74.3 L398.6,73.7 L399.2,73.1 L399.9,72.6 L400.5,72.1 L401.1,71.6 L401.8,71.2 L402.5,70.8 L403.1,70.5 L403.8,70.3 L404.5,70.0 L405.1,69.9 L405.8,69.8 L406.4,69.7 L407.0,69.7 L407.6,69.8 L408.2,69.9 L408.8,70.1 L409.3,70.3 L409.8,70.6Z" fill="#fff" stroke="#000" stroke-width="1.82" />
<path d="M421.4,76.5 L421.8,76.8 L422.3,77.2 L422.7,77.6 L423.0,78.1 L423.3,78.6 L423.6,79.2 L423.9,79.8 L424.1,80.4 L424.2,81.0 L424.3,81.7 L424.3,82.4 L424.4,83.2 L424.3,83.9 L424.2,84.7 L424.1,85.5 L423.9,86.3 L423.7,87.1 L423.4,87.9 L423.1,88.7 L422.8,89.4 L422.4,90.2 L422.0,91.0 L421.5,91.7 L421.0,92.4 L420.5,93.1 L419.9,93.8 L419.4,94.4 L418.8,95.0 L418.2,95.5 L417.5,96.0 L416.9,96.5 L416.2,96.9 L415.6,97.3 L414.9,97.6 L414.2,97.8 L413.6,98.1 L412.9,98.2 L412.3,98.3 L411.6,98.4 L411.0,98.4 L410.4,98.3 L409.8,98.2 L409.3,98.0 L408.7,97.8 L408.2,97.5 L407.8,97.2 L407.3,96.8 L406.9,96.4 L406.6,95.9 L406.3,95.4 L406.0,94.8 L405.7,94.2 L405.5,93.6 L405.4,93.0 L405.3,92.3 L405.3,91.6 L405.2,90.8 L405.3,90.1 L405.4,89.3 L405.5,88.5 L405.7,87.7 L405.9,86.9 L406.2,86.1 L406.5,85.3 L406.8,84.6 L407.2,83.8 L407.6,83.0 L408.1,82.3 L408.6,81.6 L409.1,80.9 L409.7,80.2 L410.2,79.6 L410.8,79.0 L411.4,78.5 L412.1,78.0 L412.7,77.5 L413.4,77.1 L414.0,76.7 L414.7,76.4 L415.4,76.2 L416.0,75.9 L416.7,75.8 L417.3,75.7 L418.0,75.6 L418.6,75.6 L419.2,75.7 L419.8,75.8 L420.3,76.0 L420.9,76.2 L421.4,76.5Z" fill="#fff" stroke="#000" stroke-width="1.82" />
<path d="M418.5,81.1 L418.8,81.2 L419.0,81.5 L419.2,81.7 L419.4,82.0 L419.6,82.3 L419.8,82.6 L419.9,82.9 L420.0,83.3 L420.1,83.6 L420.2,84.0 L420.2,84.4 L420.2,84.8 L420.2,85.3 L420.1,85.7 L420.0,86.2 L419.9,86.6 L419.8,87.0 L419.7,87.5 L419.5,87.9 L419.3,88.4 L419.1,88.8 L418.8,89.2 L418.6,89.7 L418.3,90.1 L418.0,90.4 L417.7,90.8 L417.4,91.2 L417.0,91.5 L416.7,91.8 L416.3,92.1 L416.0,92.3 L415.6,92.6 L415.2,92.8 L414.9,93.0 L414.5,93.1 L414.1,93.2 L413.7,93.3 L413.4,93.4 L413.0,93.4 L412.7,93.4 L412.3,93.4 L412.0,93.3 L411.7,93.2 L411.4,93.1 L411.1,92.9 L410.8,92.8 L410.6,92.5 L410.4,92.3 L410.2,92.0 L410.0,91.7 L409.8,91.4 L409.7,91.1 L409.6,90.7 L409.5,90.4 L409.4,90.0 L409.4,89.6 L409.4,89.2 L409.4,88.7 L409.5,88.3 L409.6,87.8 L409.7,87.4 L409.8,87.0 L409.9,86.5 L410.1,86.1 L410.3,85.6 L410.5,85.2 L410.8,84.8 L411.0,84.3 L411.3,83.9 L411.6,83.6 L411.9,83.2 L412.2,82.8 L412.6,82.5 L412.9,82.2 L413.3,81.9 L413.6,81.7 L414.0,81.4 L414.4,81.2 L414.7,81.0 L415.1,80.9 L415.5,80.8 L415.9,80.7 L416.2,80.6 L416.6,80.6 L416.9,80.6 L417.3,80.6 L417.6,80.7 L417.9,80.8 L418.2,80.9 L418.5,81.1Z" fill="#fff" stroke="#000" stroke-width="2.08" />
<path d="M415.6,89.0 L415.4,89.2 L415.2,89.4 L414.9,89.7 L414.6,89.9 L414.4,90.1 L414.1,90.2 L413.8,90.4 L413.6,90.5 L413.3,90.6 L413.0,90.7 L412.7,90.8 L412.5,90.8 L412.2,90.9 L412.0,90.9 L411.7,90.8 L411.5,90.8 L411.3,90.7 L411.0,90.7 L410.8,90.6 L410.7,90.4 L410.5,90.3 L410.3,90.1 L410.2,90.0 L410.1,89.8 L410.0,89.6 L409.9,89.3 L409.8,89.1 L409.7,88.8 L409.7,88.6 L409.7,88.3 L409.7,88.0 L409.7,87.7 L409.8,87.4 L409.8,87.1 L409.9,86.8 L410.0,86.5 L410.1,86.2 L410.2,85.9 L410.4,85.6 L410.5,85.3 L410.7,85.0 L410.9,84.7 L411.1,84.4 L411.3,84.1 L411.6,83.8 L411.8,83.6 L412.0,83.4 L412.3,83.1 L412.6,82.9 L412.8,82.7" fill="none" stroke="#000" stroke-width="1.3" />
<path d="M451.3,92.0 L451.7,92.3 L452.2,92.7 L452.6,93.1 L452.9,93.6 L453.2,94.1 L453.5,94.7 L453.8,95.3 L454.0,95.9 L454.1,96.5 L454.2,97.2 L454.2,97.9 L454.3,98.7 L454.2,99.4 L454.1,100.2 L454.0,101.0 L453.8,101.8 L453.6,102.6 L453.3,103.4 L453.0,104.2 L452.7,104.9 L452.3,105.7 L451.9,106.5 L451.4,107.2 L450.9,107.9 L450.4,108.6 L449.8,109.3 L449.3,109.9 L448.7,110.5 L448.1,111.0 L447.4,111.5 L446.8,112.0 L446.1,112.4 L445.5,112.8 L444.8,113.1 L444.1,113.3 L443.5,113.6 L442.8,113.7 L442.2,113.8 L441.5,113.9 L440.9,113.9 L440.3,113.8 L439.7,113.7 L439.2,113.5 L438.6,113.3 L438.1,113.0 L426.5,107.1 L426.1,106.8 L425.6,106.4 L425.2,106.0 L424.9,105.5 L424.6,105.0 L424.3,104.4 L424.1,103.8 L423.9,103.2 L423.7,102.6 L423.6,101.9 L423.6,101.1 L423.6,100.4 L423.6,99.7 L423.7,98.9 L423.8,98.1 L424.0,97.3 L424.2,96.5 L424.5,95.7 L424.8,94.9 L425.1,94.2 L425.5,93.4 L426.0,92.6 L426.4,91.9 L426.9,91.2 L427.4,90.5 L428.0,89.8 L428.5,89.2 L429.1,88.6 L429.8,88.1 L430.4,87.6 L431.0,87.1 L431.7,86.7 L432.4,86.3 L433.0,86.0 L433.7,85.8 L434.4,85.5 L435.0,85.4 L435.7,85.3 L436.3,85.2 L436.9,85.2 L437.5,85.3 L438.1,85.4 L438.7,85.6 L439.2,85.8 L439.7,86.1Z" fill="#fff" stroke="#000" stroke-width="1.82" />
<path d="M451.3,92.0 L451.7,92.3 L452.2,92.7 L452.6,93.1 L452.9,93.6 L453.2,94.1 L453.5,94.7 L453.8,95.3 L454.0,95.9 L454.1,96.5 L454.2,97.2 L454.2,97.9 L454.3,98.7 L454.2,99.4 L454.1,100.2 L454.0,101.0 L453.8,101.8 L453.6,102.6 L453.3,103.4 L453.0,104.2 L452.7,104.9 L452.3,105.7 L451.9,106.5 L451.4,107.2 L450.9,107.9 L450.4,108.6 L449.8,109.3 L449.3,109.9 L448.7,110.5 L448.1,111.0 L447.4,111.5 L446.8,112.0 L446.1,112.4 L445.5,112.8 L444.8,113.1 L444.1,113.3 L443.5,113.6 L442.8,113.7 L442.2,113.8 L441.5,113.9 L440.9,113.9 L440.3,113.8 L439.7,113.7 L439.2,113.5 L438.6,113.3 L438.1,113.0 L437.7,112.7 L437.2,112.3 L436.8,111.9 L436.5,111.4 L436.2,110.9 L435.9,110.3 L435.6,109.7 L435.4,109.1 L435.3,108.5 L435.2,107.8 L435.2,107.1 L435.1,106.3 L435.2,105.6 L435.3,104.8 L435.4,104.0 L435.6,103.2 L435.8,102.4 L436.1,101.6 L436.4,100.8 L436.7,100.1 L437.1,99.3 L437.5,98.5 L438.0,97.8 L438.5,97.1 L439.0,96.4 L439.6,95.7 L440.1,95.1 L440.7,94.5 L441.3,94.0 L442.0,93.5 L442.6,93.0 L443.3,92.6 L443.9,92.2 L444.6,91.9 L445.3,91.7 L445.9,91.4 L446.6,91.3 L447.2,91.2 L447.9,91.1 L448.5,91.1 L449.1,91.2 L449.7,91.3 L450.2,91.5 L450.8,91.7 L451.3,92.0Z" fill="#fff" stroke="#000" stroke-width="1.82" />
<path d="M448.4,96.6 L448.7,96.7 L448.9,97.0 L449.1,97.2 L449.3,97.5 L449.5,97.8 L449.7,98.1 L449.8,98.4 L449.9,98.8 L450.0,99.1 L450.1,99.5 L450.1,99.9 L450.1,100.3 L450.1,100.8 L450.0,101.2 L449.9,101.7 L449.8,102.1 L449.7,102.5 L449.6,103.0 L449.4,103.4 L449.2,103.9 L449.0,104.3 L448.7,104.7 L448.5,105.2 L448.2,105.6 L447.9,105.9 L447.6,106.3 L447.3,106.7 L446.9,107.0 L446.6,107.3 L446.2,107.6 L445.9,107.8 L445.5,108.1 L445.1,108.3 L444.8,108.5 L444.4,108.6 L444.0,108.7 L443.6,108.8 L443.3,108.9 L442.9,108.9 L442.6,108.9 L442.2,108.9 L441.9,108.8 L441.6,108.7 L441.3,108.6 L441.0,108.4 L440.7,108.3 L440.5,108.0 L440.3,107.8 L440.1,107.5 L439.9,107.2 L439.7,106.9 L439.6,106.6 L439.5,106.2 L439.4,105.9 L439.3,105.5 L439.3,105.1 L439.3,104.7 L439.3,104.2 L439.4,103.8 L439.5,103.3 L439.6,102.9 L439.7,102.5 L439.8,102.0 L440.0,101.6 L440.2,101.1 L440.4,100.7 L440.7,100.3 L440.9,99.8 L441.2,99.4 L441.5,99.1 L441.8,98.7 L442.1,98.3 L442.5,98.0 L442.8,97.7 L443.2,97.4 L443.5,97.2 L443.9,96.9 L444.3,96.7 L444.6,96.5 L445.0,96.4 L445.4,96.3 L445.8,96.2 L446.1,96.1 L446.5,96.1 L446.8,96.1 L447.2,96.1 L447.5,96.2 L447.8,96.3 L448.1,96.4 L448.4,96.6Z" fill="#fff" stroke="#000" stroke-width="2.08" />
<path d="M445.5,104.5 L445.3,104.7 L445.1,104.9 L444.8,105.2 L444.5,105.4 L444.3,105.6 L444.0,105.7 L443.7,105.9 L443.5,106.0 L443.2,106.1 L442.9,106.2 L442.6,106.3 L442.4,106.3 L442.1,106.4 L441.9,106.4 L441.6,106.3 L441.4,106.3 L441.2,106.2 L440.9,106.2 L440.7,106.1 L440.6,105.9 L440.4,105.8 L440.2,105.6 L440.1,105.5 L440.0,105.3 L439.9,105.1 L439.8,104.8 L439.7,104.6 L439.6,104.3 L439.6,104.1 L439.6,103.8 L439.6,103.5 L439.6,103.2 L439.7,102.9 L439.7,102.6 L439.8,102.3 L439.9,102.0 L440.0,101.7 L440.1,101.4 L440.3,101.1 L440.4,100.8 L440.6,100.5 L440.8,100.2 L441.0,99.9 L441.2,99.6 L441.5,99.3 L441.7,99.1 L441.9,98.9 L442.2,98.6 L442.5,98.4 L442.7,98.2" fill="none" stroke="#000" stroke-width="1.3" />
<path d="M403.3,93.9 L403.8,94.2 L404.2,94.6 L404.5,95.1 L404.8,95.6 L405.1,96.1 L405.3,96.7 L405.5,97.3 L405.7,97.9 L405.7,98.6 L405.8,99.3 L405.8,100.0 L405.7,100.7 L405.6,101.5 L405.5,102.2 L405.3,103.0 L405.0,103.8 L404.8,104.6 L404.4,105.3 L404.1,106.1 L403.6,106.9 L403.2,107.6 L402.7,108.3 L402.2,109.1 L401.7,109.7 L401.1,110.4 L400.5,111.0 L399.9,111.6 L399.2,112.1 L398.6,112.7 L397.9,113.1 L397.3,113.6 L396.6,113.9 L395.9,114.3 L395.2,114.5 L394.5,114.8 L393.9,114.9 L393.2,115.1 L392.6,115.1 L391.9,115.2 L391.3,115.1 L390.7,115.0 L390.2,114.9 L389.6,114.7 L389.1,114.4 L388.7,114.1 L382.4,110.9 L382.0,110.6 L381.6,110.2 L381.2,109.7 L380.9,109.2 L380.6,108.7 L380.4,108.1 L380.2,107.5 L380.1,106.9 L380.0,106.2 L380.0,105.5 L380.0,104.8 L380.0,104.1 L380.1,103.3 L380.3,102.6 L380.5,101.8 L380.7,101.0 L381.0,100.3 L381.3,99.5 L381.7,98.7 L382.1,97.9 L382.6,97.2 L383.0,96.5 L383.6,95.8 L384.1,95.1 L384.7,94.4 L385.3,93.8 L385.9,93.2 L386.5,92.7 L387.2,92.2 L387.8,91.7 L388.5,91.3 L389.2,90.9 L389.9,90.6 L390.6,90.3 L391.2,90.1 L391.9,89.9 L392.6,89.8 L393.2,89.7 L393.8,89.7 L394.5,89.7 L395.0,89.8 L395.6,90.0 L396.1,90.2 L396.6,90.4 L397.1,90.7Z" fill="#fff" stroke="#000" stroke-width="1.82" />
<path d="M403.3,93.9 L403.8,94.2 L404.2,94.6 L404.5,95.1 L404.8,95.6 L405.1,96.1 L405.3,96.7 L405.5,97.3 L405.7,97.9 L405.7,98.6 L405.8,99.3 L405.8,100.0 L405.7,100.7 L405.6,101.5 L405.5,102.2 L405.3,103.0 L405.0,103.8 L404.8,104.6 L404.4,105.3 L404.1,106.1 L403.6,106.9 L403.2,107.6 L402.7,108.3 L402.2,109.1 L401.7,109.7 L401.1,110.4 L400.5,111.0 L399.9,111.6 L399.2,112.1 L398.6,112.7 L397.9,113.1 L397.3,113.6 L396.6,113.9 L395.9,114.3 L395.2,114.5 L394.5,114.8 L393.9,114.9 L393.2,115.1 L392.6,115.1 L391.9,115.2 L391.3,115.1 L390.7,115.0 L390.2,114.9 L389.6,114.7 L389.1,114.4 L388.7,114.1 L388.2,113.8 L387.8,113.4 L387.5,112.9 L387.2,112.4 L386.9,111.9 L386.7,111.3 L386.5,110.7 L386.3,110.1 L386.3,109.4 L386.2,108.7 L386.2,108.0 L386.3,107.3 L386.4,106.5 L386.5,105.8 L386.7,105.0 L387.0,104.2 L387.2,103.4 L387.6,102.7 L387.9,101.9 L388.4,101.1 L388.8,100.4 L389.3,99.7 L389.8,98.9 L390.3,98.3 L390.9,97.6 L391.5,97.0 L392.1,96.4 L392.8,95.9 L393.4,95.3 L394.1,94.9 L394.7,94.4 L395.4,94.1 L396.1,93.7 L396.8,93.5 L397.5,93.2 L398.1,93.1 L398.8,92.9 L399.4,92.9 L400.1,92.8 L400.7,92.9 L401.3,93.0 L401.8,93.1 L402.4,93.3 L402.9,93.6 L403.3,93.9Z" fill="#fff" stroke="#000" stroke-width="1.82" />
<path d="M401.4,96.6 L401.7,96.8 L402.0,97.1 L402.3,97.4 L402.5,97.8 L402.7,98.2 L402.9,98.6 L403.0,99.1 L403.1,99.5 L403.2,100.0 L403.2,100.5 L403.2,101.1 L403.2,101.6 L403.1,102.1 L403.0,102.7 L402.8,103.3 L402.7,103.8 L402.4,104.4 L402.2,105.0 L401.9,105.6 L401.6,106.1 L401.3,106.7 L400.9,107.2 L400.6,107.7 L400.2,108.2 L399.8,108.7 L399.3,109.2 L398.9,109.6 L398.4,110.0 L397.9,110.4 L397.4,110.7 L396.9,111.0 L396.4,111.3 L395.9,111.6 L395.4,111.8 L394.9,111.9 L394.4,112.1 L393.9,112.1 L393.5,112.2 L393.0,112.2 L392.5,112.2 L392.1,112.1 L391.7,112.0 L391.3,111.9 L390.9,111.7 L390.6,111.4 L390.3,111.2 L390.0,110.9 L389.7,110.6 L389.5,110.2 L389.3,109.8 L389.1,109.4 L389.0,108.9 L388.9,108.5 L388.8,108.0 L388.8,107.5 L388.8,106.9 L388.8,106.4 L388.9,105.9 L389.0,105.3 L389.2,104.7 L389.3,104.2 L389.6,103.6 L389.8,103.0 L390.1,102.4 L390.4,101.9 L390.7,101.3 L391.1,100.8 L391.4,100.3 L391.8,99.8 L392.2,99.3 L392.7,98.8 L393.1,98.4 L393.6,98.0 L394.1,97.6 L394.6,97.3 L395.1,97.0 L395.6,96.7 L396.1,96.4 L396.6,96.2 L397.1,96.1 L397.6,95.9 L398.1,95.9 L398.5,95.8 L399.0,95.8 L399.5,95.8 L399.9,95.9 L400.3,96.0 L400.7,96.1 L401.1,96.3 L401.4,96.6Z" fill="none" stroke="#000" stroke-width="1.43" />
<path d="M394.0,120.9 L394.4,121.2 L394.9,121.6 L395.3,122.0 L395.6,122.5 L395.9,123.0 L396.2,123.6 L396.5,124.2 L396.7,124.8 L396.8,125.4 L396.9,126.1 L396.9,126.8 L397.0,127.6 L396.9,128.3 L396.8,129.1 L396.7,129.9 L396.5,130.7 L396.3,131.5 L396.0,132.3 L395.7,133.1 L395.4,133.8 L395.0,134.6 L394.6,135.4 L394.1,136.1 L393.6,136.8 L393.1,137.5 L392.5,138.2 L392.0,138.8 L391.4,139.4 L390.8,139.9 L390.1,140.4 L389.5,140.9 L388.8,141.3 L388.2,141.7 L387.5,142.0 L386.8,142.2 L386.2,142.5 L385.5,142.6 L384.9,142.7 L384.2,142.8 L383.6,142.8 L383.0,142.7 L382.4,142.6 L381.9,142.4 L381.3,142.2 L380.8,141.9 L369.2,136.0 L368.8,135.7 L368.3,135.3 L367.9,134.9 L367.6,134.4 L367.3,133.9 L367.0,133.3 L366.8,132.7 L366.6,132.1 L366.4,131.5 L366.3,130.8 L366.3,130.0 L366.3,129.3 L366.3,128.6 L366.4,127.8 L366.5,127.0 L366.7,126.2 L366.9,125.4 L367.2,124.6 L367.5,123.8 L367.8,123.1 L368.2,122.3 L368.7,121.5 L369.1,120.8 L369.6,120.1 L370.1,119.4 L370.7,118.7 L371.2,118.1 L371.8,117.5 L372.5,117.0 L373.1,116.5 L373.7,116.0 L374.4,115.6 L375.1,115.2 L375.7,114.9 L376.4,114.7 L377.1,114.4 L377.7,114.3 L378.4,114.2 L379.0,114.1 L379.6,114.1 L380.2,114.2 L380.8,114.3 L381.4,114.5 L381.9,114.7 L382.4,115.0Z" fill="#fff" stroke="#000" stroke-width="1.82" />
<path d="M394.0,120.9 L394.4,121.2 L394.9,121.6 L395.3,122.0 L395.6,122.5 L395.9,123.0 L396.2,123.6 L396.5,124.2 L396.7,124.8 L396.8,125.4 L396.9,126.1 L396.9,126.8 L397.0,127.6 L396.9,128.3 L396.8,129.1 L396.7,129.9 L396.5,130.7 L396.3,131.5 L396.0,132.3 L395.7,133.1 L395.4,133.8 L395.0,134.6 L394.6,135.4 L394.1,136.1 L393.6,136.8 L393.1,137.5 L392.5,138.2 L392.0,138.8 L391.4,139.4 L390.8,139.9 L390.1,140.4 L389.5,140.9 L388.8,141.3 L388.2,141.7 L387.5,142.0 L386.8,142.2 L386.2,142.5 L385.5,142.6 L384.9,142.7 L384.2,142.8 L383.6,142.8 L383.0,142.7 L382.4,142.6 L381.9,142.4 L381.3,142.2 L380.8,141.9 L380.4,141.6 L379.9,141.2 L379.5,140.8 L379.2,140.3 L378.9,139.8 L378.6,139.2 L378.3,138.6 L378.1,138.0 L378.0,137.4 L377.9,136.7 L377.9,136.0 L377.8,135.2 L377.9,134.5 L378.0,133.7 L378.1,132.9 L378.3,132.1 L378.5,131.3 L378.8,130.5 L379.1,129.7 L379.4,129.0 L379.8,128.2 L380.2,127.4 L380.7,126.7 L381.2,126.0 L381.7,125.3 L382.3,124.6 L382.8,124.0 L383.4,123.4 L384.0,122.9 L384.7,122.4 L385.3,121.9 L386.0,121.5 L386.6,121.1 L387.3,120.8 L388.0,120.6 L388.6,120.3 L389.3,120.2 L389.9,120.1 L390.6,120.0 L391.2,120.0 L391.8,120.1 L392.4,120.2 L392.9,120.4 L393.5,120.6 L394.0,120.9Z" fill="#fff" stroke="#000" stroke-width="1.82" />
<path d="M391.1,125.5 L391.4,125.6 L391.6,125.9 L391.8,126.1 L392.0,126.4 L392.2,126.7 L392.4,127.0 L392.5,127.3 L392.6,127.7 L392.7,128.0 L392.8,128.4 L392.8,128.8 L392.8,129.2 L392.8,129.7 L392.7,130.1 L392.6,130.6 L392.5,131.0 L392.4,131.4 L392.3,131.9 L392.1,132.3 L391.9,132.8 L391.7,133.2 L391.4,133.6 L391.2,134.1 L390.9,134.5 L390.6,134.8 L390.3,135.2 L390.0,135.6 L389.6,135.9 L389.3,136.2 L388.9,136.5 L388.6,136.7 L388.2,137.0 L387.8,137.2 L387.5,137.4 L387.1,137.5 L386.7,137.6 L386.3,137.7 L386.0,137.8 L385.6,137.8 L385.3,137.8 L384.9,137.8 L384.6,137.7 L384.3,137.6 L384.0,137.5 L383.7,137.3 L383.4,137.2 L383.2,136.9 L383.0,136.7 L382.8,136.4 L382.6,136.1 L382.4,135.8 L382.3,135.5 L382.2,135.1 L382.1,134.8 L382.0,134.4 L382.0,134.0 L382.0,133.6 L382.0,133.1 L382.1,132.7 L382.2,132.2 L382.3,131.8 L382.4,131.4 L382.5,130.9 L382.7,130.5 L382.9,130.0 L383.1,129.6 L383.4,129.2 L383.6,128.7 L383.9,128.3 L384.2,128.0 L384.5,127.6 L384.8,127.2 L385.2,126.9 L385.5,126.6 L385.9,126.3 L386.2,126.1 L386.6,125.8 L387.0,125.6 L387.3,125.4 L387.7,125.3 L388.1,125.2 L388.5,125.1 L388.8,125.0 L389.2,125.0 L389.5,125.0 L389.9,125.0 L390.2,125.1 L390.5,125.2 L390.8,125.3 L391.1,125.5Z" fill="#fff" stroke="#000" stroke-width="2.08" />
<path d="M388.2,133.4 L388.0,133.6 L387.8,133.8 L387.5,134.1 L387.2,134.3 L387.0,134.5 L386.7,134.6 L386.4,134.8 L386.2,134.9 L385.9,135.0 L385.6,135.1 L385.3,135.2 L385.1,135.2 L384.8,135.3 L384.6,135.3 L384.3,135.2 L384.1,135.2 L383.9,135.1 L383.6,135.1 L383.4,135.0 L383.3,134.8 L383.1,134.7 L382.9,134.5 L382.8,134.4 L382.7,134.2 L382.6,134.0 L382.5,133.7 L382.4,133.5 L382.3,133.2 L382.3,133.0 L382.3,132.7 L382.3,132.4 L382.3,132.1 L382.4,131.8 L382.4,131.5 L382.5,131.2 L382.6,130.9 L382.7,130.6 L382.8,130.3 L383.0,130.0 L383.1,129.7 L383.3,129.4 L383.5,129.1 L383.7,128.8 L383.9,128.5 L384.2,128.2 L384.4,128.0 L384.6,127.8 L384.9,127.5 L385.2,127.3 L385.4,127.1" fill="none" stroke="#000" stroke-width="1.3" />
<path d="M422.5,136.9 L422.9,137.2 L423.4,137.6 L423.8,138.0 L424.1,138.5 L424.4,139.0 L424.7,139.6 L425.0,140.2 L425.2,140.8 L425.3,141.4 L425.4,142.1 L425.4,142.8 L425.5,143.6 L425.4,144.3 L425.3,145.1 L425.2,145.9 L425.0,146.7 L424.8,147.5 L424.5,148.3 L424.2,149.1 L423.9,149.8 L423.5,150.6 L423.1,151.4 L422.6,152.1 L422.1,152.8 L421.6,153.5 L421.0,154.2 L420.5,154.8 L419.9,155.4 L419.3,155.9 L418.6,156.4 L418.0,156.9 L417.3,157.3 L416.7,157.7 L416.0,158.0 L415.3,158.2 L414.7,158.5 L414.0,158.6 L413.4,158.7 L412.7,158.8 L412.1,158.8 L411.5,158.7 L410.9,158.6 L410.4,158.4 L409.8,158.2 L409.3,157.9 L397.7,152.0 L397.3,151.7 L396.8,151.3 L396.4,150.9 L396.1,150.4 L395.8,149.9 L395.5,149.3 L395.3,148.7 L395.1,148.1 L394.9,147.5 L394.8,146.8 L394.8,146.0 L394.8,145.3 L394.8,144.6 L394.9,143.8 L395.0,143.0 L395.2,142.2 L395.4,141.4 L395.7,140.6 L396.0,139.8 L396.3,139.1 L396.7,138.3 L397.2,137.5 L397.6,136.8 L398.1,136.1 L398.6,135.4 L399.2,134.7 L399.7,134.1 L400.3,133.5 L401.0,133.0 L401.6,132.5 L402.2,132.0 L402.9,131.6 L403.6,131.2 L404.2,130.9 L404.9,130.7 L405.6,130.4 L406.2,130.3 L406.9,130.2 L407.5,130.1 L408.1,130.1 L408.7,130.2 L409.3,130.3 L409.9,130.5 L410.4,130.7 L410.9,131.0Z" fill="#fff" stroke="#000" stroke-width="1.82" />
<path d="M422.5,136.9 L422.9,137.2 L423.4,137.6 L423.8,138.0 L424.1,138.5 L424.4,139.0 L424.7,139.6 L425.0,140.2 L425.2,140.8 L425.3,141.4 L425.4,142.1 L425.4,142.8 L425.5,143.6 L425.4,144.3 L425.3,145.1 L425.2,145.9 L425.0,146.7 L424.8,147.5 L424.5,148.3 L424.2,149.1 L423.9,149.8 L423.5,150.6 L423.1,151.4 L422.6,152.1 L422.1,152.8 L421.6,153.5 L421.0,154.2 L420.5,154.8 L419.9,155.4 L419.3,155.9 L418.6,156.4 L418.0,156.9 L417.3,157.3 L416.7,157.7 L416.0,158.0 L415.3,158.2 L414.7,158.5 L414.0,158.6 L413.4,158.7 L412.7,158.8 L412.1,158.8 L411.5,158.7 L410.9,158.6 L410.4,158.4 L409.8,158.2 L409.3,157.9 L408.9,157.6 L408.4,157.2 L408.0,156.8 L407.7,156.3 L407.4,155.8 L407.1,155.2 L406.8,154.6 L406.6,154.0 L406.5,153.4 L406.4,152.7 L406.4,152.0 L406.3,151.2 L406.4,150.5 L406.5,149.7 L406.6,148.9 L406.8,148.1 L407.0,147.3 L407.3,146.5 L407.6,145.7 L407.9,145.0 L408.3,144.2 L408.7,143.4 L409.2,142.7 L409.7,142.0 L410.2,141.3 L410.8,140.6 L411.3,140.0 L411.9,139.4 L412.5,138.9 L413.2,138.4 L413.8,137.9 L414.5,137.5 L415.1,137.1 L415.8,136.8 L416.5,136.6 L417.1,136.3 L417.8,136.2 L418.4,136.1 L419.1,136.0 L419.7,136.0 L420.3,136.1 L420.9,136.2 L421.4,136.4 L422.0,136.6 L422.5,136.9Z" fill="#fff" stroke="#000" stroke-width="1.82" />
<path d="M419.6,141.5 L419.9,141.6 L420.1,141.9 L420.3,142.1 L420.5,142.4 L420.7,142.7 L420.9,143.0 L421.0,143.3 L421.1,143.7 L421.2,144.0 L421.3,144.4 L421.3,144.8 L421.3,145.2 L421.3,145.7 L421.2,146.1 L421.1,146.6 L421.0,147.0 L420.9,147.4 L420.8,147.9 L420.6,148.3 L420.4,148.8 L420.2,149.2 L419.9,149.6 L419.7,150.1 L419.4,150.5 L419.1,150.8 L418.8,151.2 L418.5,151.6 L418.1,151.9 L417.8,152.2 L417.4,152.5 L417.1,152.7 L416.7,153.0 L416.3,153.2 L416.0,153.4 L415.6,153.5 L415.2,153.6 L414.8,153.7 L414.5,153.8 L414.1,153.8 L413.8,153.8 L413.4,153.8 L413.1,153.7 L412.8,153.6 L412.5,153.5 L412.2,153.3 L411.9,153.2 L411.7,152.9 L411.5,152.7 L411.3,152.4 L411.1,152.1 L410.9,151.8 L410.8,151.5 L410.7,151.1 L410.6,150.8 L410.5,150.4 L410.5,150.0 L410.5,149.6 L410.5,149.1 L410.6,148.7 L410.7,148.2 L410.8,147.8 L410.9,147.4 L411.0,146.9 L411.2,146.5 L411.4,146.0 L411.6,145.6 L411.9,145.2 L412.1,144.7 L412.4,144.3 L412.7,144.0 L413.0,143.6 L413.3,143.2 L413.7,142.9 L414.0,142.6 L414.4,142.3 L414.7,142.1 L415.1,141.8 L415.5,141.6 L415.8,141.4 L416.2,141.3 L416.6,141.2 L417.0,141.1 L417.3,141.0 L417.7,141.0 L418.0,141.0 L418.4,141.0 L418.7,141.1 L419.0,141.2 L419.3,141.3 L419.6,141.5Z" fill="#fff" stroke="#000" stroke-width="2.08" />
<path d="M416.7,149.4 L416.5,149.6 L416.3,149.8 L416.0,150.1 L415.7,150.3 L415.5,150.5 L415.2,150.6 L414.9,150.8 L414.7,150.9 L414.4,151.0 L414.1,151.1 L413.8,151.2 L413.6,151.2 L413.3,151.3 L413.1,151.3 L412.8,151.2 L412.6,151.2 L412.4,151.1 L412.1,151.1 L411.9,151.0 L411.8,150.8 L411.6,150.7 L411.4,150.5 L411.3,150.4 L411.2,150.2 L411.1,150.0 L411.0,149.7 L410.9,149.5 L410.8,149.2 L410.8,149.0 L410.8,148.7 L410.8,148.4 L410.8,148.1 L410.9,147.8 L410.9,147.5 L411.0,147.2 L411.1,146.9 L411.2,146.6 L411.3,146.3 L411.5,146.0 L411.6,145.7 L411.8,145.4 L412.0,145.1 L412.2,144.8 L412.4,144.5 L412.7,144.2 L412.9,144.0 L413.1,143.8 L413.4,143.5 L413.7,143.3 L413.9,143.1" fill="none" stroke="#000" stroke-width="1.3" />
<path d="M417.0,112.0 L431.0,119.0" fill="none" stroke="#000" stroke-width="1.43" />
<path d="M408.0,121.0 L422.0,129.0" fill="none" stroke="#000" stroke-width="1.43" />
<path d="M431.0,119.0 L436.0,112.0" fill="none" stroke="#000" stroke-width="1.3" />
<path d="M422.0,129.0 L428.0,120.0" fill="none" stroke="#000" stroke-width="1.3" />
<path d="M408.4,112.3 L453.0,134.5" fill="none" stroke="#000" stroke-width="1.43" />
<path d="M273.1,57.5 L273.5,57.8 L273.9,58.1 L274.3,58.4 L274.7,58.8 L275.0,59.2 L275.3,59.7 L275.6,60.2 L275.8,60.7 L276.0,61.2 L276.1,61.8 L276.2,62.4 L276.3,63.0 L276.4,63.7 L276.4,64.3 L276.3,65.0 L276.2,65.7 L276.1,66.3 L275.9,67.0 L275.8,67.7 L275.5,68.3 L275.2,69.0 L274.9,69.6 L274.6,70.3 L274.2,70.9 L273.9,71.5 L273.4,72.0 L273.0,72.6 L272.5,73.1 L272.0,73.5 L271.5,74.0 L271.0,74.4 L270.5,74.8 L269.9,75.1 L269.4,75.4 L268.8,75.6 L268.2,75.8 L267.7,76.0 L267.1,76.1 L266.6,76.1 L266.0,76.1 L265.5,76.1 L265.0,76.0 L264.5,75.9 L264.0,75.7 L263.5,75.5 L263.1,75.2 L262.7,74.9 L262.3,74.6 L261.9,74.2 L261.6,73.8 L261.3,73.3 L261.0,72.8 L260.8,72.3 L260.6,71.8 L260.5,71.2 L260.4,70.6 L260.3,70.0 L260.2,69.3 L260.2,68.7 L260.3,68.0 L260.4,67.3 L260.5,66.7 L260.7,66.0 L260.8,65.3 L261.1,64.7 L261.4,64.0 L261.7,63.4 L262.0,62.7 L262.4,62.1 L262.7,61.5 L263.2,61.0 L263.6,60.4 L264.1,59.9 L264.6,59.5 L265.1,59.0 L265.6,58.6 L266.1,58.2 L266.7,57.9 L267.2,57.6 L267.8,57.4 L268.4,57.2 L268.9,57.0 L269.5,56.9 L270.0,56.9 L270.6,56.9 L271.1,56.9 L271.6,57.0 L272.1,57.1 L272.6,57.3 L273.1,57.5Z" fill="#fff" stroke="#000" stroke-width="2.6" />
<path d="M274.3,60.4 L274.6,60.6 L274.9,60.9 L275.2,61.1 L275.5,61.4 L275.7,61.8 L275.9,62.1 L276.1,62.5 L276.3,62.9 L276.4,63.3 L276.6,63.8 L276.6,64.2 L276.7,64.7 L276.7,65.2 L276.7,65.7 L276.7,66.2 L276.6,66.8 L276.5,67.3 L276.4,67.8 L276.2,68.3 L276.0,68.9 L275.8,69.4 L275.6,69.9 L275.3,70.4 L275.0,70.9 L274.7,71.3 L274.4,71.8 L274.0,72.2 L273.7,72.6 L273.3,73.0 L272.9,73.3 L272.5,73.6 L272.1,73.9 L271.7,74.2 L271.2,74.4 L270.8,74.6 L270.4,74.8 L269.9,74.9 L269.5,75.0 L269.1,75.0 L268.7,75.0 L268.3,75.0 L267.9,75.0 L267.5,74.9 L267.1,74.7 L266.7,74.6 L266.4,74.4 L266.1,74.1 L265.8,73.9 L265.5,73.6 L265.3,73.2 L265.1,72.9 L264.9,72.5 L264.7,72.1 L264.6,71.7 L264.4,71.2 L264.4,70.8 L264.3,70.3 L264.3,69.8 L264.3,69.3 L264.3,68.8 L264.4,68.2 L264.5,67.7 L264.6,67.2 L264.8,66.7 L265.0,66.1 L265.2,65.6 L265.4,65.1 L265.7,64.6 L266.0,64.1 L266.3,63.7 L266.6,63.2 L267.0,62.8 L267.3,62.4 L267.7,62.0 L268.1,61.7 L268.5,61.4 L268.9,61.1 L269.3,60.8 L269.8,60.6 L270.2,60.4 L270.6,60.2 L271.1,60.1 L271.5,60.0 L271.9,60.0 L272.3,60.0 L272.7,60.0 L273.1,60.0 L273.5,60.1 L273.9,60.3 L274.3,60.4Z" fill="#fff" stroke="#000" stroke-width="1.69" />
<path d="M291.0,73.4 L291.2,73.5 L291.3,73.6 L291.4,73.7 L291.6,73.9 L291.7,74.0 L291.8,74.2 L291.9,74.4 L291.9,74.6 L292.0,74.8 L292.0,75.1 L292.0,75.3 L292.0,75.6 L292.0,75.8 L292.0,76.1 L292.0,76.4 L291.9,76.6 L291.9,76.9 L291.8,77.2 L291.7,77.5 L291.6,77.7 L291.5,78.0 L291.3,78.3 L291.2,78.5 L291.1,78.8 L290.9,79.1 L290.7,79.3 L290.5,79.5 L290.4,79.7 L290.2,80.0 L290.0,80.1 L289.8,80.3 L289.6,80.5 L289.3,80.6 L289.1,80.8 L288.9,80.9 L288.7,81.0 L288.5,81.1 L288.3,81.1 L288.1,81.2 L287.9,81.2 L287.7,81.2 L287.5,81.2 L287.3,81.1 L287.1,81.1 L287.0,81.0 L271.7,73.5 L271.5,73.5 L271.4,73.3 L271.3,73.2 L271.2,73.1 L271.0,72.9 L270.9,72.7 L270.9,72.5 L270.8,72.3 L270.7,72.1 L270.7,71.9 L270.7,71.6 L270.7,71.4 L270.7,71.1 L270.7,70.9 L270.7,70.6 L270.8,70.3 L270.9,70.0 L270.9,69.8 L271.0,69.5 L271.1,69.2 L271.2,68.9 L271.4,68.7 L271.5,68.4 L271.7,68.1 L271.8,67.9 L272.0,67.7 L272.2,67.4 L272.4,67.2 L272.6,67.0 L272.8,66.8 L273.0,66.6 L273.2,66.5 L273.4,66.3 L273.6,66.2 L273.8,66.1 L274.0,66.0 L274.2,65.9 L274.4,65.8 L274.6,65.8 L274.8,65.8 L275.0,65.8 L275.2,65.8 L275.4,65.8 L275.6,65.9 L275.7,66.0Z" fill="#fff" stroke="#000" stroke-width="1.82" />
<path d="M291.0,73.4 L291.2,73.5 L291.3,73.6 L291.4,73.7 L291.6,73.9 L291.7,74.0 L291.8,74.2 L291.9,74.4 L291.9,74.6 L292.0,74.8 L292.0,75.1 L292.0,75.3 L292.0,75.6 L292.0,75.8 L292.0,76.1 L292.0,76.4 L291.9,76.6 L291.9,76.9 L291.8,77.2 L291.7,77.5 L291.6,77.7 L291.5,78.0 L291.3,78.3 L291.2,78.5 L291.1,78.8 L290.9,79.1 L290.7,79.3 L290.5,79.5 L290.4,79.7 L290.2,80.0 L290.0,80.1 L289.8,80.3 L289.6,80.5 L289.3,80.6 L289.1,80.8 L288.9,80.9 L288.7,81.0 L288.5,81.1 L288.3,81.1 L288.1,81.2 L287.9,81.2 L287.7,81.2 L287.5,81.2 L287.3,81.1 L287.1,81.1 L287.0,81.0 L286.8,80.9 L286.7,80.8 L286.6,80.7 L286.4,80.5 L286.3,80.4 L286.2,80.2 L286.1,80.0 L286.1,79.8 L286.0,79.6 L286.0,79.3 L286.0,79.1 L286.0,78.8 L286.0,78.6 L286.0,78.3 L286.0,78.0 L286.1,77.8 L286.1,77.5 L286.2,77.2 L286.3,76.9 L286.4,76.7 L286.5,76.4 L286.7,76.1 L286.8,75.9 L286.9,75.6 L287.1,75.3 L287.3,75.1 L287.5,74.9 L287.6,74.7 L287.8,74.4 L288.0,74.3 L288.2,74.1 L288.4,73.9 L288.7,73.8 L288.9,73.6 L289.1,73.5 L289.3,73.4 L289.5,73.3 L289.7,73.3 L289.9,73.2 L290.1,73.2 L290.3,73.2 L290.5,73.2 L290.7,73.3 L290.9,73.3 L291.0,73.4Z" fill="#fff" stroke="#000" stroke-width="1.82" />
<path d="M279.0,75.0 L280.2,75.6 M281.6,76.2 L282.8,76.8 M284.2,77.5 L285.4,78.1 M286.8,78.8 L288.0,79.3 " fill="none" stroke="#000" stroke-width="1.56" />
<path d="M291.5,77.5 L294.5,79.0" fill="none" stroke="#000" stroke-width="1.3" />
<path d="M299.5,78.2 L299.9,78.0 L300.4,77.8 L300.8,77.7 L301.2,77.5 L301.6,77.5 L302.0,77.5 L302.4,77.5 L302.8,77.6 L303.2,77.7 L303.5,77.8 L303.8,78.0 L304.1,78.3 L304.4,78.5 L304.6,78.8 L304.8,79.2 L305.0,79.6 L305.2,80.0 L305.3,80.4 L305.4,80.9 L305.4,81.4 L305.5,81.9 L305.5,82.5 L305.4,83.0 L305.4,83.6 L305.3,84.2 L305.2,84.8 L305.0,85.4 L304.8,86.0 L304.6,86.7 L304.4,87.3 L304.1,87.9 L303.8,88.5 L303.5,89.1 L303.2,89.7 L302.8,90.2 L302.4,90.8 L302.0,91.3 L301.6,91.8 L301.2,92.2 L300.8,92.7 L300.3,93.1 L299.9,93.5 L299.4,93.8 L299.0,94.1 L298.5,94.4 L298.1,94.6 L297.6,94.8 L297.2,94.9 L296.8,95.1 L296.4,95.1 L296.0,95.1 L295.6,95.1 L295.2,95.0 L294.8,94.9 L294.5,94.8 L294.2,94.6 L293.9,94.3 L293.6,94.1 L293.4,93.8 L293.2,93.4 L293.0,93.0 L292.8,92.6 L292.7,92.2 L292.6,91.7 L292.6,91.2" fill="#fff" stroke="#000" stroke-width="2.73" />
<path d="M302.9,79.7 L303.4,79.4 L303.8,79.2 L304.2,79.1 L304.7,79.0 L305.1,78.9 L305.5,78.9 L305.9,78.9 L306.3,79.0 L306.6,79.1 L307.0,79.3 L307.3,79.5 L307.6,79.7 L307.8,80.0 L308.1,80.3 L308.3,80.6 L308.5,81.0 L308.6,81.4 L308.7,81.9 L308.8,82.3 L308.9,82.9 L308.9,83.4 L308.9,83.9 L308.9,84.5 L308.8,85.1 L308.7,85.7 L308.6,86.3 L308.5,86.9 L308.3,87.5 L308.1,88.1 L307.8,88.7 L307.6,89.3 L307.3,89.9 L307.0,90.5 L306.6,91.1 L306.3,91.7 L305.9,92.2 L305.5,92.7 L305.1,93.2 L304.7,93.7 L304.2,94.1 L303.8,94.5 L303.3,94.9 L302.9,95.3 L302.4,95.6 L302.0,95.8 L301.5,96.1 L301.1,96.3 L300.7,96.4 L300.2,96.5 L299.8,96.6 L299.4,96.6 L299.0,96.6 L298.6,96.5 L298.3,96.4 L297.9,96.2 L297.6,96.0 L297.3,95.8 L297.1,95.5 L296.8,95.2 L296.6,94.9 L296.4,94.5 L296.3,94.1 L296.2,93.6 L296.1,93.2 L296.0,92.6" fill="none" stroke="#000" stroke-width="2.73" />
<path d="M306.4,81.1 L306.8,80.9 L307.3,80.7 L307.7,80.6 L308.1,80.4 L308.5,80.4 L308.9,80.4 L309.3,80.4 L309.7,80.5 L310.1,80.6 L310.4,80.7 L310.7,80.9 L311.0,81.2 L311.3,81.4 L311.5,81.7 L311.7,82.1 L311.9,82.5 L312.1,82.9 L312.2,83.3 L312.3,83.8 L312.3,84.3 L312.4,84.8 L312.4,85.4 L312.3,85.9 L312.3,86.5 L312.2,87.1 L312.1,87.7 L311.9,88.3 L311.7,88.9 L311.5,89.6 L311.3,90.2 L311.0,90.8 L310.7,91.4 L310.4,92.0 L310.1,92.6 L309.7,93.1 L309.3,93.7 L308.9,94.2 L308.5,94.7 L308.1,95.1 L307.7,95.6 L307.2,96.0 L306.8,96.4 L306.3,96.7 L305.9,97.0 L305.4,97.3 L305.0,97.5 L304.5,97.7 L304.1,97.8 L303.7,98.0 L303.3,98.0 L302.9,98.0 L302.5,98.0 L302.1,97.9 L301.7,97.8 L301.4,97.7 L301.1,97.5 L300.8,97.2 L300.5,97.0 L300.3,96.7 L300.1,96.3 L299.9,95.9 L299.7,95.5 L299.6,95.1 L299.5,94.6 L299.5,94.1" fill="none" stroke="#000" stroke-width="2.73" />
<path d="M309.8,82.6 L310.3,82.3 L310.7,82.1 L311.1,82.0 L311.6,81.9 L312.0,81.8 L312.4,81.8 L312.8,81.8 L313.2,81.9 L313.5,82.0 L313.9,82.2 L314.2,82.4 L314.5,82.6 L314.7,82.9 L315.0,83.2 L315.2,83.5 L315.4,83.9 L315.5,84.3 L315.6,84.8 L315.7,85.2 L315.8,85.8 L315.8,86.3 L315.8,86.8 L315.8,87.4 L315.7,88.0 L315.6,88.6 L315.5,89.2 L315.4,89.8 L315.2,90.4 L315.0,91.0 L314.7,91.6 L314.5,92.2 L314.2,92.8 L313.9,93.4 L313.5,94.0 L313.2,94.6 L312.8,95.1 L312.4,95.6 L312.0,96.1 L311.6,96.6 L311.1,97.0 L310.7,97.4 L310.2,97.8 L309.8,98.2 L309.3,98.5 L308.9,98.7 L308.4,99.0 L308.0,99.2 L307.6,99.3 L307.1,99.4 L306.7,99.5 L306.3,99.5 L305.9,99.5 L305.5,99.4 L305.2,99.3 L304.8,99.1 L304.5,98.9 L304.2,98.7 L304.0,98.4 L303.7,98.1 L303.5,97.8 L303.3,97.4 L303.2,97.0 L303.1,96.5 L303.0,96.1 L302.9,95.5" fill="none" stroke="#000" stroke-width="2.73" />
<path d="M313.3,84.0 L313.7,83.8 L314.2,83.6 L314.6,83.5 L315.0,83.3 L315.4,83.3 L315.8,83.3 L316.2,83.3 L316.6,83.4 L317.0,83.5 L317.3,83.6 L317.6,83.8 L317.9,84.1 L318.2,84.3 L318.4,84.6 L318.6,85.0 L318.8,85.4 L319.0,85.8 L319.1,86.2 L319.2,86.7 L319.2,87.2 L319.3,87.7 L319.3,88.3 L319.2,88.8 L319.2,89.4 L319.1,90.0 L319.0,90.6 L318.8,91.2 L318.6,91.8 L318.4,92.5 L318.2,93.1 L317.9,93.7 L317.6,94.3 L317.3,94.9 L317.0,95.5 L316.6,96.0 L316.2,96.6 L315.8,97.1 L315.4,97.6 L315.0,98.0 L314.6,98.5 L314.1,98.9 L313.7,99.3 L313.2,99.6 L312.8,99.9 L312.3,100.2 L311.9,100.4 L311.4,100.6 L311.0,100.7 L310.6,100.9 L310.2,100.9 L309.8,100.9 L309.4,100.9 L309.0,100.8 L308.6,100.7 L308.3,100.6 L308.0,100.4 L307.7,100.1 L307.4,99.9 L307.2,99.6 L307.0,99.2 L306.8,98.8 L306.6,98.4 L306.5,98.0 L306.4,97.5 L306.4,97.0" fill="none" stroke="#000" stroke-width="2.73" />
<path d="M316.7,85.5 L317.2,85.2 L317.6,85.0 L318.0,84.9 L318.5,84.8 L318.9,84.7 L319.3,84.7 L319.7,84.7 L320.1,84.8 L320.4,84.9 L320.8,85.1 L321.1,85.3 L321.4,85.5 L321.6,85.8 L321.9,86.1 L322.1,86.4 L322.3,86.8 L322.4,87.2 L322.5,87.7 L322.6,88.1 L322.7,88.7 L322.7,89.2 L322.7,89.7 L322.7,90.3 L322.6,90.9 L322.5,91.5 L322.4,92.1 L322.3,92.7 L322.1,93.3 L321.9,93.9 L321.6,94.5 L321.4,95.1 L321.1,95.7 L320.8,96.3 L320.4,96.9 L320.1,97.5 L319.7,98.0 L319.3,98.5 L318.9,99.0 L318.5,99.5 L318.0,99.9 L317.6,100.3 L317.1,100.7 L316.7,101.1 L316.2,101.4 L315.8,101.6 L315.3,101.9 L314.9,102.1 L314.5,102.2 L314.0,102.3 L313.6,102.4 L313.2,102.4 L312.8,102.4 L312.4,102.3 L312.1,102.2 L311.7,102.0 L311.4,101.8 L311.1,101.6 L310.9,101.3 L310.6,101.0 L310.4,100.7 L310.2,100.3 L310.1,99.9 L310.0,99.4 L309.9,99.0 L309.8,98.4" fill="none" stroke="#000" stroke-width="2.73" />
<path d="M320.2,86.9 L320.6,86.7 L321.1,86.5 L321.5,86.4 L321.9,86.2 L322.3,86.2 L322.7,86.2 L323.1,86.2 L323.5,86.3 L323.9,86.4 L324.2,86.5 L324.5,86.7 L324.8,87.0 L325.1,87.2 L325.3,87.5 L325.5,87.9 L325.7,88.3 L325.9,88.7 L326.0,89.1 L326.1,89.6 L326.1,90.1 L326.2,90.6 L326.2,91.2 L326.1,91.7 L326.1,92.3 L326.0,92.9 L325.9,93.5 L325.7,94.1 L325.5,94.7 L325.3,95.4 L325.1,96.0 L324.8,96.6 L324.5,97.2 L324.2,97.8 L323.9,98.4 L323.5,98.9 L323.1,99.5 L322.7,100.0 L322.3,100.5 L321.9,100.9 L321.5,101.4 L321.0,101.8 L320.6,102.2 L320.1,102.5 L319.7,102.8 L319.2,103.1 L318.8,103.3 L318.3,103.5 L317.9,103.6 L317.5,103.8 L317.1,103.8 L316.7,103.8 L316.3,103.8 L315.9,103.7 L315.5,103.6 L315.2,103.5 L314.9,103.3 L314.6,103.0 L314.3,102.8 L314.1,102.5 L313.9,102.1 L313.7,101.7 L313.5,101.3 L313.4,100.9 L313.3,100.4 L313.3,99.9" fill="none" stroke="#000" stroke-width="2.73" />
<path d="M323.6,88.4 L324.1,88.1 L324.5,87.9 L324.9,87.8 L325.4,87.7 L325.8,87.6 L326.2,87.6 L326.6,87.6 L327.0,87.7 L327.3,87.8 L327.7,88.0 L328.0,88.2 L328.3,88.4 L328.5,88.7 L328.8,89.0 L329.0,89.3 L329.2,89.7 L329.3,90.1 L329.4,90.6 L329.5,91.0 L329.6,91.6 L329.6,92.1 L329.6,92.6 L329.6,93.2 L329.5,93.8 L329.4,94.4 L329.3,95.0 L329.2,95.6 L329.0,96.2 L328.8,96.8 L328.5,97.4 L328.3,98.0 L328.0,98.6 L327.7,99.2 L327.3,99.8 L327.0,100.4 L326.6,100.9 L326.2,101.4 L325.8,101.9 L325.4,102.4 L324.9,102.8 L324.5,103.2 L324.0,103.6 L323.6,104.0 L323.1,104.3 L322.7,104.5 L322.2,104.8 L321.8,105.0 L321.4,105.1 L320.9,105.2 L320.5,105.3 L320.1,105.3 L319.7,105.3 L319.3,105.2 L319.0,105.1 L318.6,104.9 L318.3,104.7 L318.0,104.5 L317.8,104.2 L317.5,103.9 L317.3,103.6 L317.1,103.2 L317.0,102.8 L316.9,102.3 L316.8,101.9 L316.7,101.3" fill="none" stroke="#000" stroke-width="2.73" />
<path d="M327.1,89.8 L327.5,89.6 L328.0,89.4 L328.4,89.3 L328.8,89.1 L329.2,89.1 L329.6,89.1 L330.0,89.1 L330.4,89.2 L330.8,89.3 L331.1,89.4 L331.4,89.6 L331.7,89.9 L332.0,90.1 L332.2,90.4 L332.4,90.8 L332.6,91.2 L332.8,91.6 L332.9,92.0 L333.0,92.5 L333.0,93.0 L333.1,93.5 L333.1,94.1 L333.0,94.6 L333.0,95.2 L332.9,95.8 L332.8,96.4 L332.6,97.0 L332.4,97.6 L332.2,98.3 L332.0,98.9 L331.7,99.5 L331.4,100.1 L331.1,100.7 L330.8,101.3 L330.4,101.8 L330.0,102.4 L329.6,102.9 L329.2,103.4 L328.8,103.8 L328.4,104.3 L327.9,104.7 L327.5,105.1 L327.0,105.4 L326.6,105.7 L326.1,106.0 L325.7,106.2 L325.2,106.4 L324.8,106.5 L324.4,106.7 L324.0,106.7 L323.6,106.7 L323.2,106.7 L322.8,106.6 L322.4,106.5 L322.1,106.4 L321.8,106.2 L321.5,105.9 L321.2,105.7 L321.0,105.4 L320.8,105.0 L320.6,104.6 L320.4,104.2 L320.3,103.8 L320.2,103.3 L320.2,102.8" fill="none" stroke="#000" stroke-width="2.73" />
<path d="M330.5,91.3 L331.0,91.0 L331.4,90.8 L331.8,90.7 L332.3,90.6 L332.7,90.5 L333.1,90.5 L333.5,90.5 L333.9,90.6 L334.2,90.7 L334.6,90.9 L334.9,91.1 L335.2,91.3 L335.4,91.6 L335.7,91.9 L335.9,92.2 L336.1,92.6 L336.2,93.0 L336.3,93.5 L336.4,93.9 L336.5,94.5 L336.5,95.0 L336.5,95.5 L336.5,96.1 L336.4,96.7 L336.3,97.3 L336.2,97.9 L336.1,98.5 L335.9,99.1 L335.7,99.7 L335.4,100.3 L335.2,100.9 L334.9,101.5 L334.6,102.1 L334.2,102.7 L333.9,103.3 L333.5,103.8 L333.1,104.3 L332.7,104.8 L332.3,105.3 L331.8,105.7 L331.4,106.1 L330.9,106.5 L330.5,106.9 L330.0,107.2 L329.6,107.4 L329.1,107.7 L328.7,107.9 L328.3,108.0 L327.8,108.1 L327.4,108.2 L327.0,108.2 L326.6,108.2 L326.2,108.1 L325.9,108.0 L325.5,107.8 L325.2,107.6 L324.9,107.4 L324.7,107.1 L324.4,106.8 L324.2,106.5 L324.0,106.1 L323.9,105.7 L323.8,105.2 L323.7,104.8 L323.6,104.2" fill="none" stroke="#000" stroke-width="2.73" />
<path d="M334.0,92.7 L334.4,92.5 L334.9,92.3 L335.3,92.2 L335.7,92.0 L336.1,92.0 L336.5,92.0 L336.9,92.0 L337.3,92.1 L337.7,92.2 L338.0,92.3 L338.3,92.5 L338.6,92.8 L338.9,93.0 L339.1,93.3 L339.3,93.7 L339.5,94.1 L339.7,94.5 L339.8,94.9 L339.9,95.4 L339.9,95.9 L340.0,96.4 L340.0,97.0 L339.9,97.5 L339.9,98.1 L339.8,98.7 L339.7,99.3 L339.5,99.9 L339.3,100.5 L339.1,101.2 L338.9,101.8 L338.6,102.4 L338.3,103.0 L338.0,103.6 L337.7,104.2 L337.3,104.7 L336.9,105.3 L336.5,105.8 L336.1,106.3 L335.7,106.7 L335.3,107.2 L334.8,107.6 L334.4,108.0 L333.9,108.3 L333.5,108.6 L333.0,108.9 L332.6,109.1 L332.1,109.3 L331.7,109.4 L331.3,109.6 L330.9,109.6 L330.5,109.6 L330.1,109.6 L329.7,109.5 L329.3,109.4 L329.0,109.3 L328.7,109.1 L328.4,108.8 L328.1,108.6 L327.9,108.3 L327.7,107.9 L327.5,107.5 L327.3,107.1 L327.2,106.7 L327.1,106.2 L327.1,105.7" fill="none" stroke="#000" stroke-width="2.73" />
<path d="M338.0,92.3 L338.3,92.5 L338.6,92.8 L338.9,93.0 L339.1,93.3 L339.3,93.7 L339.5,94.1 L339.7,94.5 L339.8,94.9 L339.9,95.4 L339.9,95.9 L340.0,96.4 L340.0,97.0 L339.9,97.5 L339.9,98.1 L339.8,98.7 L339.7,99.3 L339.5,99.9 L339.3,100.5 L339.1,101.2 L338.9,101.8 L338.6,102.4 L338.3,103.0 L338.0,103.6 L337.7,104.2 L337.3,104.7 L336.9,105.3 L336.5,105.8 L336.1,106.3 L335.7,106.7 L335.3,107.2 L334.8,107.6 L334.4,108.0 L333.9,108.3 L333.5,108.6 L333.0,108.9 L332.6,109.1 L332.1,109.3 L331.7,109.4 L331.3,109.6 L330.9,109.6 L330.5,109.6 L330.1,109.6 L329.7,109.5 L329.3,109.4 L329.0,109.3 L328.7,109.1 L328.4,108.8 L328.1,108.6 L327.9,108.3 L327.7,107.9 L327.5,107.5 L327.3,107.1 L327.2,106.7 L327.1,106.2 L327.1,105.7 L327.0,105.2 L327.0,104.6 L327.1,104.1 L327.1,103.5 L327.2,102.9 L327.3,102.3 L327.5,101.7 L327.7,101.1 L327.9,100.4 L328.1,99.8 L328.4,99.2 L328.7,98.6 L329.0,98.0 L329.3,97.4 L329.7,96.9 L330.1,96.3 L330.5,95.8 L330.9,95.3 L331.3,94.9 L331.7,94.4 L332.2,94.0 L332.6,93.6 L333.1,93.3 L333.5,93.0 L334.0,92.7 L334.4,92.5 L334.9,92.3 L335.3,92.2 L335.7,92.0 L336.1,92.0 L336.5,92.0 L336.9,92.0 L337.3,92.1 L337.7,92.2 L338.0,92.3Z" fill="#fff" stroke="#000" stroke-width="2.08" />
<path d="M336.1,95.9 L336.3,96.1 L336.4,96.2 L336.6,96.3 L336.7,96.5 L336.8,96.7 L336.9,96.9 L337.0,97.2 L337.1,97.4 L337.2,97.7 L337.2,98.0 L337.2,98.3 L337.2,98.6 L337.2,98.9 L337.2,99.3 L337.1,99.6 L337.0,99.9 L336.9,100.3 L336.8,100.6 L336.7,101.0 L336.6,101.4 L336.4,101.7 L336.3,102.0 L336.1,102.4 L335.9,102.7 L335.7,103.0 L335.5,103.4 L335.2,103.7 L335.0,103.9 L334.8,104.2 L334.5,104.5 L334.3,104.7 L334.0,104.9 L333.8,105.1 L333.5,105.3 L333.2,105.4 L333.0,105.6 L332.7,105.7 L332.5,105.8 L332.2,105.8 L332.0,105.8 L331.8,105.9 L331.5,105.8 L331.3,105.8 L331.1,105.7 L330.9,105.7 L330.7,105.5 L330.6,105.4 L330.4,105.3 L330.3,105.1 L330.2,104.9 L330.1,104.7 L330.0,104.4 L329.9,104.2 L329.8,103.9 L329.8,103.6 L329.8,103.3 L329.8,103.0 L329.8,102.7 L329.8,102.3 L329.9,102.0 L330.0,101.7 L330.1,101.3 L330.2,101.0 L330.3,100.6 L330.4,100.2 L330.6,99.9 L330.7,99.6 L330.9,99.2 L331.1,98.9 L331.3,98.6 L331.5,98.2 L331.8,97.9 L332.0,97.7 L332.2,97.4 L332.5,97.1 L332.7,96.9 L333.0,96.7 L333.2,96.5 L333.5,96.3 L333.8,96.2 L334.0,96.0 L334.3,95.9 L334.5,95.8 L334.8,95.8 L335.0,95.8 L335.2,95.7 L335.5,95.8 L335.7,95.8 L335.9,95.9 L336.1,95.9Z" fill="none" stroke="#000" stroke-width="1.69" />
<path d="M294.5,94.8 L294.2,94.6 L293.9,94.3 L293.6,94.1 L293.4,93.7 L293.2,93.4 L293.0,93.0 L292.8,92.6 L292.7,92.1 L292.6,91.6 L292.5,91.1 L292.5,90.6 L292.5,90.0 L292.6,89.5 L292.6,88.9 L292.7,88.3 L292.9,87.7 L293.0,87.0 L293.2,86.4 L293.4,85.8 L293.7,85.2 L294.0,84.5 L294.3,83.9 L294.6,83.3 L294.9,82.8 L295.3,82.2 L295.7,81.7 L296.1,81.1 L296.5,80.6 L297.0,80.2 L297.4,79.7 L297.8,79.3 L298.3,79.0 L298.8,78.6 L299.2,78.4 L299.7,78.1 L300.1,77.9 L300.6,77.7" fill="none" stroke="#000" stroke-width="2.08" />
<path d="M337.0,102.5 L345.5,108.5" fill="none" stroke="#000" stroke-width="1.43" />
<path d="M525.9,169.8 L526.0,169.9 L526.0,169.9 L526.1,170.0 L526.2,170.1 L526.3,170.2 L526.3,170.4 L526.4,170.5 L526.4,170.6 L526.5,170.8 L526.5,170.9 L526.5,171.1 L526.5,171.3 L526.5,171.4 L526.5,171.6 L526.4,171.8 L526.4,172.0 L526.3,172.2 L526.3,172.4 L526.2,172.5 L526.1,172.7 L526.1,172.9 L526.0,173.1 L525.9,173.3 L525.7,173.4 L525.6,173.6 L525.5,173.8 L525.4,173.9 L525.3,174.0 L525.1,174.2 L525.0,174.3 L524.8,174.4 L524.7,174.5 L524.5,174.6 L524.4,174.7 L524.3,174.8 L524.1,174.8 L524.0,174.9 L523.8,174.9 L523.7,174.9 L523.6,175.0 L523.4,175.0 L523.3,174.9 L523.2,174.9 L523.1,174.9 L522.9,174.8 L467.9,146.3 L467.8,146.2 L467.7,146.1 L467.6,146.0 L467.5,145.9 L467.5,145.8 L467.4,145.7 L467.4,145.6 L467.3,145.4 L467.3,145.3 L467.3,145.1 L467.3,145.0 L467.3,144.8 L467.3,144.6 L467.3,144.5 L467.3,144.3 L467.4,144.1 L467.4,143.9 L467.5,143.7 L467.5,143.5 L467.6,143.3 L467.7,143.2 L467.8,143.0 L467.9,142.8 L468.0,142.6 L468.1,142.5 L468.2,142.3 L468.4,142.2 L468.5,142.0 L468.6,141.9 L468.8,141.8 L468.9,141.6 L469.1,141.5 L469.2,141.4 L469.4,141.4 L469.5,141.3 L469.6,141.2 L469.8,141.2 L469.9,141.1 L470.1,141.1 L470.2,141.1 L470.3,141.1 L470.5,141.1 L470.6,141.2 L470.7,141.2 L470.8,141.3Z" fill="#fff" stroke="#000" stroke-width="1.56" />
<path d="M525.9,169.8 L526.0,169.9 L526.0,169.9 L526.1,170.0 L526.2,170.1 L526.3,170.2 L526.3,170.4 L526.4,170.5 L526.4,170.6 L526.5,170.8 L526.5,170.9 L526.5,171.1 L526.5,171.3 L526.5,171.4 L526.5,171.6 L526.4,171.8 L526.4,172.0 L526.3,172.2 L526.3,172.4 L526.2,172.5 L526.1,172.7 L526.1,172.9 L526.0,173.1 L525.9,173.3 L525.7,173.4 L525.6,173.6 L525.5,173.8 L525.4,173.9 L525.3,174.0 L525.1,174.2 L525.0,174.3 L524.8,174.4 L524.7,174.5 L524.5,174.6 L524.4,174.7 L524.3,174.8 L524.1,174.8 L524.0,174.9 L523.8,174.9 L523.7,174.9 L523.6,175.0 L523.4,175.0 L523.3,174.9 L523.2,174.9 L523.1,174.9 L522.9,174.8 L522.8,174.7 L522.8,174.7 L522.7,174.6 L522.6,174.5 L522.5,174.4 L522.5,174.2 L522.4,174.1 L522.4,174.0 L522.3,173.8 L522.3,173.7 L522.3,173.5 L522.3,173.3 L522.3,173.2 L522.3,173.0 L522.4,172.8 L522.4,172.6 L522.5,172.4 L522.5,172.2 L522.6,172.1 L522.7,171.9 L522.7,171.7 L522.8,171.5 L522.9,171.3 L523.1,171.2 L523.2,171.0 L523.3,170.8 L523.4,170.7 L523.5,170.6 L523.7,170.4 L523.8,170.3 L524.0,170.2 L524.1,170.1 L524.3,170.0 L524.4,169.9 L524.5,169.8 L524.7,169.8 L524.8,169.7 L525.0,169.7 L525.1,169.7 L525.2,169.6 L525.4,169.6 L525.5,169.7 L525.6,169.7 L525.7,169.7 L525.9,169.8Z" fill="#fff" stroke="#000" stroke-width="1.56" />
<path d="M467.8,130.9 L468.1,131.1 L468.4,131.4 L468.8,131.7 L469.0,132.1 L469.3,132.5 L469.5,132.9 L469.7,133.4 L469.8,133.9 L469.9,134.4 L470.0,135.0 L470.0,135.5 L470.0,136.1 L470.0,136.7 L469.9,137.4 L469.8,138.0 L469.7,138.7 L469.5,139.3 L469.3,140.0 L469.0,140.6 L468.8,141.3 L468.5,141.9 L468.1,142.6 L467.8,143.2 L467.4,143.8 L467.0,144.4 L466.5,145.0 L466.1,145.5 L465.6,146.0 L465.2,146.5 L464.7,146.9 L464.2,147.3 L463.6,147.7 L463.1,148.1 L462.6,148.4 L462.1,148.6 L461.6,148.8 L461.1,149.0 L460.6,149.1 L460.1,149.2 L459.6,149.2 L459.1,149.2 L458.7,149.2 L458.2,149.1 L457.8,148.9 L457.5,148.7 L452.1,145.9 L451.7,145.7 L451.4,145.4 L451.0,145.1 L450.8,144.7 L450.5,144.3 L450.3,143.9 L450.1,143.4 L450.0,142.9 L449.9,142.4 L449.8,141.8 L449.8,141.3 L449.8,140.7 L449.8,140.1 L449.9,139.4 L450.0,138.8 L450.1,138.1 L450.3,137.5 L450.5,136.8 L450.8,136.2 L451.0,135.5 L451.3,134.9 L451.7,134.2 L452.0,133.6 L452.4,133.0 L452.8,132.4 L453.3,131.8 L453.7,131.3 L454.2,130.8 L454.6,130.3 L455.1,129.9 L455.6,129.5 L456.2,129.1 L456.7,128.7 L457.2,128.4 L457.7,128.2 L458.2,128.0 L458.7,127.8 L459.2,127.7 L459.7,127.6 L460.2,127.6 L460.7,127.6 L461.1,127.6 L461.6,127.7 L462.0,127.9 L462.3,128.1Z" fill="#fff" stroke="#000" stroke-width="1.82" />
<path d="M462.3,128.1 L462.7,128.3 L463.0,128.6 L463.4,128.9 L463.6,129.3 L463.9,129.7 L464.1,130.1 L464.3,130.6 L464.4,131.1 L464.5,131.6 L464.6,132.2 L464.6,132.7 L464.6,133.3 L464.6,133.9 L464.5,134.6 L464.4,135.2 L464.3,135.9 L464.1,136.5 L463.9,137.2 L463.6,137.8 L463.4,138.5 L463.1,139.1 L462.7,139.8 L462.4,140.4 L462.0,141.0 L461.6,141.6 L461.1,142.2 L460.7,142.7 L460.2,143.2 L459.8,143.7 L459.3,144.1 L458.8,144.5 L458.2,144.9 L457.7,145.3 L457.2,145.6 L456.7,145.8 L456.2,146.0 L455.7,146.2 L455.2,146.3 L454.7,146.4 L454.2,146.4 L453.7,146.4 L453.3,146.4 L452.8,146.3 L452.4,146.1 L452.1,145.9" fill="none" stroke="#000" stroke-width="1.56" />
<path d="M525.9,169.8 L526.0,169.9 L526.0,169.9 L526.1,170.0 L526.2,170.1 L526.3,170.2 L526.3,170.4 L526.4,170.5 L526.4,170.6 L526.5,170.8 L526.5,170.9 L526.5,171.1 L526.5,171.3 L526.5,171.4 L526.5,171.6 L526.4,171.8 L526.4,172.0 L526.3,172.2 L526.3,172.4 L526.2,172.5 L526.1,172.7 L526.1,172.9 L526.0,173.1 L525.9,173.3 L525.7,173.4 L525.6,173.6 L525.5,173.8 L525.4,173.9 L525.3,174.0 L525.1,174.2 L525.0,174.3 L524.8,174.4 L524.7,174.5 L524.5,174.6 L524.4,174.7 L524.3,174.8 L524.1,174.8 L524.0,174.9 L523.8,174.9 L523.7,174.9 L523.6,175.0 L523.4,175.0 L523.3,174.9 L523.2,174.9 L523.1,174.9 L522.9,174.8 L469.7,147.2 L469.6,147.1 L469.5,147.1 L469.4,147.0 L469.3,146.9 L469.3,146.8 L469.2,146.6 L469.1,146.5 L469.1,146.4 L469.1,146.2 L469.1,146.1 L469.0,145.9 L469.0,145.7 L469.1,145.5 L469.1,145.4 L469.1,145.2 L469.1,145.0 L469.2,144.8 L469.2,144.6 L469.3,144.5 L469.4,144.3 L469.5,144.1 L469.6,143.9 L469.7,143.7 L469.8,143.6 L469.9,143.4 L470.0,143.2 L470.1,143.1 L470.3,142.9 L470.4,142.8 L470.6,142.7 L470.7,142.6 L470.8,142.5 L471.0,142.4 L471.1,142.3 L471.3,142.2 L471.4,142.1 L471.6,142.1 L471.7,142.1 L471.8,142.0 L472.0,142.0 L472.1,142.0 L472.2,142.1 L472.4,142.1 L472.5,142.1 L472.6,142.2Z" fill="#fff" stroke="#000" stroke-width="1.56" />
<path d="M525.9,169.8 L526.0,169.9 L526.0,169.9 L526.1,170.0 L526.2,170.1 L526.3,170.2 L526.3,170.4 L526.4,170.5 L526.4,170.6 L526.5,170.8 L526.5,170.9 L526.5,171.1 L526.5,171.3 L526.5,171.4 L526.5,171.6 L526.4,171.8 L526.4,172.0 L526.3,172.2 L526.3,172.4 L526.2,172.5 L526.1,172.7 L526.1,172.9 L526.0,173.1 L525.9,173.3 L525.7,173.4 L525.6,173.6 L525.5,173.8 L525.4,173.9 L525.3,174.0 L525.1,174.2 L525.0,174.3 L524.8,174.4 L524.7,174.5 L524.5,174.6 L524.4,174.7 L524.3,174.8 L524.1,174.8 L524.0,174.9 L523.8,174.9 L523.7,174.9 L523.6,175.0 L523.4,175.0 L523.3,174.9 L523.2,174.9 L523.1,174.9 L522.9,174.8 L522.8,174.7 L522.8,174.7 L522.7,174.6 L522.6,174.5 L522.5,174.4 L522.5,174.2 L522.4,174.1 L522.4,174.0 L522.3,173.8 L522.3,173.7 L522.3,173.5 L522.3,173.3 L522.3,173.2 L522.3,173.0 L522.4,172.8 L522.4,172.6 L522.5,172.4 L522.5,172.2 L522.6,172.1 L522.7,171.9 L522.7,171.7 L522.8,171.5 L522.9,171.3 L523.1,171.2 L523.2,171.0 L523.3,170.8 L523.4,170.7 L523.5,170.6 L523.7,170.4 L523.8,170.3 L524.0,170.2 L524.1,170.1 L524.3,170.0 L524.4,169.9 L524.5,169.8 L524.7,169.8 L524.8,169.7 L525.0,169.7 L525.1,169.7 L525.2,169.6 L525.4,169.6 L525.5,169.7 L525.6,169.7 L525.7,169.7 L525.9,169.8Z" fill="#fff" stroke="#000" stroke-width="1.56" />
<path d="M549.4,170.9 L550.8,182.9 L541.9,195.1 L531.6,195.1 L530.2,183.1 L539.1,170.9Z" fill="#fff" stroke="#000" stroke-width="1.95" />
<path d="M549.4,170.9 L554.4,173.4" fill="none" stroke="#000" stroke-width="1.56" />
<path d="M550.8,182.9 L555.8,185.4" fill="none" stroke="#000" stroke-width="1.56" />
<path d="M541.9,195.1 L546.9,197.6" fill="none" stroke="#000" stroke-width="1.56" />
<path d="M531.6,195.1 L536.6,197.6" fill="none" stroke="#000" stroke-width="1.56" />
<path d="M530.2,183.1 L535.2,185.6" fill="none" stroke="#000" stroke-width="1.56" />
<path d="M539.1,170.9 L544.1,173.4" fill="none" stroke="#000" stroke-width="1.56" />
<path d="M554.4,173.4 L555.8,185.4 L546.9,197.6 L536.6,197.6 L535.2,185.6 L544.1,173.4Z" fill="#fff" stroke="#000" stroke-width="1.95" />
<path d="M550.1,177.4 L550.5,177.7 L550.8,177.9 L551.1,178.2 L551.3,178.6 L551.6,178.9 L551.8,179.3 L552.0,179.7 L552.1,180.2 L552.2,180.7 L552.3,181.2 L552.3,181.7 L552.3,182.3 L552.3,182.8 L552.2,183.4 L552.1,184.0 L552.0,184.6 L551.9,185.2 L551.7,185.8 L551.5,186.3 L551.2,186.9 L551.0,187.5 L550.7,188.1 L550.3,188.7 L550.0,189.2 L549.6,189.7 L549.2,190.2 L548.8,190.7 L548.4,191.2 L547.9,191.6 L547.5,192.0 L547.0,192.4 L546.6,192.7 L546.1,193.0 L545.6,193.3 L545.1,193.5 L544.7,193.7 L544.2,193.9 L543.7,194.0 L543.3,194.0 L542.8,194.1 L542.4,194.0 L542.0,194.0 L541.6,193.9 L541.2,193.7 L540.9,193.6 L540.5,193.3 L540.2,193.1 L539.9,192.8 L539.7,192.4 L539.4,192.1 L539.2,191.7 L539.0,191.3 L538.9,190.8 L538.8,190.3 L538.7,189.8 L538.7,189.3 L538.7,188.7 L538.7,188.2 L538.8,187.6 L538.9,187.0 L539.0,186.4 L539.1,185.8 L539.3,185.2 L539.5,184.7 L539.8,184.1 L540.0,183.5 L540.3,182.9 L540.7,182.3 L541.0,181.8 L541.4,181.3 L541.8,180.8 L542.2,180.3 L542.6,179.8 L543.1,179.4 L543.5,179.0 L544.0,178.6 L544.4,178.3 L544.9,178.0 L545.4,177.7 L545.9,177.5 L546.3,177.3 L546.8,177.1 L547.3,177.0 L547.7,177.0 L548.2,176.9 L548.6,177.0 L549.0,177.0 L549.4,177.1 L549.8,177.3 L550.1,177.4Z" fill="none" stroke="#000" stroke-width="1.82" />
<path d="M549.6,180.5 L549.9,180.7 L550.1,180.9 L550.3,181.1 L550.5,181.3 L550.6,181.5 L550.8,181.8 L550.9,182.1 L551.0,182.4 L551.0,182.7 L551.1,183.1 L551.1,183.4 L551.1,183.8 L551.1,184.2 L551.1,184.6 L551.0,185.0 L550.9,185.4 L550.8,185.8 L550.7,186.2 L550.5,186.6 L550.4,187.0 L550.2,187.4 L550.0,187.8 L549.8,188.1 L549.5,188.5 L549.3,188.9 L549.0,189.2 L548.7,189.5 L548.5,189.9 L548.2,190.1 L547.9,190.4 L547.5,190.7 L547.2,190.9 L546.9,191.1 L546.6,191.3 L546.3,191.4 L545.9,191.6 L545.6,191.7 L545.3,191.7 L545.0,191.8 L544.7,191.8 L544.4,191.8 L544.1,191.7 L543.9,191.7 L543.6,191.6 L543.4,191.5 L543.1,191.3 L542.9,191.1 L542.7,190.9 L542.5,190.7 L542.4,190.5 L542.2,190.2 L542.1,189.9 L542.0,189.6 L542.0,189.3 L541.9,188.9 L541.9,188.6 L541.9,188.2 L541.9,187.8 L541.9,187.4 L542.0,187.0 L542.1,186.6 L542.2,186.2 L542.3,185.8 L542.5,185.4 L542.6,185.0 L542.8,184.6 L543.0,184.2 L543.2,183.9 L543.5,183.5 L543.7,183.1 L544.0,182.8 L544.3,182.5 L544.5,182.1 L544.8,181.9 L545.1,181.6 L545.5,181.3 L545.8,181.1 L546.1,180.9 L546.4,180.7 L546.7,180.6 L547.1,180.4 L547.4,180.3 L547.7,180.3 L548.0,180.2 L548.3,180.2 L548.6,180.2 L548.9,180.3 L549.1,180.3 L549.4,180.4 L549.6,180.5Z" fill="none" stroke="#000" stroke-width="1.43" />
<path d="M546.5,186.5 L554.5,191.0" fill="none" stroke="#000" stroke-width="1.3" />
<path d="M579.1,180.3 L579.8,180.7 L580.5,181.3 L581.0,181.9 L581.5,182.5 L582.0,183.3 L582.4,184.1 L582.7,185.0 L583.0,185.9 L583.2,186.9 L583.3,187.9 L583.4,189.0 L583.4,190.1 L583.3,191.3 L583.2,192.5 L583.0,193.7 L582.7,194.9 L582.4,196.1 L582.0,197.3 L581.6,198.6 L581.1,199.8 L580.5,201.0 L579.9,202.2 L579.2,203.4 L578.5,204.5 L577.7,205.6 L576.9,206.7 L576.1,207.7 L575.2,208.6 L574.3,209.5 L573.4,210.4 L572.4,211.1 L571.5,211.9 L570.5,212.5 L569.5,213.0 L568.6,213.5 L567.6,213.9 L566.6,214.2 L565.7,214.5 L564.8,214.6 L563.9,214.7 L563.0,214.7 L562.1,214.6 L561.3,214.4 L560.6,214.1 L559.9,213.7 L559.2,213.3 L558.5,212.7 L558.0,212.1 L557.5,211.5 L557.0,210.7 L556.6,209.9 L556.3,209.0 L556.0,208.1 L555.8,207.1 L555.7,206.1 L555.6,205.0 L555.6,203.9 L555.7,202.7 L555.8,201.5 L556.0,200.3 L556.3,199.1 L556.6,197.9 L557.0,196.7 L557.4,195.4 L557.9,194.2 L558.5,193.0 L559.1,191.8 L559.8,190.6 L560.5,189.5 L561.3,188.4 L562.1,187.3 L562.9,186.3 L563.8,185.4 L564.7,184.5 L565.6,183.6 L566.6,182.9 L567.5,182.1 L568.5,181.5 L569.5,181.0 L570.4,180.5 L571.4,180.1 L572.4,179.8 L573.3,179.5 L574.2,179.4 L575.1,179.3 L576.0,179.3 L576.9,179.4 L577.7,179.6 L578.4,179.9 L579.1,180.3Z" fill="#fff" stroke="#000" stroke-width="1.95" />
<path d="M581.1,181.3 L581.8,181.7 L582.5,182.3 L583.0,182.9 L583.5,183.5 L584.0,184.3 L584.4,185.1 L584.7,186.0 L585.0,186.9 L585.2,187.9 L585.3,188.9 L585.4,190.0 L585.4,191.1 L585.3,192.3 L585.2,193.5 L585.0,194.7 L584.7,195.9 L584.4,197.1 L584.0,198.3 L583.6,199.6 L583.1,200.8 L582.5,202.0 L581.9,203.2 L581.2,204.4 L580.5,205.5 L579.7,206.6 L578.9,207.7 L578.1,208.7 L577.2,209.6 L576.3,210.5 L575.4,211.4 L574.4,212.1 L573.5,212.9 L572.5,213.5 L571.5,214.0 L570.6,214.5 L569.6,214.9 L568.6,215.2 L567.7,215.5 L566.8,215.6 L565.9,215.7 L565.0,215.7 L564.1,215.6 L563.3,215.4 L562.6,215.1 L561.9,214.7 L561.2,214.3 L560.5,213.7 L560.0,213.1 L559.5,212.5 L559.0,211.7 L558.6,210.9 L558.3,210.0 L558.0,209.1 L557.8,208.1 L557.7,207.1 L557.6,206.0 L557.6,204.9 L557.7,203.7 L557.8,202.5 L558.0,201.3 L558.3,200.1 L558.6,198.9 L559.0,197.7 L559.4,196.4 L559.9,195.2 L560.5,194.0 L561.1,192.8 L561.8,191.6 L562.5,190.5 L563.3,189.4 L564.1,188.3 L564.9,187.3 L565.8,186.4 L566.7,185.5 L567.6,184.6 L568.6,183.9 L569.5,183.1 L570.5,182.5 L571.5,182.0 L572.4,181.5 L573.4,181.1 L574.4,180.8 L575.3,180.5 L576.2,180.4 L577.1,180.3 L578.0,180.3 L578.9,180.4 L579.7,180.6 L580.4,180.9 L581.1,181.3Z" fill="#fff" stroke="#000" stroke-width="2.34" />
<path d="M565.5,193.0 L572.0,187.5 L577.5,190.5 L576.0,195.0 L581.5,196.0 L580.5,203.0 L575.0,203.5 L575.5,209.5 L567.5,211.5 L564.0,206.0 L568.0,201.5 L564.0,198.0Z" fill="none" stroke="#000" stroke-width="1.95" />
<path d="M575.0,201.0 L597.5,212.0" fill="none" stroke="#000" stroke-width="1.3" />
<path d="M173.0,503.0 L128.4,477.1 L122.3,478.3 L100.3,483.2 L97.0,486.5 L114.0,494.0 L110.0,499.0 L96.0,493.5 L88.0,497.0 L93.0,503.0 L79.6,506.8 L62.0,511.8 L56.1,521.0 L73.7,532.0 L65.3,548.0 L45.2,539.5 L41.0,548.8 L46.9,560.5 L42.7,570.6 L34.3,572.3 L33.4,577.3 L51.9,590.8 L50.2,600.8 L36.8,595.0 L33.4,599.0 L36.0,604.0 L53.6,612.0 L50.0,617.0 L44.0,616.0 L47.5,622.0 L66.7,634.0 L86.0,645.0 L150.0,600.0Z" fill="#fff" stroke="#000" stroke-width="1.69" />
<path d="M74.9,637.6 L72.3,635.1 L69.9,632.3 L67.8,629.1 L66.0,625.7 L64.4,621.9 L63.2,617.9 L62.2,613.7 L61.5,609.2 L61.2,604.5 L61.1,599.7 L61.4,594.7 L62.0,589.5 L62.9,584.3 L64.0,578.9 L65.5,573.5 L67.3,568.1 L69.3,562.7 L71.6,557.3 L74.2,552.0 L77.0,546.8 L80.0,541.6 L83.3,536.6 L86.7,531.7 L90.4,527.1 L94.2,522.6 L98.1,518.3 L102.2,514.3 L106.4,510.6 L110.6,507.2 L115.0,504.0 L119.3,501.2 L123.7,498.7 L128.1,496.5" fill="none" stroke="#000" stroke-width="1.43" />
<path d="M77.2,634.4 L74.7,632.0 L72.4,629.3 L70.4,626.3 L68.7,623.0 L67.2,619.4 L66.0,615.6 L65.1,611.5 L64.5,607.3 L64.1,602.8 L64.1,598.2 L64.3,593.4 L64.9,588.5 L65.7,583.5 L66.8,578.4 L68.2,573.3 L69.9,568.1 L71.9,563.0 L74.1,557.8 L76.5,552.8 L79.2,547.8 L82.1,542.9 L85.2,538.1 L88.5,533.5 L91.9,529.0 L95.6,524.7 L99.3,520.7 L103.2,516.9 L107.2,513.3 L111.2,510.0 L115.4,507.0 L119.5,504.3 L123.7,502.0 L127.9,499.9" fill="none" stroke="#000" stroke-width="1.17" />
<path d="M66.4,631.6 L64.1,628.7 L62.0,625.4 L60.2,621.8 L58.8,618.0 L57.6,613.8 L56.7,609.5 L56.1,604.9 L55.9,600.1 L55.9,595.1 L56.3,590.0 L57.0,584.8 L58.0,579.4 L59.3,574.0 L60.9,568.6 L62.8,563.1 L65.0,557.6 L67.4,552.2 L70.1,546.8 L73.1,541.6 L76.2,536.4 L79.6,531.4 L83.2,526.6 L86.9,522.0 L90.9,517.6 L94.9,513.4 L99.1,509.5 L103.4,505.9" fill="none" stroke="#000" stroke-width="1.17" />
<path d="M170.5,500.6 L173.3,502.5 L175.9,504.9 L178.3,507.5 L180.4,510.4 L182.2,513.7 L183.8,517.2 L185.0,520.9 L186.0,524.9 L186.8,529.2 L187.2,533.6 L187.3,538.2 L187.2,542.9 L186.7,547.8 L186.0,552.8 L184.9,557.9 L183.6,563.0 L182.0,568.2 L180.2,573.4 L178.1,578.6 L175.7,583.7 L173.1,588.8 L170.3,593.7 L167.3,598.6 L164.0,603.3 L160.6,607.8 L157.1,612.2 L153.3,616.4 L149.5,620.3 L145.5,624.0 L141.5,627.4 L137.4,630.6 L133.2,633.4 L129.0,636.0 L124.8,638.2 L120.6,640.1 L116.5,641.7 L112.3,642.9 L108.3,643.7 L104.4,644.2 L100.5,644.4 L96.8,644.1 L93.3,643.5 L89.9,642.6 L86.6,641.3 L83.6,639.6 L80.8,637.6 L78.2,635.3 L75.9,632.7 L73.8,629.8 L72.0,626.5 L70.4,623.0 L69.1,619.3 L68.1,615.2 L67.4,611.0 L67.0,606.6 L66.8,602.0 L67.0,597.2 L67.5,592.4 L68.2,587.4 L69.2,582.3 L70.5,577.1 L72.1,572.0 L74.0,566.8 L76.1,561.6 L78.4,556.5 L81.0,551.4 L83.9,546.5 L86.9,541.6 L90.1,536.9 L93.5,532.3 L97.1,528.0 L100.8,523.8 L104.7,519.9 L108.6,516.2 L112.7,512.7 L116.8,509.6 L121.0,506.7 L125.2,504.2 L129.4,502.0 L133.6,500.1 L137.7,498.5 L141.8,497.3 L145.9,496.5 L149.8,496.0 L153.6,495.8 L157.4,496.1 L160.9,496.7 L164.3,497.6 L167.5,498.9 L170.5,500.6Z" fill="#fff" stroke="#000" stroke-width="1.56" />
<path d="M172.6,504.8 L175.8,502.9 L175.3,506.8 L178.5,505.1 L177.8,509.0 L181.0,507.6 L180.0,511.5 L183.2,510.4 L182.1,514.4 L185.2,513.5 L183.8,517.5 L186.9,516.9 L185.3,520.9 L188.4,520.6 L186.6,524.5 L189.5,524.5 L187.5,528.4 L190.4,528.6 L188.2,532.5 L191.0,533.0 L188.7,536.7 L191.3,537.5 L188.8,541.2 L191.2,542.2 L188.6,545.8 L190.9,547.1 L188.2,550.5 L190.3,552.1 L187.5,555.3 L189.4,557.2 L186.5,560.2 L188.3,562.3 L185.2,565.2 L186.8,567.5 L183.7,570.2 L185.1,572.7 L181.9,575.2 L183.1,577.9 L179.9,580.2 L180.8,583.1 L177.6,585.1 L178.3,588.3 L175.1,590.0 L175.6,593.3 L172.3,594.8 L172.6,598.3 L169.4,599.5 L169.5,603.1 L166.3,604.1 L166.1,607.8 L163.0,608.5 L162.6,612.3 L159.5,612.7 L158.9,616.6 L156.0,616.7 L155.1,620.6 L152.2,620.5 L151.2,624.5 L148.4,624.1 L147.2,628.1 L144.5,627.4 L143.0,631.4 L140.5,630.4 L138.9,634.4 L136.5,633.2 L134.7,637.1 L132.5,635.7 L130.4,639.6 L128.4,637.8 L126.2,641.6 L124.4,639.6 L122.0,643.4 L120.3,641.1 L117.8,644.8 L116.4,642.3 L113.7,645.8 L112.5,643.1 L109.7,646.5 L108.7,643.6 L105.8,646.8 L104.9,643.7 L102.0,646.7 L101.4,643.5 L98.3,646.3 L97.9,642.9 L94.8,645.5 L94.6,642.0 L91.5,644.4 L91.5,640.8 L88.3,642.9 L88.6,639.2 L85.4,641.1 L85.9,637.2 L82.7,638.9 L83.4,635.0 L80.2,636.4 L81.2,632.5 L78.0,633.6 L79.1,629.6 L76.0,630.5 L77.4,626.5 L74.3,627.1 L75.9,623.1 L72.8,623.4 L74.6,619.5 L71.7,619.5 L73.7,615.6 L70.8,615.4 L73.0,611.5 L70.2,611.0 L72.5,607.3 L69.9,606.5 L72.4,602.8 L70.0,601.8 L72.6,598.2 L70.3,596.9 L73.0,593.5 L70.9,591.9 L73.7,588.7 L71.8,586.8 L74.7,583.8 L72.9,581.7 L76.0,578.8 L74.4,576.5 L77.5,573.8 L76.1,571.3 L79.3,568.8 L78.1,566.1 L81.3,563.8 L80.4,560.9 L83.6,558.9 L82.9,555.7 L86.1,554.0 L85.6,550.7 L88.9,549.2 L88.6,545.7 L91.8,544.5 L91.7,540.9 L94.9,539.9 L95.1,536.2 L98.2,535.5 L98.6,531.7 L101.7,531.3 L102.3,527.4 L105.2,527.3 L106.1,523.4 L109.0,523.5 L110.0,519.5 L112.8,519.9 L114.0,515.9 L116.7,516.6 L118.2,512.6 L120.7,513.6 L122.3,509.6 L124.7,510.8 L126.5,506.9 L128.7,508.3 L130.8,504.4 L132.8,506.2 L135.0,502.4 L136.8,504.4 L139.2,500.6 L140.9,502.9 L143.4,499.2 L144.8,501.7 L147.5,498.2 L148.7,500.9 L151.5,497.5 L152.5,500.4 L155.4,497.2 L156.3,500.3 L159.2,497.3 L159.8,500.5 L162.9,497.7 L163.3,501.1 L166.4,498.5 L166.6,502.0 L169.7,499.6 L169.7,503.2 L172.9,501.1Z" fill="#fff" stroke="#000" stroke-width="1.69" />
<path d="M171.4,506.7 L174.0,508.6 L176.5,510.7 L178.7,513.2 L180.6,516.0 L182.3,519.0 L183.8,522.3 L185.0,525.8 L186.0,529.6 L186.6,533.6 L187.0,537.7 L187.2,542.0 L187.0,546.5 L186.6,551.1 L185.9,555.8 L184.9,560.6 L183.7,565.4 L182.2,570.2 L180.5,575.1 L178.5,580.0 L176.3,584.8 L173.8,589.5 L171.2,594.2 L168.3,598.7 L165.3,603.2 L162.1,607.4 L158.7,611.6 L155.3,615.5 L151.6,619.2 L147.9,622.6 L144.1,625.9 L140.3,628.8 L136.4,631.5 L132.4,633.9 L128.5,636.0 L124.5,637.8 L120.6,639.2 L116.8,640.4 L113.0,641.1 L109.3,641.6 L105.7,641.7 L102.2,641.5 L98.8,641.0 L95.6,640.1 L92.6,638.8 L89.8,637.3 L87.2,635.4 L84.7,633.3 L82.5,630.8 L80.6,628.0 L78.9,625.0 L77.4,621.7 L76.2,618.2 L75.2,614.4 L74.6,610.4 L74.2,606.3 L74.0,602.0 L74.2,597.5 L74.6,592.9 L75.3,588.2 L76.3,583.4 L77.5,578.6 L79.0,573.8 L80.7,568.9 L82.7,564.0 L84.9,559.2 L87.4,554.5 L90.0,549.8 L92.9,545.3 L95.9,540.8 L99.1,536.6 L102.5,532.4 L105.9,528.5 L109.6,524.8 L113.3,521.4 L117.1,518.1 L120.9,515.2 L124.8,512.5 L128.8,510.1 L132.7,508.0 L136.7,506.2 L140.6,504.8 L144.4,503.6 L148.2,502.9 L151.9,502.4 L155.5,502.3 L159.0,502.5 L162.4,503.0 L165.6,503.9 L168.6,505.2 L171.4,506.7Z" fill="none" stroke="#000" stroke-width="1.3" />
<path d="M110.3,643.4 L112.8,645.5 M106.5,644.0 L109.0,646.0 M102.8,644.3 L105.4,646.3 M99.2,644.3 L101.8,646.2 M95.7,644.0 L98.4,645.8 M92.4,643.3 L95.1,645.0 M89.2,642.4 L91.9,643.9 M86.2,641.1 L88.9,642.6 M83.3,639.4 L86.1,640.9 M80.7,637.5 L83.5,638.9 M78.2,635.3 L81.2,636.6 M76.0,632.8 L79.0,634.0 M74.0,630.1 L77.0,631.2 M72.2,627.0 L75.3,628.1 M70.7,623.7 L73.9,624.7 M69.4,620.2 L72.6,621.2 M68.4,616.5 L71.7,617.4 M67.6,612.5 L71.0,613.4 M67.1,608.4 L70.5,609.2 M66.9,604.1 L70.4,604.8 M66.9,599.6 L70.4,600.4 M67.2,595.1 L70.8,595.7 M67.7,590.4 L71.4,591.0 M68.5,585.6 L72.3,586.2 M69.6,580.7 L73.4,581.4 M70.9,575.9 L74.8,576.5 M72.5,570.9 L76.4,571.5 M74.3,566.0 L78.3,566.6 M76.3,561.1 L80.4,561.7 M78.6,556.2 L82.7,556.9 M81.0,551.4 L85.2,552.1 M83.7,546.7 L88.0,547.4 M86.6,542.1 L90.9,542.8 M89.6,537.6 L94.0,538.3 M92.8,533.2 L97.2,534.0 M96.2,529.0 L100.6,529.9 M99.7,525.0 L104.2,525.9 M103.3,521.2 L107.8,522.2 M107.0,517.6 L111.5,518.6 M110.8,514.3 L115.4,515.3 M114.7,511.1 L119.3,512.3 M118.7,508.3 L123.2,509.5 M122.6,505.7 L127.2,506.9 M126.6,503.4 L131.2,504.7 M130.6,501.4 L135.2,502.8 M134.6,499.6 L139.2,501.2 M138.5,498.2 L143.1,499.8 M142.4,497.2 L147.0,498.8 M146.3,496.4 L150.8,498.1 M150.0,495.9 L154.5,497.8 M153.6,495.8 L158.1,497.8 M157.2,496.0 L161.6,498.1 M160.6,496.6 L164.9,498.7 M163.8,497.4 L168.2,499.6 M166.9,498.6 L171.2,500.9 M169.8,500.1 L174.1,502.5 " fill="none" stroke="#000" stroke-width="1.3" />
<path d="M169.5,513.6 L171.8,515.3 L174.0,517.3 L176.0,519.5 L177.8,522.0 L179.4,524.8 L180.7,527.8 L181.8,531.0 L182.7,534.4 L183.3,538.0 L183.7,541.8 L183.8,545.7 L183.6,549.8 L183.3,553.9 L182.6,558.2 L181.8,562.5 L180.6,566.9 L179.3,571.4 L177.7,575.8 L175.9,580.2 L173.9,584.6 L171.7,588.9 L169.2,593.1 L166.7,597.3 L163.9,601.3 L161.0,605.2 L157.9,608.9 L154.8,612.5 L151.5,615.8 L148.1,619.0 L144.7,621.9 L141.1,624.6 L137.6,627.0 L134.0,629.2 L130.4,631.1 L126.8,632.7 L123.3,634.1 L119.8,635.1 L116.3,635.8 L113.0,636.2 L109.7,636.3 L106.5,636.2 L103.5,635.6 L100.6,634.8 L97.8,633.7 L95.3,632.3 L92.9,630.6 L90.7,628.6 L88.7,626.4 L86.9,623.9 L85.3,621.1 L84.0,618.1 L82.9,614.9 L82.0,611.5 L81.4,607.9 L81.0,604.1 L80.9,600.2 L81.1,596.1 L81.5,592.0 L82.1,587.7 L83.0,583.4 L84.1,579.0 L85.4,574.6 L87.0,570.1 L88.8,565.7 L90.8,561.3 L93.1,557.0 L95.5,552.8 L98.1,548.6 L100.8,544.6 L103.7,540.7 L106.8,537.0 L109.9,533.4 L113.2,530.1 L116.6,526.9 L120.1,524.0 L123.6,521.3 L127.1,518.9 L130.7,516.7 L134.3,514.8 L137.9,513.2 L141.4,511.8 L144.9,510.8 L148.4,510.1 L151.8,509.7 L155.0,509.6 L158.2,509.8 L161.2,510.3 L164.1,511.1 L166.9,512.2 L169.5,513.6Z" fill="#fff" stroke="#000" stroke-width="1.43" />
<path d="M165.7,519.5 L169.3,517.6 L168.7,521.7 L172.2,520.2 L171.4,524.5 L174.8,523.3 L173.6,527.6 L177.0,526.9 L175.5,531.3 L178.8,531.0 L176.9,535.3 L180.1,535.4 L177.9,539.7 L180.9,540.2 L178.5,544.4 L181.3,545.3 L178.6,549.3 L181.2,550.7 L178.3,554.5 L180.6,556.3 L177.6,559.9 L179.6,562.1 L176.4,565.4 L178.1,567.9 L174.7,571.0 L176.2,573.9 L172.7,576.6 L173.8,579.8 L170.3,582.2 L171.1,585.6 L167.5,587.7 L167.9,591.3 L164.4,593.0 L164.5,596.9 L161.0,598.1 L160.7,602.2 L157.3,603.0 L156.7,607.2 L153.3,607.6 L152.4,611.9 L149.2,611.9 L147.9,616.2 L144.9,615.8 L143.3,620.2 L140.5,619.3 L138.6,623.6 L136.0,622.3 L133.8,626.6 L131.4,624.9 L129.0,629.0 L126.9,627.0 L124.2,630.9 L122.4,628.5 L119.5,632.3 L118.0,629.5 L114.9,633.1 L113.8,630.0 L110.5,633.3 L109.7,629.9 L106.4,632.9 L105.9,629.3 L102.4,631.9 L102.3,628.1 L98.8,630.4 L99.0,626.4 L95.4,628.3 L96.0,624.2 L92.5,625.7 L93.4,621.4 L89.9,622.6 L91.1,618.3 L87.7,619.0 L89.2,614.6 L86.0,615.0 L87.8,610.6 L84.7,610.5 L86.8,606.2 L83.8,605.7 L86.2,601.5 L83.4,600.6 L86.1,596.6 L83.5,595.2 L86.4,591.4 L84.1,589.6 L87.2,586.0 L85.1,583.8 L88.3,580.5 L86.6,578.0 L90.0,574.9 L88.6,572.0 L92.0,569.3 L90.9,566.1 L94.4,563.7 L93.7,560.3 L97.2,558.3 L96.8,554.6 L100.3,552.9 L100.2,549.0 L103.7,547.8 L104.0,543.7 L107.4,542.9 L108.1,538.7 L111.4,538.3 L112.3,534.0 L115.5,534.0 L116.8,529.7 L119.8,530.1 L121.4,525.8 L124.3,526.6 L126.2,522.3 L128.8,523.6 L130.9,519.3 L133.3,521.0 L135.7,516.9 L137.8,518.9 L140.5,515.0 L142.3,517.4 L145.2,513.6 L146.7,516.4 L149.8,512.8 L150.9,515.9 L154.2,512.6 L155.0,516.0 L158.4,513.0 L158.8,516.6 L162.3,514.0 L162.4,517.8 L165.9,515.5Z" fill="#fff" stroke="#000" stroke-width="1.82" />
<path d="M164.7,521.2 L166.8,522.7 L168.7,524.4 L170.4,526.4 L172.0,528.6 L173.3,531.0 L174.5,533.6 L175.5,536.4 L176.2,539.4 L176.8,542.5 L177.1,545.8 L177.2,549.2 L177.1,552.8 L176.7,556.4 L176.2,560.1 L175.4,563.9 L174.4,567.7 L173.2,571.6 L171.9,575.4 L170.3,579.3 L168.5,583.1 L166.6,586.8 L164.5,590.5 L162.2,594.1 L159.8,597.7 L157.3,601.0 L154.7,604.3 L151.9,607.4 L149.0,610.3 L146.1,613.1 L143.1,615.6 L140.0,618.0 L136.9,620.1 L133.8,622.0 L130.7,623.6 L127.5,625.0 L124.5,626.2 L121.4,627.1 L118.4,627.7 L115.5,628.1 L112.6,628.2 L109.8,628.0 L107.2,627.6 L104.7,626.9 L102.3,625.9 L100.0,624.7 L97.9,623.2 L96.0,621.5 L94.3,619.5 L92.7,617.3 L91.4,614.9 L90.2,612.3 L89.2,609.5 L88.5,606.5 L88.0,603.4 L87.6,600.1 L87.5,596.7 L87.7,593.2 L88.0,589.5 L88.5,585.8 L89.3,582.0 L90.3,578.2 L91.5,574.4 L92.8,570.5 L94.4,566.7 L96.2,562.8 L98.1,559.1 L100.2,555.4 L102.5,551.8 L104.9,548.3 L107.4,544.9 L110.1,541.6 L112.8,538.5 L115.7,535.6 L118.6,532.8 L121.6,530.3 L124.7,527.9 L127.8,525.8 L130.9,523.9 L134.0,522.3 L137.2,520.9 L140.3,519.7 L143.3,518.8 L146.3,518.2 L149.3,517.8 L152.1,517.7 L154.9,517.9 L157.5,518.3 L160.0,519.0 L162.4,520.0 L164.7,521.2Z" fill="none" stroke="#000" stroke-width="1.3" />
<path d="M162.8,524.2 L164.8,525.6 L166.6,527.2 L168.2,529.1 L169.7,531.1 L171.0,533.4 L172.1,535.8 L173.0,538.5 L173.7,541.3 L174.2,544.3 L174.5,547.4 L174.6,550.6 L174.5,553.9 L174.2,557.3 L173.7,560.8 L172.9,564.4 L172.0,568.0 L170.9,571.6 L169.6,575.3 L168.1,578.9 L166.5,582.5 L164.6,586.0 L162.7,589.5 L160.5,592.9 L158.3,596.2 L155.9,599.4 L153.4,602.5 L150.8,605.4 L148.1,608.2 L145.3,610.8 L142.5,613.2 L139.6,615.4 L136.7,617.4 L133.7,619.2 L130.8,620.7 L127.8,622.1 L124.9,623.2 L122.0,624.0 L119.2,624.6 L116.4,624.9 L113.7,625.0 L111.1,624.9 L108.6,624.5 L106.3,623.8 L104.0,622.9 L101.9,621.7 L99.9,620.3 L98.1,618.7 L96.5,616.9 L95.0,614.8 L93.7,612.5 L92.6,610.1 L91.7,607.4 L91.0,604.6 L90.5,601.7 L90.2,598.6 L90.1,595.3 L90.2,592.0 L90.5,588.6 L91.1,585.1 L91.8,581.5 L92.7,577.9 L93.8,574.3 L95.1,570.6 L96.6,567.0 L98.3,563.4 L100.1,559.9 L102.1,556.4 L104.2,553.0 L106.4,549.7 L108.8,546.5 L111.3,543.4 L113.9,540.5 L116.6,537.7 L119.4,535.1 L122.3,532.7 L125.1,530.5 L128.1,528.5 L131.0,526.7 L134.0,525.2 L136.9,523.8 L139.8,522.8 L142.7,521.9 L145.5,521.3 L148.3,521.0 L151.0,520.9 L153.6,521.0 L156.1,521.5 L158.5,522.1 L160.7,523.0 L162.8,524.2Z" fill="none" stroke="#000" stroke-width="1.56" />
<path d="M147.9,519.7 L148.7,520.3 L149.4,521.0 L150.1,521.7 L150.7,522.6 L151.2,523.5 L151.7,524.5 L152.0,525.6 L152.3,526.7 L152.5,527.9 L152.7,529.2 L152.7,530.5 L152.7,531.9 L152.5,533.3 L152.3,534.7 L152.0,536.2 L151.6,537.6 L151.2,539.1 L150.7,540.6 L150.0,542.1 L149.4,543.5 L148.6,545.0 L147.8,546.4 L146.9,547.8 L146.0,549.2 L145.0,550.5 L144.0,551.7 L143.0,552.9 L141.9,554.0 L140.7,555.1 L139.6,556.1 L138.4,557.0 L137.2,557.8 L136.0,558.5 L134.8,559.2 L133.6,559.7 L132.4,560.2 L131.2,560.5 L130.1,560.8 L128.9,560.9 L127.8,560.9 L126.8,560.9 L125.7,560.7 L124.8,560.4 L123.8,560.0 L123.0,559.6 L122.2,559.0 L121.4,558.3 L120.8,557.6 L120.2,556.7 L119.6,555.8 L119.2,554.8 L118.8,553.7 L118.5,552.6 L118.3,551.4 L118.2,550.1 L118.2,548.8 L118.2,547.4 L118.3,546.0 L118.6,544.6 L118.9,543.1 L119.2,541.7 L119.7,540.2 L120.2,538.7 L120.8,537.2 L121.5,535.7 L122.2,534.3 L123.0,532.9 L123.9,531.5 L124.8,530.1 L125.8,528.8 L126.8,527.6 L127.9,526.4 L129.0,525.3 L130.1,524.2 L131.3,523.2 L132.5,522.3 L133.7,521.5 L134.9,520.8 L136.1,520.1 L137.3,519.6 L138.5,519.1 L139.7,518.8 L140.8,518.5 L141.9,518.4 L143.0,518.4 L144.1,518.4 L145.1,518.6 L146.1,518.9 L147.0,519.2 L147.9,519.7Z" fill="#fff" stroke="#000" stroke-width="1.82" />
<path d="M141.9,547.8 L141.1,548.9 L140.2,549.9 L139.3,550.8 L138.3,551.7 L137.4,552.5 L136.4,553.2 L135.4,553.9 L134.4,554.5 L133.4,555.1 L132.4,555.5 L131.4,555.9 L130.4,556.2 L129.5,556.4 L128.5,556.5 L127.6,556.5 L126.7,556.5 L125.9,556.3 L125.1,556.1 L124.3,555.8 L123.6,555.4 L122.9,554.9 L122.3,554.4 L121.8,553.7 L121.3,553.0 L120.8,552.3 L120.5,551.4 L120.2,550.5 L119.9,549.6 L119.7,548.6 L119.6,547.5 L119.6,546.4 L119.6,545.3 L119.8,544.1 L119.9,543.0 L120.2,541.7 L120.5,540.5 L120.9,539.3 L121.3,538.1 L121.8,536.8 L122.4,535.6 L123.0,534.4 L123.7,533.2 L124.4,532.1 L125.1,531.0 L126.0,529.9 L126.8,528.8 L127.7,527.8 L128.6,526.9 L129.5,526.0 L130.5,525.2" fill="none" stroke="#000" stroke-width="1.3" />
<path d="M138.4,547.7 L137.7,548.4 L136.9,549.0 L136.2,549.6 L135.4,550.2 L134.7,550.7 L133.9,551.1 L133.1,551.5 L132.4,551.8 L131.6,552.1 L130.9,552.2 L130.1,552.4 L129.4,552.4 L128.7,552.4 L128.1,552.3 L127.4,552.2 L126.8,552.0 L126.3,551.7 L125.7,551.4 L125.2,551.0 L124.8,550.5 L124.4,550.0 L124.0,549.5 L123.7,548.9 L123.4,548.2 L123.2,547.5 L123.1,546.7 L123.0,545.9 L122.9,545.1 L122.9,544.3 L123.0,543.4 L123.1,542.5 L123.2,541.5 L123.5,540.6 L123.7,539.7 L124.0,538.7 L124.4,537.8 L124.8,536.8 L125.3,535.9 L125.8,535.0 L126.3,534.1 L126.9,533.2 L127.5,532.4 L128.1,531.5 L128.8,530.8 L129.5,530.0" fill="none" stroke="#000" stroke-width="1.3" />
<path d="M135.8,546.2 L135.3,546.6 L134.7,547.0 L134.2,547.3 L133.6,547.6 L133.1,547.8 L132.6,548.0 L132.0,548.2 L131.5,548.3 L131.0,548.3 L130.5,548.4 L130.1,548.3 L129.6,548.3 L129.2,548.1 L128.8,548.0 L128.4,547.8 L128.0,547.5 L127.7,547.2 L127.4,546.9 L127.1,546.5 L126.9,546.1 L126.7,545.6 L126.5,545.1 L126.4,544.6 L126.3,544.1 L126.2,543.5 L126.2,542.9 L126.2,542.3 L126.3,541.7 L126.4,541.1 L126.5,540.4 L126.7,539.8 L126.9,539.1 L127.1,538.4 L127.4,537.8 L127.7,537.1 L128.0,536.5 L128.4,535.8 L128.8,535.2 L129.2,534.6 L129.6,534.0" fill="none" stroke="#000" stroke-width="1.3" />
<path d="M134.2,543.6 L133.9,543.8 L133.6,543.9 L133.3,544.0 L133.0,544.1 L132.7,544.2 L132.4,544.3 L132.1,544.3 L131.9,544.3 L131.6,544.2 L131.3,544.2 L131.1,544.1 L130.9,544.0 L130.6,543.9 L130.5,543.7 L130.3,543.5 L130.1,543.3 L130.0,543.1 L129.8,542.9 L129.7,542.6 L129.7,542.3 L129.6,542.0 L129.5,541.7 L129.5,541.4 L129.5,541.0 L129.6,540.7 L129.6,540.3 L129.7,539.9 L129.7,539.6 L129.9,539.2 L130.0,538.8 L130.1,538.4 L130.3,538.0 L130.5,537.7 L130.7,537.3 L130.9,536.9" fill="none" stroke="#000" stroke-width="1.3" />
<path d="M167.9,559.5 L168.7,560.1 L169.5,560.7 L170.2,561.5 L170.8,562.3 L171.3,563.3 L171.7,564.3 L172.1,565.3 L172.4,566.5 L172.6,567.7 L172.7,569.0 L172.8,570.3 L172.7,571.6 L172.6,573.0 L172.4,574.5 L172.1,575.9 L171.7,577.4 L171.2,578.9 L170.7,580.4 L170.1,581.9 L169.4,583.3 L168.7,584.8 L167.9,586.2 L167.0,587.6 L166.1,588.9 L165.1,590.2 L164.1,591.5 L163.0,592.7 L161.9,593.8 L160.8,594.9 L159.6,595.9 L158.4,596.8 L157.2,597.6 L156.0,598.3 L154.8,598.9 L153.6,599.5 L152.4,599.9 L151.3,600.3 L150.1,600.5 L149.0,600.7 L147.9,600.7 L146.8,600.6 L145.8,600.5 L144.8,600.2 L143.9,599.8 L143.0,599.4 L142.2,598.8 L141.5,598.1 L140.8,597.4 L140.2,596.5 L139.7,595.6 L139.2,594.6 L138.9,593.5 L138.6,592.4 L138.4,591.2 L138.3,589.9 L138.2,588.6 L138.3,587.2 L138.4,585.8 L138.6,584.4 L138.9,582.9 L139.3,581.4 L139.7,580.0 L140.3,578.5 L140.9,577.0 L141.6,575.5 L142.3,574.1 L143.1,572.7 L144.0,571.3 L144.9,569.9 L145.9,568.6 L146.9,567.4 L148.0,566.2 L149.1,565.0 L150.2,564.0 L151.4,563.0 L152.5,562.1 L153.7,561.3 L154.9,560.5 L156.1,559.9 L157.3,559.4 L158.5,558.9 L159.7,558.6 L160.9,558.3 L162.0,558.2 L163.1,558.1 L164.2,558.2 L165.2,558.4 L166.2,558.6 L167.1,559.0 L167.9,559.5Z" fill="#fff" stroke="#000" stroke-width="1.82" />
<path d="M162.0,587.6 L161.1,588.6 L160.2,589.6 L159.3,590.6 L158.4,591.4 L157.4,592.3 L156.4,593.0 L155.4,593.7 L154.4,594.3 L153.4,594.8 L152.5,595.3 L151.5,595.6 L150.5,595.9 L149.5,596.1 L148.6,596.3 L147.7,596.3 L146.8,596.2 L145.9,596.1 L145.1,595.9 L144.4,595.6 L143.7,595.2 L143.0,594.7 L142.4,594.1 L141.8,593.5 L141.3,592.8 L140.9,592.0 L140.5,591.2 L140.2,590.3 L140.0,589.4 L139.8,588.4 L139.7,587.3 L139.7,586.2 L139.7,585.1 L139.8,583.9 L140.0,582.7 L140.2,581.5 L140.5,580.3 L140.9,579.1 L141.4,577.8 L141.9,576.6 L142.4,575.4 L143.0,574.2 L143.7,573.0 L144.4,571.8 L145.2,570.7 L146.0,569.6 L146.9,568.6 L147.7,567.6 L148.7,566.7 L149.6,565.8 L150.6,565.0" fill="none" stroke="#000" stroke-width="1.3" />
<path d="M158.4,587.5 L157.7,588.2 L157.0,588.8 L156.2,589.4 L155.5,590.0 L154.7,590.5 L154.0,590.9 L153.2,591.3 L152.4,591.6 L151.7,591.8 L150.9,592.0 L150.2,592.1 L149.5,592.2 L148.8,592.2 L148.1,592.1 L147.5,592.0 L146.9,591.8 L146.3,591.5 L145.8,591.2 L145.3,590.8 L144.8,590.3 L144.4,589.8 L144.1,589.2 L143.8,588.6 L143.5,588.0 L143.3,587.3 L143.1,586.5 L143.0,585.7 L143.0,584.9 L143.0,584.0 L143.0,583.1 L143.1,582.2 L143.3,581.3 L143.5,580.4 L143.8,579.4 L144.1,578.5 L144.5,577.5 L144.9,576.6 L145.3,575.7 L145.8,574.8 L146.4,573.9 L146.9,573.0 L147.5,572.1 L148.2,571.3 L148.8,570.5 L149.5,569.8" fill="none" stroke="#000" stroke-width="1.3" />
<path d="M155.8,586.0 L155.3,586.4 L154.8,586.7 L154.2,587.1 L153.7,587.3 L153.2,587.6 L152.6,587.8 L152.1,587.9 L151.6,588.1 L151.1,588.1 L150.6,588.1 L150.1,588.1 L149.7,588.0 L149.2,587.9 L148.8,587.7 L148.4,587.5 L148.1,587.3 L147.7,587.0 L147.4,586.6 L147.2,586.3 L146.9,585.8 L146.7,585.4 L146.6,584.9 L146.4,584.4 L146.3,583.9 L146.3,583.3 L146.3,582.7 L146.3,582.1 L146.4,581.5 L146.4,580.8 L146.6,580.2 L146.7,579.5 L147.0,578.9 L147.2,578.2 L147.5,577.5 L147.8,576.9 L148.1,576.2 L148.5,575.6 L148.8,575.0 L149.3,574.4 L149.7,573.8" fill="none" stroke="#000" stroke-width="1.3" />
<path d="M154.3,583.4 L154.0,583.5 L153.7,583.7 L153.4,583.8 L153.1,583.9 L152.8,584.0 L152.5,584.0 L152.2,584.1 L151.9,584.1 L151.6,584.0 L151.4,584.0 L151.1,583.9 L150.9,583.8 L150.7,583.6 L150.5,583.5 L150.3,583.3 L150.2,583.1 L150.0,582.9 L149.9,582.6 L149.8,582.4 L149.7,582.1 L149.6,581.8 L149.6,581.5 L149.6,581.1 L149.6,580.8 L149.6,580.4 L149.7,580.1 L149.7,579.7 L149.8,579.3 L149.9,578.9 L150.0,578.6 L150.2,578.2 L150.3,577.8 L150.5,577.4 L150.7,577.1 L150.9,576.7" fill="none" stroke="#000" stroke-width="1.3" />
<path d="M118.6,579.9 L119.4,580.4 L120.1,581.1 L120.8,581.9 L121.4,582.7 L121.9,583.6 L122.4,584.6 L122.8,585.7 L123.0,586.9 L123.3,588.1 L123.4,589.3 L123.4,590.6 L123.4,592.0 L123.2,593.4 L123.0,594.8 L122.7,596.3 L122.4,597.8 L121.9,599.3 L121.4,600.7 L120.8,602.2 L120.1,603.7 L119.3,605.1 L118.5,606.6 L117.7,608.0 L116.7,609.3 L115.8,610.6 L114.7,611.9 L113.7,613.1 L112.6,614.2 L111.4,615.2 L110.3,616.2 L109.1,617.1 L107.9,618.0 L106.7,618.7 L105.5,619.3 L104.3,619.9 L103.1,620.3 L101.9,620.7 L100.8,620.9 L99.6,621.0 L98.5,621.1 L97.5,621.0 L96.5,620.8 L95.5,620.6 L94.6,620.2 L93.7,619.7 L92.9,619.2 L92.2,618.5 L91.5,617.7 L90.9,616.9 L90.4,616.0 L89.9,615.0 L89.5,613.9 L89.3,612.7 L89.0,611.5 L88.9,610.3 L88.9,608.9 L88.9,607.6 L89.1,606.2 L89.3,604.7 L89.6,603.3 L89.9,601.8 L90.4,600.3 L90.9,598.8 L91.5,597.4 L92.2,595.9 L93.0,594.4 L93.8,593.0 L94.6,591.6 L95.6,590.3 L96.5,589.0 L97.6,587.7 L98.6,586.5 L99.7,585.4 L100.9,584.3 L102.0,583.4 L103.2,582.5 L104.4,581.6 L105.6,580.9 L106.8,580.3 L108.0,579.7 L109.2,579.3 L110.4,578.9 L111.5,578.7 L112.7,578.5 L113.8,578.5 L114.8,578.6 L115.8,578.7 L116.8,579.0 L117.7,579.4 L118.6,579.9Z" fill="#fff" stroke="#000" stroke-width="1.82" />
<path d="M112.6,608.0 L111.8,609.0 L110.9,610.0 L110.0,610.9 L109.0,611.8 L108.1,612.6 L107.1,613.4 L106.1,614.1 L105.1,614.7 L104.1,615.2 L103.1,615.6 L102.1,616.0 L101.1,616.3 L100.2,616.5 L99.2,616.6 L98.3,616.7 L97.5,616.6 L96.6,616.5 L95.8,616.2 L95.0,615.9 L94.3,615.5 L93.6,615.1 L93.0,614.5 L92.5,613.9 L92.0,613.2 L91.5,612.4 L91.2,611.6 L90.9,610.7 L90.6,609.7 L90.5,608.7 L90.4,607.7 L90.3,606.6 L90.4,605.5 L90.5,604.3 L90.6,603.1 L90.9,601.9 L91.2,600.7 L91.6,599.4 L92.0,598.2 L92.5,597.0 L93.1,595.8 L93.7,594.6 L94.4,593.4 L95.1,592.2 L95.9,591.1 L96.7,590.0 L97.5,589.0 L98.4,588.0 L99.3,587.0 L100.3,586.2 L101.2,585.4" fill="none" stroke="#000" stroke-width="1.3" />
<path d="M109.1,607.8 L108.4,608.5 L107.7,609.2 L106.9,609.8 L106.2,610.3 L105.4,610.8 L104.6,611.3 L103.8,611.6 L103.1,612.0 L102.3,612.2 L101.6,612.4 L100.9,612.5 L100.1,612.6 L99.4,612.6 L98.8,612.5 L98.1,612.3 L97.5,612.1 L97.0,611.9 L96.4,611.5 L95.9,611.1 L95.5,610.7 L95.1,610.2 L94.7,609.6 L94.4,609.0 L94.2,608.3 L93.9,607.6 L93.8,606.9 L93.7,606.1 L93.6,605.3 L93.6,604.4 L93.7,603.5 L93.8,602.6 L94.0,601.7 L94.2,600.8 L94.4,599.8 L94.8,598.9 L95.1,597.9 L95.5,597.0 L96.0,596.0 L96.5,595.1 L97.0,594.2 L97.6,593.3 L98.2,592.5 L98.8,591.7 L99.5,590.9 L100.2,590.2" fill="none" stroke="#000" stroke-width="1.3" />
<path d="M106.5,606.3 L106.0,606.7 L105.4,607.1 L104.9,607.4 L104.4,607.7 L103.8,608.0 L103.3,608.2 L102.8,608.3 L102.2,608.4 L101.7,608.5 L101.2,608.5 L100.8,608.5 L100.3,608.4 L99.9,608.3 L99.5,608.1 L99.1,607.9 L98.7,607.6 L98.4,607.3 L98.1,607.0 L97.8,606.6 L97.6,606.2 L97.4,605.8 L97.2,605.3 L97.1,604.8 L97.0,604.2 L97.0,603.7 L96.9,603.1 L97.0,602.5 L97.0,601.8 L97.1,601.2 L97.2,600.6 L97.4,599.9 L97.6,599.2 L97.8,598.6 L98.1,597.9 L98.4,597.3 L98.8,596.6 L99.1,596.0 L99.5,595.3 L99.9,594.7 L100.4,594.2" fill="none" stroke="#000" stroke-width="1.3" />
<path d="M104.9,603.7 L104.6,603.9 L104.3,604.1 L104.0,604.2 L103.7,604.3 L103.4,604.4 L103.1,604.4 L102.8,604.4 L102.6,604.4 L102.3,604.4 L102.0,604.3 L101.8,604.3 L101.6,604.1 L101.4,604.0 L101.2,603.9 L101.0,603.7 L100.8,603.5 L100.7,603.2 L100.6,603.0 L100.5,602.7 L100.4,602.4 L100.3,602.1 L100.3,601.8 L100.2,601.5 L100.2,601.2 L100.3,600.8 L100.3,600.4 L100.4,600.1 L100.5,599.7 L100.6,599.3 L100.7,598.9 L100.8,598.6 L101.0,598.2 L101.2,597.8 L101.4,597.4 L101.6,597.1" fill="none" stroke="#000" stroke-width="1.3" />
<path d="M147.6,564.5 L148.4,565.0 L149.0,565.6 L149.6,566.3 L150.2,567.0 L150.6,567.8 L151.0,568.7 L151.4,569.7 L151.6,570.7 L151.8,571.8 L151.9,572.9 L151.9,574.1 L151.9,575.3 L151.8,576.6 L151.6,577.9 L151.3,579.2 L151.0,580.5 L150.6,581.8 L150.1,583.1 L149.6,584.5 L149.0,585.8 L148.3,587.1 L147.6,588.3 L146.8,589.6 L146.0,590.8 L145.1,592.0 L144.2,593.1 L143.2,594.1 L142.2,595.2 L141.2,596.1 L140.2,597.0 L139.1,597.8 L138.1,598.5 L137.0,599.2 L135.9,599.7 L134.9,600.2 L133.8,600.6 L132.7,600.9 L131.7,601.2 L130.7,601.3 L129.7,601.3 L128.8,601.3 L127.8,601.1 L127.0,600.9 L126.2,600.5 L125.4,600.1 L112.2,592.9 L111.5,592.4 L110.8,591.8 L110.2,591.2 L109.7,590.4 L109.2,589.6 L108.8,588.7 L108.5,587.7 L108.2,586.7 L108.0,585.6 L107.9,584.5 L107.9,583.3 L107.9,582.1 L108.1,580.8 L108.2,579.6 L108.5,578.3 L108.8,576.9 L109.3,575.6 L109.7,574.3 L110.3,573.0 L110.9,571.7 L111.5,570.4 L112.3,569.1 L113.0,567.8 L113.9,566.6 L114.7,565.5 L115.7,564.4 L116.6,563.3 L117.6,562.3 L118.6,561.3 L119.6,560.5 L120.7,559.6 L121.8,558.9 L122.8,558.3 L123.9,557.7 L125.0,557.2 L126.0,556.8 L127.1,556.5 L128.1,556.3 L129.1,556.2 L130.1,556.1 L131.1,556.2 L132.0,556.3 L132.9,556.6 L133.7,556.9 L134.5,557.3Z" fill="#fff" stroke="#000" stroke-width="1.69" />
<path d="M147.6,564.5 L148.4,565.0 L149.0,565.6 L149.6,566.3 L150.2,567.0 L150.6,567.8 L151.0,568.7 L151.4,569.7 L151.6,570.7 L151.8,571.8 L151.9,572.9 L151.9,574.1 L151.9,575.3 L151.8,576.6 L151.6,577.9 L151.3,579.2 L151.0,580.5 L150.6,581.8 L150.1,583.1 L149.6,584.5 L149.0,585.8 L148.3,587.1 L147.6,588.3 L146.8,589.6 L146.0,590.8 L145.1,592.0 L144.2,593.1 L143.2,594.1 L142.2,595.2 L141.2,596.1 L140.2,597.0 L139.1,597.8 L138.1,598.5 L137.0,599.2 L135.9,599.7 L134.9,600.2 L133.8,600.6 L132.7,600.9 L131.7,601.2 L130.7,601.3 L129.7,601.3 L128.8,601.3 L127.8,601.1 L127.0,600.9 L126.2,600.5 L125.4,600.1 L124.7,599.6 L124.0,599.0 L123.4,598.3 L122.9,597.6 L122.4,596.7 L122.0,595.8 L121.7,594.9 L121.4,593.9 L121.2,592.8 L121.1,591.6 L121.1,590.5 L121.1,589.2 L121.2,588.0 L121.4,586.7 L121.7,585.4 L122.0,584.1 L122.4,582.8 L122.9,581.4 L123.4,580.1 L124.1,578.8 L124.7,577.5 L125.4,576.2 L126.2,575.0 L127.0,573.8 L127.9,572.6 L128.8,571.5 L129.8,570.4 L130.8,569.4 L131.8,568.5 L132.8,567.6 L133.9,566.8 L134.9,566.1 L136.0,565.4 L137.1,564.8 L138.2,564.4 L139.2,564.0 L140.3,563.7 L141.3,563.4 L142.3,563.3 L143.3,563.3 L144.3,563.3 L145.2,563.5 L146.0,563.7 L146.9,564.1 L147.6,564.5Z" fill="#fff" stroke="#000" stroke-width="1.69" />
<path d="M121.7,593.1 L134.9,600.2 M119.8,593.7 L133.0,600.9 M118.0,594.1 L131.2,601.2 M116.3,594.1 L129.5,601.3 M114.7,593.9 L127.8,601.1 M113.2,593.5 L126.4,600.6 M111.8,592.7 L125.0,599.9 M110.7,591.7 L123.8,598.8 M109.7,590.4 L122.9,597.6 M108.9,588.9 L122.1,596.1 M108.3,587.2 L121.5,594.4 M108.0,585.3 L121.2,592.5 M107.9,583.3 L121.1,590.5 M108.0,581.2 L121.2,588.3 M108.4,578.9 L121.6,586.1 M108.9,576.6 L122.1,583.8 M109.7,574.3 L122.9,581.4 M110.7,572.0 L123.9,579.1 M111.9,569.7 L125.1,576.9 M113.2,567.5 L126.4,574.7 M114.7,565.5 L127.9,572.6 M116.4,563.5 L129.5,570.7 M118.1,561.8 L131.3,569.0 M119.9,560.2 L133.1,567.4 M121.8,558.9 L134.9,566.1 M123.6,557.8 L136.8,565.0 M125.5,557.0 L138.7,564.1 M127.4,556.4 L140.5,563.6 M129.1,556.2 L142.3,563.3 M130.8,556.2 L144.0,563.3 M132.4,556.4 L145.6,563.6 M133.9,557.0 L147.1,564.2 M135.2,557.8 L148.4,565.0 M136.3,558.9 L149.5,566.1 " fill="none" stroke="#000" stroke-width="1.62" />
<path d="M144.5,569.6 L145.0,569.9 L145.4,570.4 L145.9,570.8 L146.3,571.4 L146.6,572.0 L146.9,572.6 L147.1,573.3 L147.3,574.0 L147.4,574.8 L147.5,575.6 L147.5,576.5 L147.5,577.3 L147.4,578.2 L147.3,579.1 L147.1,580.1 L146.9,581.0 L146.6,582.0 L146.2,582.9 L145.8,583.8 L145.4,584.8 L144.9,585.7 L144.4,586.6 L143.9,587.5 L143.3,588.4 L142.6,589.2 L142.0,590.0 L141.3,590.8 L140.6,591.5 L139.9,592.2 L139.1,592.8 L138.4,593.4 L137.6,593.9 L136.9,594.4 L136.1,594.8 L135.3,595.1 L134.6,595.4 L133.8,595.6 L133.1,595.8 L132.4,595.9 L131.7,595.9 L131.0,595.8 L130.3,595.7 L129.7,595.6 L129.1,595.3 L128.6,595.0 L128.0,594.7 L127.6,594.2 L127.1,593.7 L126.8,593.2 L126.4,592.6 L126.1,592.0 L125.9,591.3 L125.7,590.6 L125.6,589.8 L125.5,589.0 L125.5,588.1 L125.5,587.3 L125.6,586.4 L125.7,585.5 L125.9,584.5 L126.2,583.6 L126.5,582.6 L126.8,581.7 L127.2,580.7 L127.6,579.8 L128.1,578.9 L128.6,578.0 L129.2,577.1 L129.7,576.2 L130.4,575.4 L131.0,574.6 L131.7,573.8 L132.4,573.1 L133.1,572.4 L133.9,571.8 L134.6,571.2 L135.4,570.7 L136.2,570.2 L136.9,569.8 L137.7,569.5 L138.5,569.2 L139.2,569.0 L139.9,568.8 L140.7,568.7 L141.4,568.7 L142.0,568.8 L142.7,568.9 L143.3,569.0 L143.9,569.3 L144.5,569.6Z" fill="#fff" stroke="#000" stroke-width="1.56" />
<path d="M145.0,574.4 L145.4,574.7 L145.7,575.0 L146.0,575.3 L146.3,575.7 L146.5,576.2 L146.7,576.6 L146.9,577.1 L147.1,577.7 L147.2,578.2 L147.2,578.8 L147.2,579.4 L147.2,580.1 L147.1,580.7 L147.0,581.4 L146.9,582.1 L146.7,582.8 L146.5,583.5 L146.3,584.2 L146.0,584.9 L145.7,585.6 L145.3,586.2 L144.9,586.9 L144.5,587.5 L144.1,588.2 L143.6,588.8 L143.2,589.4 L142.7,589.9 L142.2,590.5 L141.6,591.0 L141.1,591.4 L140.5,591.8 L140.0,592.2 L139.4,592.6 L138.8,592.9 L138.3,593.1 L137.7,593.3 L137.2,593.5 L136.6,593.6 L136.1,593.7 L135.6,593.7 L135.1,593.7 L134.6,593.6 L134.2,593.5 L133.7,593.3 L133.3,593.1 L132.9,592.8 L132.6,592.5 L132.3,592.1 L132.0,591.7 L131.8,591.3 L131.5,590.8 L131.4,590.3 L131.2,589.8 L131.1,589.2 L131.1,588.6 L131.1,588.0 L131.1,587.4 L131.1,586.7 L131.2,586.0 L131.4,585.4 L131.6,584.7 L131.8,584.0 L132.0,583.3 L132.3,582.6 L132.6,581.9 L133.0,581.2 L133.3,580.6 L133.8,579.9 L134.2,579.3 L134.6,578.7 L135.1,578.1 L135.6,577.5 L136.1,577.0 L136.7,576.5 L137.2,576.0 L137.8,575.6 L138.3,575.2 L138.9,574.9 L139.5,574.6 L140.0,574.3 L140.6,574.1 L141.1,574.0 L141.7,573.8 L142.2,573.8 L142.7,573.8 L143.2,573.8 L143.7,573.9 L144.1,574.0 L144.6,574.2 L145.0,574.4Z" fill="none" stroke="#000" stroke-width="1.43" />
<path d="M142.9,577.8 L143.1,578.0 L143.3,578.2 L143.5,578.4 L143.7,578.6 L143.8,578.9 L144.0,579.2 L144.1,579.5 L144.2,579.9 L144.2,580.2 L144.3,580.6 L144.3,581.0 L144.3,581.4 L144.2,581.8 L144.2,582.3 L144.1,582.7 L144.0,583.1 L143.8,583.6 L143.7,584.0 L143.5,584.4 L143.3,584.9 L143.1,585.3 L142.8,585.7 L142.6,586.2 L142.3,586.6 L142.0,586.9 L141.7,587.3 L141.4,587.7 L141.1,588.0 L140.7,588.3 L140.4,588.6 L140.0,588.9 L139.7,589.1 L139.3,589.4 L139.0,589.5 L138.6,589.7 L138.2,589.8 L137.9,589.9 L137.5,590.0 L137.2,590.1 L136.9,590.1 L136.6,590.0 L136.3,590.0 L136.0,589.9 L135.7,589.8 L135.4,589.7 L135.2,589.5 L135.0,589.3 L134.8,589.1 L134.6,588.8 L134.4,588.5 L134.3,588.2 L134.2,587.9 L134.1,587.6 L134.1,587.2 L134.0,586.8 L134.0,586.5 L134.0,586.0 L134.1,585.6 L134.1,585.2 L134.2,584.8 L134.3,584.3 L134.5,583.9 L134.6,583.4 L134.8,583.0 L135.0,582.6 L135.2,582.1 L135.5,581.7 L135.7,581.3 L136.0,580.9 L136.3,580.5 L136.6,580.1 L136.9,579.8 L137.2,579.4 L137.6,579.1 L137.9,578.8 L138.3,578.6 L138.6,578.3 L139.0,578.1 L139.3,577.9 L139.7,577.7 L140.1,577.6 L140.4,577.5 L140.7,577.4 L141.1,577.4 L141.4,577.4 L141.7,577.4 L142.0,577.5 L142.3,577.5 L142.6,577.6 L142.9,577.8Z" fill="none" stroke="#000" stroke-width="1.43" />
<path d="M160.4,642.7 L192.8,584.3 L247.3,612.8 L245.0,619.0" fill="none" stroke="#000" stroke-width="1.3" stroke-dasharray="11 3 2 3"/>
<path d="M160.4,642.7 L190.0,659.0" fill="none" stroke="#000" stroke-width="1.3" stroke-dasharray="11 3 2 3"/>
<path d="M235.2,610.9 L235.8,611.3 L236.4,611.8 L236.9,612.3 L237.3,612.9 L237.7,613.6 L238.1,614.3 L238.4,615.1 L238.6,615.9 L238.8,616.8 L238.9,617.7 L239.0,618.7 L239.0,619.7 L238.9,620.7 L238.8,621.7 L238.6,622.8 L238.4,623.9 L238.1,625.0 L237.8,626.1 L237.4,627.2 L236.9,628.3 L236.4,629.4 L235.8,630.4 L235.2,631.5 L234.6,632.5 L233.9,633.5 L233.2,634.4 L232.4,635.3 L231.7,636.2 L230.9,637.0 L230.0,637.7 L229.2,638.4 L228.3,639.0 L227.5,639.6 L226.6,640.1 L225.8,640.5 L224.9,640.9 L224.0,641.2 L223.2,641.4 L222.4,641.5 L221.6,641.6 L220.8,641.5 L220.0,641.4 L219.3,641.3 L218.6,641.0 L218.0,640.7 L184.2,623.9 L183.6,623.5 L183.1,623.1 L182.6,622.5 L182.1,621.9 L181.7,621.3 L181.3,620.5 L181.0,619.8 L180.8,618.9 L180.6,618.1 L180.5,617.1 L180.4,616.2 L180.4,615.2 L180.5,614.1 L180.6,613.1 L180.8,612.0 L181.0,610.9 L181.3,609.8 L181.7,608.7 L182.1,607.6 L182.5,606.5 L183.0,605.5 L183.6,604.4 L184.2,603.4 L184.8,602.3 L185.5,601.4 L186.2,600.4 L187.0,599.5 L187.8,598.7 L188.6,597.9 L189.4,597.1 L190.2,596.4 L191.1,595.8 L191.9,595.2 L192.8,594.7 L193.7,594.3 L194.5,594.0 L195.4,593.7 L196.2,593.5 L197.1,593.3 L197.9,593.3 L198.6,593.3 L199.4,593.4 L200.1,593.6 L200.8,593.8 L201.4,594.1Z" fill="#fff" stroke="#000" stroke-width="1.82" />
<path d="M235.2,610.9 L235.8,611.3 L236.4,611.8 L236.9,612.3 L237.3,612.9 L237.7,613.6 L238.1,614.3 L238.4,615.1 L238.6,615.9 L238.8,616.8 L238.9,617.7 L239.0,618.7 L239.0,619.7 L238.9,620.7 L238.8,621.7 L238.6,622.8 L238.4,623.9 L238.1,625.0 L237.8,626.1 L237.4,627.2 L236.9,628.3 L236.4,629.4 L235.8,630.4 L235.2,631.5 L234.6,632.5 L233.9,633.5 L233.2,634.4 L232.4,635.3 L231.7,636.2 L230.9,637.0 L230.0,637.7 L229.2,638.4 L228.3,639.0 L227.5,639.6 L226.6,640.1 L225.8,640.5 L224.9,640.9 L224.0,641.2 L223.2,641.4 L222.4,641.5 L221.6,641.6 L220.8,641.5 L220.0,641.4 L219.3,641.3 L218.6,641.0 L218.0,640.7 L217.4,640.3 L216.8,639.8 L216.3,639.3 L215.9,638.7 L215.5,638.0 L215.1,637.3 L214.8,636.5 L214.6,635.7 L214.4,634.8 L214.3,633.9 L214.2,632.9 L214.2,631.9 L214.3,630.9 L214.4,629.9 L214.6,628.8 L214.8,627.7 L215.1,626.6 L215.4,625.5 L215.8,624.4 L216.3,623.3 L216.8,622.2 L217.4,621.2 L218.0,620.1 L218.6,619.1 L219.3,618.1 L220.0,617.2 L220.8,616.3 L221.5,615.4 L222.3,614.6 L223.2,613.9 L224.0,613.2 L224.9,612.6 L225.7,612.0 L226.6,611.5 L227.4,611.1 L228.3,610.7 L229.2,610.4 L230.0,610.2 L230.8,610.1 L231.6,610.0 L232.4,610.1 L233.2,610.2 L233.9,610.3 L234.6,610.6 L235.2,610.9Z" fill="#fff" stroke="#000" stroke-width="1.82" />
<path d="M233.8,613.4 L234.3,613.7 L234.7,614.1 L235.1,614.6 L235.5,615.1 L235.9,615.6 L236.2,616.2 L236.4,616.9 L236.6,617.6 L236.8,618.3 L236.9,619.1 L236.9,619.9 L236.9,620.7 L236.9,621.6 L236.8,622.4 L236.6,623.3 L236.4,624.2 L236.2,625.1 L235.9,626.1 L235.5,627.0 L235.2,627.9 L234.7,628.8 L234.3,629.7 L233.8,630.5 L233.2,631.4 L232.7,632.2 L232.1,633.0 L231.5,633.7 L230.8,634.4 L230.1,635.1 L229.5,635.7 L228.8,636.3 L228.1,636.8 L227.3,637.3 L226.6,637.7 L225.9,638.0 L225.2,638.3 L224.5,638.6 L223.8,638.7 L223.1,638.9 L222.4,638.9 L221.8,638.9 L221.2,638.8 L220.6,638.7 L220.0,638.5 L219.4,638.2 L218.9,637.9 L218.5,637.5 L218.1,637.0 L217.7,636.5 L217.3,636.0 L217.0,635.4 L216.8,634.7 L216.6,634.0 L216.4,633.3 L216.3,632.5 L216.3,631.7 L216.3,630.9 L216.3,630.0 L216.4,629.2 L216.6,628.3 L216.8,627.4 L217.0,626.5 L217.3,625.5 L217.7,624.6 L218.0,623.7 L218.5,622.8 L218.9,621.9 L219.4,621.1 L220.0,620.2 L220.5,619.4 L221.1,618.6 L221.7,617.9 L222.4,617.2 L223.1,616.5 L223.7,615.9 L224.4,615.3 L225.1,614.8 L225.9,614.3 L226.6,613.9 L227.3,613.6 L228.0,613.3 L228.7,613.0 L229.4,612.9 L230.1,612.7 L230.8,612.7 L231.4,612.7 L232.0,612.8 L232.6,612.9 L233.2,613.1 L233.8,613.4Z" fill="none" stroke="#000" stroke-width="1.56" />
<path d="M231.2,614.3 L231.7,614.6 L232.1,615.0 L232.4,615.3 L232.8,615.8 L233.1,616.3 L233.3,616.8 L233.5,617.3 L233.7,617.9 L233.8,618.6 L233.9,619.2 L234.0,619.9 L234.0,620.6 L233.9,621.3 L233.8,622.1 L233.7,622.9 L233.5,623.6 L233.3,624.4 L233.1,625.2 L232.8,626.0 L232.5,626.8 L232.1,627.6 L231.7,628.3 L231.3,629.1 L230.8,629.8 L230.3,630.5 L229.8,631.2 L229.3,631.8 L228.7,632.4 L228.1,633.0 L227.6,633.5 L227.0,634.0 L226.4,634.5 L225.7,634.9 L225.1,635.2 L224.5,635.5 L223.9,635.8 L223.3,636.0 L222.7,636.1 L222.1,636.2 L221.5,636.3 L220.9,636.3 L220.4,636.2 L219.9,636.1 L219.4,635.9 L218.9,635.7 L218.5,635.4 L218.1,635.0 L217.8,634.7 L217.4,634.2 L217.1,633.7 L216.9,633.2 L216.7,632.7 L216.5,632.1 L216.4,631.4 L216.3,630.8 L216.2,630.1 L216.2,629.4 L216.3,628.7 L216.4,627.9 L216.5,627.1 L216.7,626.4 L216.9,625.6 L217.1,624.8 L217.4,624.0 L217.7,623.2 L218.1,622.4 L218.5,621.7 L218.9,620.9 L219.4,620.2 L219.9,619.5 L220.4,618.8 L220.9,618.2 L221.5,617.6 L222.1,617.0 L222.6,616.5 L223.2,616.0 L223.8,615.5 L224.5,615.1 L225.1,614.8 L225.7,614.5 L226.3,614.2 L226.9,614.0 L227.5,613.9 L228.1,613.8 L228.7,613.7 L229.3,613.7 L229.8,613.8 L230.3,613.9 L230.8,614.1 L231.2,614.3Z" fill="none" stroke="#000" stroke-width="1.3" />
<path d="M197.0,598.0 L229.0,613.0" fill="none" stroke="#000" stroke-width="1.17" />
<path d="M199.5,596.0 L231.5,611.0" fill="none" stroke="#000" stroke-width="1.17" />
<path d="M229.6,543.9 L232.2,545.7 L234.5,547.7 L236.6,550.0 L238.5,552.6 L240.2,555.5 L241.6,558.6 L242.8,562.0 L243.7,565.6 L244.4,569.3 L244.8,573.3 L245.0,577.4 L244.9,581.7 L244.5,586.0 L243.9,590.5 L243.1,595.1 L241.9,599.7 L240.6,604.4 L239.0,609.1 L237.1,613.7 L235.1,618.3 L232.8,622.9 L230.3,627.4 L227.7,631.8 L224.8,636.1 L221.8,640.2 L218.7,644.2 L215.4,648.0 L212.0,651.6 L208.5,654.9 L204.9,658.1 L201.3,660.9 L197.6,663.6 L193.9,665.9 L190.1,668.0 L186.4,669.7 L182.7,671.2 L179.0,672.3 L175.5,673.2 L171.9,673.7 L168.5,673.8 L165.2,673.7 L162.0,673.2 L159.0,672.4 L156.1,671.3 L153.4,669.9 L150.8,668.1 L148.5,666.1 L146.4,663.8 L144.5,661.2 L142.8,658.3 L141.4,655.2 L140.2,651.8 L139.3,648.2 L138.6,644.5 L138.2,640.5 L138.0,636.4 L138.1,632.1 L138.5,627.8 L139.1,623.3 L139.9,618.7 L141.1,614.1 L142.4,609.4 L144.0,604.7 L145.9,600.1 L147.9,595.5 L150.2,590.9 L152.7,586.4 L155.3,582.0 L158.2,577.7 L161.2,573.6 L164.3,569.6 L167.6,565.8 L171.0,562.2 L174.5,558.9 L178.1,555.7 L181.7,552.9 L185.4,550.2 L189.1,547.9 L192.9,545.8 L196.6,544.1 L200.3,542.6 L204.0,541.5 L207.5,540.6 L211.1,540.1 L214.5,540.0 L217.8,540.1 L221.0,540.6 L224.0,541.4 L226.9,542.5 L229.6,543.9Z" fill="none" stroke="#000" stroke-width="4.16" />
<path d="M258.3,620.0 L259.0,620.5 L259.7,621.0 L260.3,621.7 L260.9,622.4 L261.3,623.2 L261.8,624.0 L262.1,625.0 L262.4,626.0 L262.6,627.0 L262.8,628.1 L262.8,629.3 L262.8,630.4 L262.8,631.7 L262.6,632.9 L262.4,634.2 L262.1,635.5 L261.8,636.8 L261.4,638.1 L260.9,639.4 L260.3,640.7 L259.7,642.0 L259.1,643.3 L258.4,644.5 L257.6,645.7 L256.8,646.9 L255.9,648.0 L255.0,649.1 L254.1,650.1 L253.1,651.1 L252.2,652.0 L251.2,652.8 L250.2,653.5 L249.1,654.2 L248.1,654.8 L247.1,655.3 L246.0,655.7 L245.0,656.1 L244.0,656.3 L243.0,656.5 L242.1,656.5 L241.1,656.5 L240.3,656.4 L239.4,656.2 L238.6,655.9 L237.8,655.5 L237.1,655.0 L236.4,654.5 L235.8,653.8 L235.3,653.1 L234.8,652.3 L234.4,651.5 L234.0,650.5 L233.7,649.5 L233.5,648.5 L233.4,647.4 L233.3,646.2 L233.3,645.1 L233.4,643.8 L233.5,642.6 L233.7,641.3 L234.0,640.0 L234.4,638.7 L234.8,637.4 L235.3,636.1 L235.8,634.8 L236.4,633.5 L237.1,632.2 L237.8,631.0 L238.5,629.8 L239.4,628.6 L240.2,627.5 L241.1,626.4 L242.0,625.4 L243.0,624.4 L244.0,623.5 L245.0,622.7 L246.0,622.0 L247.0,621.3 L248.0,620.7 L249.1,620.2 L250.1,619.8 L251.1,619.4 L252.1,619.2 L253.1,619.0 L254.1,619.0 L255.0,619.0 L255.9,619.1 L256.7,619.3 L257.5,619.6 L258.3,620.0Z" fill="#fff" stroke="#000" stroke-width="1.56" />
<path d="M260.2,621.0 L261.0,621.5 L261.6,622.1 L262.2,622.7 L262.8,623.4 L263.3,624.2 L263.7,625.1 L264.1,626.0 L264.3,627.0 L264.6,628.1 L264.7,629.2 L264.8,630.3 L264.8,631.5 L264.7,632.7 L264.6,634.0 L264.4,635.2 L264.1,636.5 L263.7,637.9 L263.3,639.2 L262.8,640.5 L262.3,641.8 L261.7,643.1 L261.0,644.3 L260.3,645.6 L259.5,646.8 L258.7,647.9 L257.9,649.1 L257.0,650.1 L256.0,651.2 L255.1,652.1 L254.1,653.0 L253.1,653.8 L252.1,654.6 L251.1,655.2 L250.0,655.8 L249.0,656.4 L248.0,656.8 L247.0,657.1 L246.0,657.4 L245.0,657.5 L244.0,657.6 L243.1,657.6 L242.2,657.4 L241.3,657.2 L240.5,656.9 L239.8,656.6 L239.0,656.1 L238.4,655.5 L237.8,654.9 L237.2,654.2 L236.7,653.4 L236.3,652.5 L235.9,651.6 L235.7,650.6 L235.4,649.5 L235.3,648.4 L235.2,647.3 L235.2,646.1 L235.3,644.9 L235.4,643.6 L235.7,642.4 L235.9,641.1 L236.3,639.7 L236.7,638.4 L237.2,637.1 L237.7,635.8 L238.3,634.5 L239.0,633.3 L239.7,632.0 L240.5,630.8 L241.3,629.7 L242.1,628.5 L243.0,627.5 L244.0,626.4 L244.9,625.5 L245.9,624.6 L246.9,623.8 L247.9,623.0 L248.9,622.4 L250.0,621.8 L251.0,621.2 L252.0,620.8 L253.0,620.5 L254.0,620.2 L255.0,620.1 L256.0,620.0 L256.9,620.0 L257.8,620.2 L258.7,620.4 L259.5,620.7 L260.2,621.0Z M256.0,628.4 L256.4,628.7 L256.8,629.0 L257.2,629.4 L257.5,629.8 L257.8,630.3 L258.0,630.8 L258.2,631.3 L258.4,631.9 L258.5,632.5 L258.6,633.2 L258.6,633.8 L258.6,634.5 L258.6,635.2 L258.5,636.0 L258.4,636.7 L258.2,637.5 L258.0,638.2 L257.8,639.0 L257.5,639.8 L257.2,640.5 L256.8,641.3 L256.4,642.0 L256.0,642.8 L255.6,643.5 L255.1,644.1 L254.6,644.8 L254.1,645.4 L253.5,646.0 L253.0,646.6 L252.4,647.1 L251.8,647.6 L251.2,648.0 L250.6,648.4 L250.0,648.8 L249.4,649.1 L248.8,649.3 L248.2,649.5 L247.6,649.7 L247.1,649.8 L246.5,649.8 L246.0,649.8 L245.4,649.7 L244.9,649.6 L244.4,649.4 L244.0,649.2 L243.6,648.9 L243.2,648.6 L242.8,648.2 L242.5,647.8 L242.2,647.3 L242.0,646.8 L241.8,646.3 L241.6,645.7 L241.5,645.1 L241.4,644.4 L241.4,643.8 L241.4,643.1 L241.4,642.4 L241.5,641.6 L241.6,640.9 L241.8,640.1 L242.0,639.4 L242.2,638.6 L242.5,637.8 L242.8,637.1 L243.2,636.3 L243.6,635.6 L244.0,634.8 L244.4,634.1 L244.9,633.5 L245.4,632.8 L245.9,632.2 L246.5,631.6 L247.0,631.0 L247.6,630.5 L248.2,630.0 L248.8,629.6 L249.4,629.2 L250.0,628.8 L250.6,628.5 L251.2,628.3 L251.8,628.1 L252.4,627.9 L252.9,627.8 L253.5,627.8 L254.0,627.8 L254.6,627.9 L255.1,628.0 L255.6,628.2 L256.0,628.4Z" fill="#fff" stroke="#000" stroke-width="1.95" fill-rule="evenodd"/>
<path d="M245.7,629.4 L246.3,629.0 L246.8,628.5 L247.4,628.1 L248.1,627.8 L248.7,627.5 L249.3,627.2 L249.9,627.0 L250.4,626.9 L251.0,626.8 L251.6,626.8 L252.1,626.8 L252.6,626.8 L253.1,627.0 L253.6,627.1 L254.1,627.4 L254.5,627.6 L254.9,628.0 L255.2,628.3 L255.6,628.8 L255.8,629.2 L256.1,629.7 L256.3,630.3 L256.5,630.8 L256.6,631.5 L256.7,632.1 L256.7,632.8 L256.7,633.5 L256.7,634.2 L256.6,634.9 L256.5,635.7 L256.3,636.4 L256.1,637.2 L255.9,638.0 L255.6,638.7 L255.2,639.5 L254.9,640.2 L254.5,641.0 L254.1,641.7 L253.6,642.4 L253.2,643.1 L252.7,643.8 L252.1,644.4 L251.6,645.0 L251.0,645.5 L250.5,646.1" fill="none" stroke="#000" stroke-width="1.43" />
<path d="M252.0,640.0 L264.0,646.0" fill="none" stroke="#000" stroke-width="1.3" />
<circle cx="267.6" cy="650.5" r="2.9" fill="#fff" stroke="#000" stroke-width="1.2"/>
<path d="M398.3,718.1 L398.5,718.2 L398.6,718.3 L398.7,718.4 L398.8,718.5 L398.8,718.7 L398.9,718.8 L399.0,718.9 L399.0,719.1 L399.0,719.3 L399.1,719.4 L399.1,719.6 L399.1,719.8 L399.1,720.0 L399.0,720.2 L399.0,720.4 L399.0,720.6 L398.9,720.8 L398.8,721.1 L398.8,721.3 L398.7,721.5 L398.6,721.7 L398.5,721.9 L398.4,722.1 L398.2,722.3 L398.1,722.5 L398.0,722.7 L397.8,722.8 L397.7,723.0 L397.5,723.1 L397.4,723.3 L397.2,723.4 L397.0,723.5 L396.9,723.6 L396.7,723.7 L396.5,723.8 L396.4,723.9 L396.2,723.9 L396.0,724.0 L395.9,724.0 L395.7,724.0 L395.6,724.0 L395.4,724.0 L395.3,724.0 L395.2,723.9 L395.1,723.9 L275.8,658.5 L275.6,658.5 L275.5,658.4 L275.4,658.3 L275.3,658.2 L275.3,658.0 L275.2,657.9 L275.1,657.7 L275.1,657.6 L275.1,657.4 L275.0,657.2 L275.0,657.1 L275.0,656.9 L275.0,656.7 L275.1,656.5 L275.1,656.3 L275.1,656.1 L275.2,655.8 L275.3,655.6 L275.3,655.4 L275.4,655.2 L275.5,655.0 L275.6,654.8 L275.8,654.6 L275.9,654.4 L276.0,654.2 L276.1,654.0 L276.3,653.9 L276.4,653.7 L276.6,653.5 L276.7,653.4 L276.9,653.3 L277.1,653.1 L277.2,653.0 L277.4,652.9 L277.6,652.9 L277.7,652.8 L277.9,652.7 L278.1,652.7 L278.2,652.7 L278.4,652.7 L278.5,652.7 L278.7,652.7 L278.8,652.7 L278.9,652.8 L279.1,652.8Z" fill="#fff" stroke="#000" stroke-width="1.69" />
<path d="M398.3,718.1 L398.5,718.2 L398.6,718.3 L398.7,718.4 L398.8,718.5 L398.8,718.7 L398.9,718.8 L399.0,718.9 L399.0,719.1 L399.0,719.3 L399.1,719.4 L399.1,719.6 L399.1,719.8 L399.1,720.0 L399.0,720.2 L399.0,720.4 L399.0,720.6 L398.9,720.8 L398.8,721.1 L398.8,721.3 L398.7,721.5 L398.6,721.7 L398.5,721.9 L398.4,722.1 L398.2,722.3 L398.1,722.5 L398.0,722.7 L397.8,722.8 L397.7,723.0 L397.5,723.1 L397.4,723.3 L397.2,723.4 L397.0,723.5 L396.9,723.6 L396.7,723.7 L396.5,723.8 L396.4,723.9 L396.2,723.9 L396.0,724.0 L395.9,724.0 L395.7,724.0 L395.6,724.0 L395.4,724.0 L395.3,724.0 L395.2,723.9 L395.1,723.9 L394.9,723.8 L394.8,723.7 L394.7,723.6 L394.6,723.5 L394.6,723.3 L394.5,723.2 L394.4,723.1 L394.4,722.9 L394.4,722.7 L394.3,722.6 L394.3,722.4 L394.3,722.2 L394.3,722.0 L394.4,721.8 L394.4,721.6 L394.4,721.4 L394.5,721.2 L394.6,720.9 L394.6,720.7 L394.7,720.5 L394.8,720.3 L394.9,720.1 L395.0,719.9 L395.2,719.7 L395.3,719.5 L395.4,719.3 L395.6,719.2 L395.7,719.0 L395.9,718.9 L396.0,718.7 L396.2,718.6 L396.4,718.5 L396.5,718.4 L396.7,718.3 L396.9,718.2 L397.0,718.1 L397.2,718.1 L397.4,718.0 L397.5,718.0 L397.7,718.0 L397.8,718.0 L398.0,718.0 L398.1,718.0 L398.2,718.1 L398.3,718.1Z" fill="#fff" stroke="#000" stroke-width="1.69" />
<path d="M279.0,652.8 L279.2,652.9 L279.3,653.0 L279.4,653.1 L279.5,653.2 L279.5,653.4 L279.6,653.5 L279.7,653.6 L279.7,653.8 L279.7,654.0 L279.8,654.1 L279.8,654.3 L279.8,654.5 L279.8,654.7 L279.7,654.9 L279.7,655.1 L279.7,655.3 L279.6,655.5 L279.5,655.8 L279.5,656.0 L279.4,656.2 L279.3,656.4 L279.2,656.6 L279.1,656.8 L278.9,657.0 L278.8,657.2 L278.7,657.4 L278.5,657.5 L278.4,657.7 L278.2,657.8 L278.1,658.0 L277.9,658.1 L277.7,658.2 L277.6,658.3 L277.4,658.4 L277.2,658.5 L277.1,658.6 L276.9,658.6 L276.7,658.7 L276.6,658.7 L276.4,658.7 L276.3,658.7 L276.1,658.7 L276.0,658.7 L275.9,658.6 L275.8,658.6 L275.6,658.5 L275.5,658.4 L275.4,658.3 L275.3,658.2 L275.3,658.0 L275.2,657.9 L275.1,657.8 L275.1,657.6 L275.1,657.4 L275.0,657.3 L275.0,657.1 L275.0,656.9 L275.0,656.7 L275.1,656.5 L275.1,656.3 L275.1,656.1 L275.2,655.9 L275.3,655.6 L275.3,655.4 L275.4,655.2 L275.5,655.0 L275.6,654.8 L275.7,654.6 L275.9,654.4 L276.0,654.2 L276.1,654.0 L276.3,653.9 L276.4,653.7 L276.6,653.6 L276.7,653.4 L276.9,653.3 L277.1,653.2 L277.2,653.1 L277.4,653.0 L277.6,652.9 L277.7,652.8 L277.9,652.8 L278.1,652.7 L278.2,652.7 L278.4,652.7 L278.5,652.7 L278.7,652.7 L278.8,652.7 L278.9,652.8 L279.0,652.8Z" fill="#fff" stroke="#000" stroke-width="1.56" />
<path d="M418.1,720.3 L418.6,720.6 L419.0,721.0 L419.4,721.4 L419.7,721.8 L420.0,722.3 L420.3,722.8 L420.5,723.4 L420.7,724.0 L420.9,724.6 L421.0,725.3 L421.0,726.0 L421.0,726.7 L421.0,727.4 L420.9,728.2 L420.8,729.0 L420.6,729.8 L420.4,730.5 L420.2,731.3 L419.9,732.1 L419.6,732.9 L419.2,733.7 L418.8,734.4 L418.4,735.2 L417.9,735.9 L417.4,736.6 L416.9,737.3 L416.4,737.9 L415.8,738.5 L415.2,739.1 L414.6,739.6 L414.0,740.1 L413.4,740.6 L412.8,741.0 L412.2,741.3 L411.5,741.6 L410.9,741.9 L410.3,742.1 L409.7,742.2 L409.1,742.3 L408.5,742.3 L407.9,742.3 L407.4,742.2 L406.8,742.1 L406.3,741.9 L405.9,741.7 L401.0,739.0 L400.6,738.7 L400.2,738.4 L399.8,738.0 L399.4,737.5 L399.1,737.1 L398.9,736.5 L398.6,736.0 L398.5,735.4 L398.3,734.7 L398.2,734.1 L398.2,733.4 L398.2,732.7 L398.2,731.9 L398.3,731.2 L398.4,730.4 L398.5,729.6 L398.7,728.8 L399.0,728.0 L399.3,727.2 L399.6,726.5 L400.0,725.7 L400.4,724.9 L400.8,724.2 L401.3,723.5 L401.7,722.8 L402.3,722.1 L402.8,721.4 L403.4,720.8 L403.9,720.3 L404.5,719.7 L405.1,719.2 L405.8,718.8 L406.4,718.4 L407.0,718.0 L407.6,717.7 L408.3,717.5 L408.9,717.3 L409.5,717.2 L410.1,717.1 L410.7,717.0 L411.3,717.1 L411.8,717.1 L412.3,717.3 L412.9,717.5 L413.3,717.7Z" fill="#fff" stroke="#000" stroke-width="1.82" />
<path d="M418.1,720.3 L418.6,720.6 L419.0,721.0 L419.4,721.4 L419.7,721.8 L420.0,722.3 L420.3,722.8 L420.5,723.4 L420.7,724.0 L420.9,724.6 L421.0,725.3 L421.0,726.0 L421.0,726.7 L421.0,727.4 L420.9,728.2 L420.8,729.0 L420.6,729.8 L420.4,730.5 L420.2,731.3 L419.9,732.1 L419.6,732.9 L419.2,733.7 L418.8,734.4 L418.4,735.2 L417.9,735.9 L417.4,736.6 L416.9,737.3 L416.4,737.9 L415.8,738.5 L415.2,739.1 L414.6,739.6 L414.0,740.1 L413.4,740.6 L412.8,741.0 L412.2,741.3 L411.5,741.6 L410.9,741.9 L410.3,742.1 L409.7,742.2 L409.1,742.3 L408.5,742.3 L407.9,742.3 L407.4,742.2 L406.8,742.1 L406.3,741.9 L405.9,741.7 L405.4,741.4 L405.0,741.0 L404.6,740.6 L404.3,740.2 L404.0,739.7 L403.7,739.2 L403.5,738.6 L403.3,738.0 L403.1,737.4 L403.0,736.7 L403.0,736.0 L403.0,735.3 L403.0,734.6 L403.1,733.8 L403.2,733.0 L403.4,732.2 L403.6,731.5 L403.8,730.7 L404.1,729.9 L404.4,729.1 L404.8,728.3 L405.2,727.6 L405.6,726.8 L406.1,726.1 L406.6,725.4 L407.1,724.7 L407.6,724.1 L408.2,723.5 L408.8,722.9 L409.4,722.4 L410.0,721.9 L410.6,721.4 L411.2,721.0 L411.8,720.7 L412.5,720.4 L413.1,720.1 L413.7,719.9 L414.3,719.8 L414.9,719.7 L415.5,719.7 L416.1,719.7 L416.6,719.8 L417.2,719.9 L417.7,720.1 L418.1,720.3Z" fill="#fff" stroke="#000" stroke-width="1.82" />
<path d="M414.6,726.5 L414.8,726.6 L415.0,726.8 L415.1,726.9 L415.3,727.1 L415.4,727.3 L415.5,727.5 L415.6,727.8 L415.7,728.0 L415.7,728.3 L415.8,728.6 L415.8,728.9 L415.8,729.2 L415.8,729.5 L415.8,729.8 L415.7,730.1 L415.6,730.5 L415.6,730.8 L415.5,731.1 L415.3,731.5 L415.2,731.8 L415.0,732.1 L414.9,732.5 L414.7,732.8 L414.5,733.1 L414.3,733.4 L414.1,733.7 L413.9,733.9 L413.6,734.2 L413.4,734.4 L413.1,734.6 L412.9,734.9 L412.6,735.0 L412.3,735.2 L412.1,735.4 L411.8,735.5 L411.5,735.6 L411.3,735.7 L411.0,735.7 L410.8,735.8 L410.5,735.8 L410.3,735.8 L410.0,735.7 L409.8,735.7 L409.6,735.6 L409.4,735.5 L409.2,735.4 L409.0,735.2 L408.9,735.1 L408.7,734.9 L408.6,734.7 L408.5,734.5 L408.4,734.2 L408.3,734.0 L408.3,733.7 L408.2,733.4 L408.2,733.1 L408.2,732.8 L408.2,732.5 L408.2,732.2 L408.3,731.9 L408.4,731.5 L408.4,731.2 L408.5,730.9 L408.7,730.5 L408.8,730.2 L409.0,729.9 L409.1,729.5 L409.3,729.2 L409.5,728.9 L409.7,728.6 L409.9,728.3 L410.1,728.1 L410.4,727.8 L410.6,727.6 L410.9,727.4 L411.1,727.1 L411.4,727.0 L411.7,726.8 L411.9,726.6 L412.2,726.5 L412.5,726.4 L412.7,726.3 L413.0,726.3 L413.2,726.2 L413.5,726.2 L413.7,726.2 L414.0,726.3 L414.2,726.3 L414.4,726.4 L414.6,726.5Z" fill="none" stroke="#000" stroke-width="1.95" />
<path d="M413.8,735.5 L413.4,735.9 L413.0,736.3 L412.6,736.6 L412.2,737.0 L411.8,737.3 L411.3,737.5 L410.9,737.7 L410.5,737.9 L410.0,738.1 L409.6,738.2 L409.2,738.3 L408.8,738.3 L408.4,738.3 L408.0,738.3 L407.6,738.2 L407.3,738.1 L406.9,737.9 L406.6,737.8 L406.3,737.5 L406.0,737.3 L405.8,737.0 L405.5,736.7 L405.3,736.3 L405.2,736.0 L405.0,735.6 L404.9,735.1 L404.8,734.7 L404.8,734.2 L404.8,733.7 L404.8,733.2 L404.8,732.7 L404.9,732.2 L405.0,731.6 L405.1,731.1 L405.3,730.5 L405.4,730.0 L405.7,729.5 L405.9,728.9 L406.2,728.4 L406.4,727.9 L406.7,727.4 L407.1,726.9 L407.4,726.4 L407.8,725.9 L408.2,725.5" fill="none" stroke="#000" stroke-width="1.3" />
<path d="M415.0,732.5 L422.0,736.0" fill="none" stroke="#000" stroke-width="1.3" />
<path d="M424.0,737.0 L427.0,732.8 L445.4,728.2 L459.1,725.2 L462.2,721.4 L469.8,720.6 L474.4,722.9 L478.2,730.5 L476.7,741.2 L471.3,742.7 L470.5,736.0 L467.5,730.0 L465.5,737.0 L462.2,740.5 L448.4,741.2 L442.3,745.5 L440.0,752.0Z" fill="#fff" stroke="#000" stroke-width="2.08" />
<path d="M428.0,730.8 L446.0,726.3 L459.0,723.2 L462.5,719.6 L470.5,718.8" fill="none" stroke="#000" stroke-width="1.69" />
<path d="M463.5,724.0 L466.5,729.0" fill="none" stroke="#000" stroke-width="1.56" />
<path d="M472.0,725.0 L474.3,731.0 L473.5,738.0" fill="none" stroke="#000" stroke-width="1.56" />
<path d="M448.3,731.5 L448.3,738.5" fill="none" stroke="#000" stroke-width="1.82" />
<path d="M437.6,735.1 L438.0,735.4 L438.5,735.8 L438.8,736.1 L439.2,736.6 L439.5,737.0 L439.8,737.5 L440.0,738.0 L440.2,738.6 L440.4,739.2 L440.5,739.8 L440.6,740.4 L440.7,741.1 L440.7,741.7 L440.6,742.4 L440.6,743.1 L440.5,743.8 L440.3,744.5 L440.1,745.2 L439.9,745.9 L439.6,746.6 L439.3,747.3 L438.9,748.0 L438.6,748.6 L438.1,749.2 L437.7,749.8 L437.2,750.4 L436.8,751.0 L436.2,751.5 L435.7,752.0 L435.2,752.5 L434.6,752.9 L434.0,753.2 L433.5,753.6 L432.9,753.9 L432.3,754.1 L431.7,754.3 L431.1,754.4 L430.5,754.5 L429.9,754.6 L429.4,754.6 L428.8,754.5 L428.3,754.4 L427.8,754.3 L427.3,754.1 L426.8,753.9 L423.3,751.9 L422.8,751.6 L422.4,751.3 L422.0,750.9 L421.7,750.5 L421.4,750.1 L421.1,749.6 L420.8,749.1 L420.6,748.5 L420.5,747.9 L420.3,747.3 L420.3,746.7 L420.2,746.0 L420.2,745.4 L420.2,744.7 L420.3,744.0 L420.4,743.3 L420.6,742.6 L420.8,741.9 L421.0,741.2 L421.3,740.5 L421.6,739.8 L422.0,739.1 L422.3,738.5 L422.7,737.8 L423.2,737.2 L423.6,736.6 L424.1,736.1 L424.6,735.6 L425.2,735.1 L425.7,734.6 L426.3,734.2 L426.9,733.8 L427.4,733.5 L428.0,733.2 L428.6,733.0 L429.2,732.8 L429.8,732.6 L430.4,732.5 L431.0,732.5 L431.5,732.5 L432.1,732.5 L432.6,732.6 L433.1,732.8 L433.6,733.0 L434.1,733.2Z" fill="#fff" stroke="#000" stroke-width="1.95" />
<path d="M437.6,735.1 L438.0,735.4 L438.5,735.8 L438.8,736.1 L439.2,736.6 L439.5,737.0 L439.8,737.5 L440.0,738.0 L440.2,738.6 L440.4,739.2 L440.5,739.8 L440.6,740.4 L440.7,741.1 L440.7,741.7 L440.6,742.4 L440.6,743.1 L440.5,743.8 L440.3,744.5 L440.1,745.2 L439.9,745.9 L439.6,746.6 L439.3,747.3 L438.9,748.0 L438.6,748.6 L438.1,749.2 L437.7,749.8 L437.2,750.4 L436.8,751.0 L436.2,751.5 L435.7,752.0 L435.2,752.5 L434.6,752.9 L434.0,753.2 L433.5,753.6 L432.9,753.9 L432.3,754.1 L431.7,754.3 L431.1,754.4 L430.5,754.5 L429.9,754.6 L429.4,754.6 L428.8,754.5 L428.3,754.4 L427.8,754.3 L427.3,754.1 L426.8,753.9 L426.4,753.6 L425.9,753.2 L425.6,752.9 L425.2,752.4 L424.9,752.0 L424.6,751.5 L424.4,751.0 L424.2,750.4 L424.0,749.8 L423.9,749.2 L423.8,748.6 L423.7,747.9 L423.7,747.3 L423.8,746.6 L423.8,745.9 L423.9,745.2 L424.1,744.5 L424.3,743.8 L424.5,743.1 L424.8,742.4 L425.1,741.7 L425.5,741.0 L425.8,740.4 L426.3,739.8 L426.7,739.2 L427.2,738.6 L427.6,738.0 L428.2,737.5 L428.7,737.0 L429.2,736.5 L429.8,736.1 L430.4,735.8 L430.9,735.4 L431.5,735.1 L432.1,734.9 L432.7,734.7 L433.3,734.6 L433.9,734.5 L434.5,734.4 L435.0,734.4 L435.6,734.5 L436.1,734.6 L436.6,734.7 L437.1,734.9 L437.6,735.1Z" fill="#fff" stroke="#000" stroke-width="1.95" />
<path d="M434.8,740.0 L435.0,740.1 L435.2,740.3 L435.4,740.5 L435.6,740.7 L435.7,740.9 L435.9,741.1 L436.0,741.4 L436.1,741.6 L436.2,741.9 L436.2,742.2 L436.3,742.5 L436.3,742.8 L436.3,743.2 L436.3,743.5 L436.2,743.8 L436.2,744.2 L436.1,744.5 L436.0,744.8 L435.9,745.2 L435.8,745.5 L435.6,745.8 L435.4,746.2 L435.3,746.5 L435.1,746.8 L434.9,747.1 L434.6,747.4 L434.4,747.6 L434.1,747.9 L433.9,748.1 L433.6,748.3 L433.4,748.5 L433.1,748.7 L432.8,748.9 L432.5,749.0 L432.2,749.1 L431.9,749.2 L431.7,749.3 L431.4,749.3 L431.1,749.4 L430.8,749.4 L430.6,749.3 L430.3,749.3 L430.1,749.2 L429.8,749.1 L429.6,749.0 L429.4,748.9 L429.2,748.7 L429.0,748.5 L428.8,748.3 L428.7,748.1 L428.5,747.9 L428.4,747.6 L428.3,747.4 L428.2,747.1 L428.2,746.8 L428.1,746.5 L428.1,746.2 L428.1,745.8 L428.1,745.5 L428.2,745.2 L428.2,744.8 L428.3,744.5 L428.4,744.2 L428.5,743.8 L428.6,743.5 L428.8,743.2 L429.0,742.8 L429.1,742.5 L429.3,742.2 L429.5,741.9 L429.8,741.6 L430.0,741.4 L430.3,741.1 L430.5,740.9 L430.8,740.7 L431.0,740.5 L431.3,740.3 L431.6,740.1 L431.9,740.0 L432.2,739.9 L432.5,739.8 L432.7,739.7 L433.0,739.7 L433.3,739.6 L433.6,739.6 L433.8,739.7 L434.1,739.7 L434.3,739.8 L434.6,739.9 L434.8,740.0Z" fill="#000" stroke="#000" stroke-width="1.56" />
<path d="M436.0,747.0 L449.0,753.0" fill="none" stroke="#000" stroke-width="1.3" />
<path d="M466.2,746.6 L466.6,746.9 L467.0,747.2 L467.4,747.6 L467.7,748.0 L468.0,748.5 L468.3,748.9 L468.6,749.5 L468.7,750.0 L468.9,750.6 L469.0,751.2 L469.1,751.8 L469.1,752.5 L469.1,753.1 L469.1,753.8 L469.0,754.5 L468.9,755.2 L468.7,755.9 L468.5,756.6 L468.3,757.3 L468.0,758.0 L467.7,758.7 L467.3,759.3 L467.0,760.0 L466.6,760.6 L466.1,761.2 L465.7,761.8 L465.2,762.4 L464.7,762.9 L464.1,763.4 L463.6,763.9 L463.1,764.3 L462.5,764.7 L461.9,765.0 L461.3,765.3 L460.8,765.5 L460.2,765.7 L459.6,765.9 L459.0,766.0 L458.5,766.0 L457.9,766.0 L457.4,766.0 L456.8,765.9 L456.3,765.8 L455.9,765.6 L455.4,765.4 L450.6,762.7 L450.1,762.4 L449.7,762.1 L449.4,761.7 L449.0,761.3 L448.7,760.9 L448.5,760.4 L448.2,759.9 L448.0,759.3 L447.9,758.8 L447.8,758.2 L447.7,757.5 L447.6,756.9 L447.6,756.2 L447.7,755.5 L447.8,754.9 L447.9,754.2 L448.1,753.5 L448.3,752.8 L448.5,752.1 L448.8,751.4 L449.1,750.7 L449.4,750.0 L449.8,749.4 L450.2,748.7 L450.6,748.1 L451.1,747.5 L451.6,747.0 L452.1,746.5 L452.6,746.0 L453.2,745.5 L453.7,745.1 L454.3,744.7 L454.9,744.4 L455.4,744.1 L456.0,743.8 L456.6,743.6 L457.2,743.5 L457.8,743.4 L458.3,743.3 L458.9,743.3 L459.4,743.4 L459.9,743.4 L460.4,743.6 L460.9,743.8 L461.4,744.0Z" fill="#fff" stroke="#000" stroke-width="1.95" />
<path d="M466.2,746.6 L466.6,746.9 L467.0,747.2 L467.4,747.6 L467.7,748.0 L468.0,748.5 L468.3,748.9 L468.6,749.5 L468.7,750.0 L468.9,750.6 L469.0,751.2 L469.1,751.8 L469.1,752.5 L469.1,753.1 L469.1,753.8 L469.0,754.5 L468.9,755.2 L468.7,755.9 L468.5,756.6 L468.3,757.3 L468.0,758.0 L467.7,758.7 L467.3,759.3 L467.0,760.0 L466.6,760.6 L466.1,761.2 L465.7,761.8 L465.2,762.4 L464.7,762.9 L464.1,763.4 L463.6,763.9 L463.1,764.3 L462.5,764.7 L461.9,765.0 L461.3,765.3 L460.8,765.5 L460.2,765.7 L459.6,765.9 L459.0,766.0 L458.5,766.0 L457.9,766.0 L457.4,766.0 L456.8,765.9 L456.3,765.8 L455.9,765.6 L455.4,765.4 L455.0,765.1 L454.6,764.8 L454.2,764.4 L453.9,764.0 L453.6,763.5 L453.3,763.1 L453.0,762.5 L452.9,762.0 L452.7,761.4 L452.6,760.8 L452.5,760.2 L452.5,759.5 L452.5,758.9 L452.5,758.2 L452.6,757.5 L452.7,756.8 L452.9,756.1 L453.1,755.4 L453.3,754.7 L453.6,754.0 L453.9,753.3 L454.3,752.7 L454.6,752.0 L455.0,751.4 L455.5,750.8 L455.9,750.2 L456.4,749.6 L456.9,749.1 L457.5,748.6 L458.0,748.1 L458.5,747.7 L459.1,747.3 L459.7,747.0 L460.3,746.7 L460.8,746.5 L461.4,746.3 L462.0,746.1 L462.6,746.0 L463.1,746.0 L463.7,746.0 L464.2,746.0 L464.8,746.1 L465.3,746.2 L465.7,746.4 L466.2,746.6Z" fill="#fff" stroke="#000" stroke-width="1.95" />
<path d="M463.3,751.7 L463.5,751.8 L463.7,751.9 L463.9,752.1 L464.0,752.3 L464.2,752.5 L464.3,752.7 L464.4,753.0 L464.5,753.2 L464.6,753.5 L464.6,753.8 L464.6,754.1 L464.7,754.4 L464.7,754.7 L464.6,755.0 L464.6,755.3 L464.5,755.6 L464.5,756.0 L464.4,756.3 L464.3,756.6 L464.1,756.9 L464.0,757.2 L463.8,757.5 L463.7,757.9 L463.5,758.1 L463.3,758.4 L463.1,758.7 L462.8,759.0 L462.6,759.2 L462.4,759.4 L462.1,759.6 L461.8,759.8 L461.6,760.0 L461.3,760.2 L461.0,760.3 L460.8,760.4 L460.5,760.5 L460.2,760.6 L460.0,760.6 L459.7,760.6 L459.5,760.7 L459.2,760.6 L459.0,760.6 L458.7,760.5 L458.5,760.4 L458.3,760.3 L458.1,760.2 L457.9,760.1 L457.7,759.9 L457.6,759.7 L457.4,759.5 L457.3,759.3 L457.2,759.0 L457.1,758.8 L457.0,758.5 L457.0,758.2 L457.0,757.9 L456.9,757.6 L456.9,757.3 L457.0,757.0 L457.0,756.7 L457.1,756.4 L457.1,756.0 L457.2,755.7 L457.3,755.4 L457.5,755.1 L457.6,754.8 L457.8,754.5 L457.9,754.1 L458.1,753.9 L458.3,753.6 L458.5,753.3 L458.8,753.0 L459.0,752.8 L459.2,752.6 L459.5,752.4 L459.8,752.2 L460.0,752.0 L460.3,751.8 L460.6,751.7 L460.8,751.6 L461.1,751.5 L461.4,751.4 L461.6,751.4 L461.9,751.4 L462.1,751.3 L462.4,751.4 L462.6,751.4 L462.9,751.5 L463.1,751.6 L463.3,751.7Z" fill="none" stroke="#000" stroke-width="1.82" />
<path d="M462.7,760.1 L462.3,760.5 L461.9,760.8 L461.6,761.1 L461.2,761.4 L460.8,761.6 L460.4,761.8 L460.0,762.0 L459.6,762.2 L459.2,762.3 L458.8,762.4 L458.4,762.5 L458.0,762.5 L457.6,762.5 L457.2,762.4 L456.9,762.3 L456.5,762.2 L456.2,762.1 L455.9,761.9 L455.6,761.7 L455.3,761.5 L455.1,761.2 L454.9,760.9 L454.7,760.6 L454.5,760.2 L454.3,759.9 L454.2,759.5 L454.1,759.0 L454.1,758.6 L454.0,758.2 L454.0,757.7 L454.0,757.3 L454.1,756.8 L454.1,756.3 L454.2,755.8 L454.4,755.3 L454.5,754.8 L454.7,754.4 L454.9,753.9 L455.1,753.4 L455.4,753.0 L455.7,752.5 L455.9,752.1 L456.3,751.7 L456.6,751.3 L456.9,750.9" fill="none" stroke="#000" stroke-width="1.3" />
<path d="M464.0,758.0 L485.0,769.0" fill="none" stroke="#000" stroke-width="1.3" stroke-dasharray="7 3"/>
<path d="M481.6,781.7 L481.7,781.8 L481.8,781.9 L481.9,782.0 L482.0,782.1 L482.1,782.2 L482.1,782.4 L482.2,782.5 L482.2,782.7 L482.3,782.8 L482.3,783.0 L482.3,783.2 L482.3,783.4 L482.3,783.6 L482.3,783.7 L482.2,783.9 L482.2,784.1 L482.1,784.4 L482.1,784.6 L482.0,784.8 L481.9,785.0 L481.8,785.2 L481.7,785.4 L481.6,785.6 L481.5,785.7 L481.4,785.9 L481.2,786.1 L481.1,786.3 L480.9,786.4 L480.8,786.6 L480.6,786.7 L480.5,786.8 L480.3,787.0 L480.2,787.1 L480.0,787.2 L479.8,787.2 L479.7,787.3 L479.5,787.4 L479.4,787.4 L479.2,787.4 L479.1,787.4 L478.9,787.4 L478.8,787.4 L478.6,787.4 L478.5,787.3 L478.4,787.3 L463.0,780.2 L462.8,780.1 L462.7,780.0 L462.6,779.9 L462.6,779.8 L462.5,779.7 L462.4,779.5 L462.4,779.4 L462.3,779.2 L462.3,779.1 L462.3,778.9 L462.2,778.7 L462.2,778.5 L462.3,778.3 L462.3,778.2 L462.3,778.0 L462.4,777.7 L462.4,777.5 L462.5,777.3 L462.6,777.1 L462.6,776.9 L462.7,776.7 L462.8,776.5 L462.9,776.3 L463.1,776.2 L463.2,776.0 L463.3,775.8 L463.5,775.6 L463.6,775.5 L463.8,775.3 L463.9,775.2 L464.1,775.1 L464.2,774.9 L464.4,774.8 L464.6,774.7 L464.7,774.7 L464.9,774.6 L465.0,774.5 L465.2,774.5 L465.3,774.5 L465.5,774.5 L465.6,774.5 L465.8,774.5 L465.9,774.5 L466.0,774.6 L466.2,774.6Z" fill="#fff" stroke="#000" stroke-width="1.69" />
<path d="M481.6,781.7 L481.7,781.8 L481.8,781.9 L481.9,782.0 L482.0,782.1 L482.1,782.2 L482.1,782.4 L482.2,782.5 L482.2,782.7 L482.3,782.8 L482.3,783.0 L482.3,783.2 L482.3,783.4 L482.3,783.6 L482.3,783.7 L482.2,783.9 L482.2,784.1 L482.1,784.4 L482.1,784.6 L482.0,784.8 L481.9,785.0 L481.8,785.2 L481.7,785.4 L481.6,785.6 L481.5,785.7 L481.4,785.9 L481.2,786.1 L481.1,786.3 L480.9,786.4 L480.8,786.6 L480.6,786.7 L480.5,786.8 L480.3,787.0 L480.2,787.1 L480.0,787.2 L479.8,787.2 L479.7,787.3 L479.5,787.4 L479.4,787.4 L479.2,787.4 L479.1,787.4 L478.9,787.4 L478.8,787.4 L478.6,787.4 L478.5,787.3 L478.4,787.3 L478.3,787.2 L478.2,787.1 L478.1,787.0 L478.0,786.9 L477.9,786.8 L477.9,786.6 L477.8,786.5 L477.8,786.3 L477.7,786.2 L477.7,786.0 L477.7,785.8 L477.7,785.6 L477.7,785.4 L477.7,785.3 L477.8,785.1 L477.8,784.9 L477.9,784.6 L477.9,784.4 L478.0,784.2 L478.1,784.0 L478.2,783.8 L478.3,783.6 L478.4,783.4 L478.5,783.3 L478.6,783.1 L478.8,782.9 L478.9,782.7 L479.1,782.6 L479.2,782.4 L479.4,782.3 L479.5,782.2 L479.7,782.0 L479.8,781.9 L480.0,781.8 L480.2,781.8 L480.3,781.7 L480.5,781.6 L480.6,781.6 L480.8,781.6 L480.9,781.6 L481.1,781.6 L481.2,781.6 L481.4,781.6 L481.5,781.7 L481.6,781.7Z" fill="#fff" stroke="#000" stroke-width="1.69" />
<path d="M465.8,770.2 L466.1,770.4 L466.4,770.6 L466.6,770.9 L466.9,771.2 L467.1,771.5 L467.2,771.8 L467.4,772.2 L467.5,772.5 L467.6,772.9 L467.7,773.4 L467.8,773.8 L467.8,774.3 L467.8,774.7 L467.7,775.2 L467.7,775.7 L467.6,776.2 L467.5,776.7 L467.3,777.2 L467.1,777.6 L466.9,778.1 L466.7,778.6 L466.5,779.1 L466.2,779.5 L465.9,780.0 L465.6,780.4 L465.3,780.8 L465.0,781.2 L464.6,781.6 L464.2,781.9 L463.9,782.3 L463.5,782.6 L463.1,782.8 L462.7,783.1 L462.3,783.3 L461.9,783.5 L461.5,783.6 L461.1,783.7 L460.7,783.8 L460.3,783.8 L459.9,783.8 L459.5,783.8 L459.2,783.8 L458.8,783.7 L458.5,783.5 L458.2,783.4 L455.1,781.7 L454.8,781.5 L454.6,781.3 L454.3,781.0 L454.1,780.8 L453.9,780.4 L453.7,780.1 L453.5,779.8 L453.4,779.4 L453.3,779.0 L453.2,778.5 L453.2,778.1 L453.2,777.7 L453.2,777.2 L453.2,776.7 L453.3,776.2 L453.4,775.8 L453.5,775.3 L453.6,774.8 L453.8,774.3 L454.0,773.8 L454.2,773.3 L454.5,772.8 L454.7,772.4 L455.0,771.9 L455.3,771.5 L455.6,771.1 L456.0,770.7 L456.3,770.3 L456.7,770.0 L457.1,769.7 L457.5,769.4 L457.8,769.1 L458.2,768.9 L458.6,768.6 L459.0,768.5 L459.5,768.3 L459.9,768.2 L460.2,768.1 L460.6,768.1 L461.0,768.1 L461.4,768.1 L461.7,768.2 L462.1,768.3 L462.4,768.4 L462.7,768.5Z" fill="#fff" stroke="#000" stroke-width="1.95" />
<path d="M465.8,770.2 L466.1,770.4 L466.4,770.6 L466.6,770.9 L466.9,771.2 L467.1,771.5 L467.2,771.8 L467.4,772.2 L467.5,772.5 L467.6,772.9 L467.7,773.4 L467.8,773.8 L467.8,774.3 L467.8,774.7 L467.7,775.2 L467.7,775.7 L467.6,776.2 L467.5,776.7 L467.3,777.2 L467.1,777.6 L466.9,778.1 L466.7,778.6 L466.5,779.1 L466.2,779.5 L465.9,780.0 L465.6,780.4 L465.3,780.8 L465.0,781.2 L464.6,781.6 L464.2,781.9 L463.9,782.3 L463.5,782.6 L463.1,782.8 L462.7,783.1 L462.3,783.3 L461.9,783.5 L461.5,783.6 L461.1,783.7 L460.7,783.8 L460.3,783.8 L459.9,783.8 L459.5,783.8 L459.2,783.8 L458.8,783.7 L458.5,783.5 L458.2,783.4 L457.9,783.2 L457.6,783.0 L457.4,782.7 L457.1,782.4 L456.9,782.1 L456.8,781.8 L456.6,781.4 L456.5,781.1 L456.4,780.7 L456.3,780.2 L456.2,779.8 L456.2,779.3 L456.2,778.9 L456.3,778.4 L456.3,777.9 L456.4,777.4 L456.5,776.9 L456.7,776.4 L456.9,776.0 L457.1,775.5 L457.3,775.0 L457.5,774.5 L457.8,774.1 L458.1,773.6 L458.4,773.2 L458.7,772.8 L459.0,772.4 L459.4,772.0 L459.8,771.7 L460.1,771.3 L460.5,771.0 L460.9,770.8 L461.3,770.5 L461.7,770.3 L462.1,770.1 L462.5,770.0 L462.9,769.9 L463.3,769.8 L463.7,769.8 L464.1,769.8 L464.5,769.8 L464.8,769.8 L465.2,769.9 L465.5,770.1 L465.8,770.2Z" fill="#fff" stroke="#000" stroke-width="1.95" />
<path d="M471.0,783.5 L472.3,786.3 M473.3,784.5 L474.6,787.3 M475.6,785.6 L476.9,788.4 M477.9,786.6 L479.2,789.4 " fill="none" stroke="#000" stroke-width="1.3" />
<path d="M501.9,761.0 L495.0,764.0 L489.5,771.0 L486.3,779.0 L486.0,787.0 L488.5,796.0 L493.0,803.5 L499.0,807.5 L505.0,806.0 L508.5,800.0 L509.0,792.0 L516.0,796.0 L524.0,790.0 L526.5,782.0 L524.0,774.0 L518.5,768.0 L512.0,764.5Z" fill="#fff" stroke="#000" stroke-width="2.08" />
<path d="M503.0,764.0 L497.0,768.0 L492.5,775.0 L491.0,783.0 L492.5,792.0 L496.0,799.0" fill="none" stroke="#000" stroke-width="1.43" />
<circle cx="501.9" cy="798.8" r="2.6" fill="#fff" stroke="#000" stroke-width="1.3"/>
<path d="M523.2,770.3 L523.6,770.5 L524.1,770.9 L524.5,771.3 L524.9,771.7 L525.2,772.2 L525.5,772.7 L525.8,773.3 L526.0,774.0 L526.2,774.6 L526.3,775.4 L526.4,776.1 L526.5,776.9 L526.5,777.7 L526.4,778.5 L526.3,779.4 L526.2,780.2 L526.0,781.1 L525.8,782.0 L525.5,782.9 L525.2,783.8 L524.9,784.7 L524.5,785.5 L524.1,786.4 L523.6,787.2 L523.1,788.0 L522.6,788.8 L522.1,789.6 L521.5,790.3 L521.0,791.0 L520.4,791.6 L519.7,792.2 L519.1,792.8 L518.5,793.2 L517.8,793.7 L517.2,794.1 L516.5,794.4 L515.9,794.7 L515.3,794.9 L514.6,795.1 L514.0,795.2 L513.4,795.2 L512.8,795.2 L512.3,795.1 L511.7,794.9 L511.2,794.7 L504.2,790.9 L503.7,790.6 L503.3,790.3 L502.9,789.9 L502.5,789.5 L502.2,789.0 L501.9,788.4 L501.6,787.8 L501.4,787.2 L501.2,786.5 L501.1,785.8 L501.0,785.0 L500.9,784.3 L500.9,783.5 L501.0,782.6 L501.1,781.8 L501.2,780.9 L501.4,780.0 L501.6,779.1 L501.9,778.3 L502.2,777.4 L502.5,776.5 L502.9,775.6 L503.3,774.8 L503.8,773.9 L504.2,773.1 L504.7,772.3 L505.3,771.6 L505.8,770.9 L506.4,770.2 L507.0,769.6 L507.6,769.0 L508.3,768.4 L508.9,767.9 L509.5,767.5 L510.2,767.1 L510.8,766.7 L511.5,766.5 L512.1,766.2 L512.7,766.1 L513.4,766.0 L514.0,766.0 L514.5,766.0 L515.1,766.1 L515.6,766.2 L516.1,766.4Z" fill="#fff" stroke="#000" stroke-width="1.95" />
<path d="M523.2,770.3 L523.6,770.5 L524.1,770.9 L524.5,771.3 L524.9,771.7 L525.2,772.2 L525.5,772.7 L525.8,773.3 L526.0,774.0 L526.2,774.6 L526.3,775.4 L526.4,776.1 L526.5,776.9 L526.5,777.7 L526.4,778.5 L526.3,779.4 L526.2,780.2 L526.0,781.1 L525.8,782.0 L525.5,782.9 L525.2,783.8 L524.9,784.7 L524.5,785.5 L524.1,786.4 L523.6,787.2 L523.1,788.0 L522.6,788.8 L522.1,789.6 L521.5,790.3 L521.0,791.0 L520.4,791.6 L519.7,792.2 L519.1,792.8 L518.5,793.2 L517.8,793.7 L517.2,794.1 L516.5,794.4 L515.9,794.7 L515.3,794.9 L514.6,795.1 L514.0,795.2 L513.4,795.2 L512.8,795.2 L512.3,795.1 L511.7,794.9 L511.2,794.7 L510.8,794.5 L510.3,794.1 L509.9,793.7 L509.5,793.3 L509.2,792.8 L508.9,792.3 L508.6,791.7 L508.4,791.0 L508.2,790.4 L508.1,789.6 L508.0,788.9 L507.9,788.1 L507.9,787.3 L508.0,786.5 L508.1,785.6 L508.2,784.8 L508.4,783.9 L508.6,783.0 L508.9,782.1 L509.2,781.2 L509.5,780.3 L509.9,779.5 L510.3,778.6 L510.8,777.8 L511.3,777.0 L511.8,776.2 L512.3,775.4 L512.9,774.7 L513.4,774.0 L514.0,773.4 L514.7,772.8 L515.3,772.2 L515.9,771.8 L516.6,771.3 L517.2,770.9 L517.9,770.6 L518.5,770.3 L519.1,770.1 L519.8,769.9 L520.4,769.8 L521.0,769.8 L521.6,769.8 L522.1,769.9 L522.7,770.1 L523.2,770.3Z" fill="#fff" stroke="#000" stroke-width="1.95" />
<path d="M521.7,773.3 L522.0,773.5 L522.4,773.8 L522.7,774.1 L523.0,774.4 L523.2,774.8 L523.4,775.2 L523.6,775.6 L523.8,776.1 L523.9,776.6 L524.0,777.1 L524.1,777.7 L524.1,778.3 L524.1,778.9 L524.1,779.5 L524.0,780.2 L523.9,780.8 L523.8,781.5 L523.6,782.1 L523.4,782.8 L523.2,783.5 L523.0,784.1 L522.7,784.8 L522.4,785.4 L522.0,786.0 L521.7,786.6 L521.3,787.2 L520.9,787.8 L520.5,788.3 L520.0,788.8 L519.6,789.3 L519.1,789.8 L518.6,790.2 L518.2,790.6 L517.7,790.9 L517.2,791.2 L516.7,791.4 L516.2,791.6 L515.7,791.8 L515.3,791.9 L514.8,792.0 L514.4,792.0 L513.9,792.0 L513.5,791.9 L513.1,791.8 L512.7,791.7 L512.4,791.5 L512.0,791.2 L511.7,790.9 L511.4,790.6 L511.2,790.2 L511.0,789.8 L510.8,789.4 L510.6,788.9 L510.5,788.4 L510.4,787.9 L510.3,787.3 L510.3,786.7 L510.3,786.1 L510.3,785.5 L510.4,784.8 L510.5,784.2 L510.6,783.5 L510.8,782.9 L511.0,782.2 L511.2,781.5 L511.4,780.9 L511.7,780.2 L512.0,779.6 L512.4,779.0 L512.7,778.4 L513.1,777.8 L513.5,777.2 L513.9,776.7 L514.4,776.2 L514.8,775.7 L515.3,775.2 L515.8,774.8 L516.2,774.4 L516.7,774.1 L517.2,773.8 L517.7,773.6 L518.2,773.4 L518.7,773.2 L519.1,773.1 L519.6,773.0 L520.0,773.0 L520.5,773.0 L520.9,773.1 L521.3,773.2 L521.7,773.3Z" fill="none" stroke="#000" stroke-width="1.56" />
<path d="M510.5,776.0 L518.0,774.0 M512.4,777.9 L519.2,776.3 M514.3,779.8 L520.4,778.6 M516.2,781.7 L521.6,780.9 M518.1,783.6 L522.8,783.2 M520.0,785.5 L524.0,785.5 " fill="none" stroke="#000" stroke-width="2.08" />
<path d="M520.6,781.2 L520.7,781.3 L520.8,781.4 L520.9,781.5 L521.0,781.6 L521.1,781.7 L521.1,781.9 L521.2,782.0 L521.2,782.2 L521.3,782.3 L521.3,782.5 L521.3,782.7 L521.3,782.9 L521.3,783.1 L521.3,783.2 L521.2,783.4 L521.2,783.6 L521.1,783.9 L521.1,784.1 L521.0,784.3 L520.9,784.5 L520.8,784.7 L520.7,784.9 L520.6,785.1 L520.5,785.2 L520.4,785.4 L520.2,785.6 L520.1,785.8 L519.9,785.9 L519.8,786.1 L519.6,786.2 L519.5,786.3 L519.3,786.5 L519.2,786.6 L519.0,786.7 L518.8,786.7 L518.7,786.8 L518.5,786.9 L518.4,786.9 L518.2,786.9 L518.1,786.9 L517.9,786.9 L517.8,786.9 L517.6,786.9 L517.5,786.8 L517.4,786.8 L517.3,786.7 L517.2,786.6 L517.1,786.5 L517.0,786.4 L516.9,786.3 L516.9,786.1 L516.8,786.0 L516.8,785.8 L516.7,785.7 L516.7,785.5 L516.7,785.3 L516.7,785.1 L516.7,784.9 L516.7,784.8 L516.8,784.6 L516.8,784.4 L516.9,784.1 L516.9,783.9 L517.0,783.7 L517.1,783.5 L517.2,783.3 L517.3,783.1 L517.4,782.9 L517.5,782.8 L517.6,782.6 L517.8,782.4 L517.9,782.2 L518.1,782.1 L518.2,781.9 L518.4,781.8 L518.5,781.7 L518.7,781.5 L518.8,781.4 L519.0,781.3 L519.2,781.3 L519.3,781.2 L519.5,781.1 L519.6,781.1 L519.8,781.1 L519.9,781.1 L520.1,781.1 L520.2,781.1 L520.4,781.1 L520.5,781.2 L520.6,781.2Z" fill="#000" stroke="#000" stroke-width="1.69" />
<path d="M523.5,786.0 L529.0,789.0" fill="none" stroke="#000" stroke-width="1.3" />
<path d="M543.5,794.2 L543.7,794.3 L543.8,794.4 L544.0,794.6 L544.1,794.8 L544.2,794.9 L544.3,795.2 L544.4,795.4 L544.5,795.6 L544.5,795.9 L544.6,796.1 L544.6,796.4 L544.6,796.7 L544.6,797.0 L544.6,797.3 L544.5,797.6 L544.4,797.9 L544.3,798.3 L544.2,798.6 L544.1,798.9 L544.0,799.2 L543.8,799.5 L543.7,799.8 L543.5,800.2 L543.3,800.4 L543.1,800.7 L542.9,801.0 L542.7,801.3 L542.5,801.5 L542.2,801.7 L542.0,802.0 L541.8,802.2 L541.5,802.3 L541.3,802.5 L541.0,802.7 L540.8,802.8 L540.5,802.9 L540.3,803.0 L540.0,803.0 L539.8,803.1 L539.5,803.1 L539.3,803.1 L539.1,803.0 L538.9,803.0 L538.7,802.9 L538.5,802.8 L527.2,797.4 L527.1,797.3 L526.9,797.2 L526.8,797.0 L526.6,796.8 L526.5,796.6 L526.4,796.4 L526.3,796.2 L526.2,796.0 L526.2,795.7 L526.2,795.4 L526.1,795.2 L526.1,794.9 L526.2,794.6 L526.2,794.3 L526.2,793.9 L526.3,793.6 L526.4,793.3 L526.5,793.0 L526.6,792.7 L526.7,792.4 L526.9,792.0 L527.1,791.7 L527.2,791.4 L527.4,791.1 L527.6,790.9 L527.8,790.6 L528.0,790.3 L528.3,790.1 L528.5,789.8 L528.7,789.6 L529.0,789.4 L529.2,789.2 L529.5,789.1 L529.7,788.9 L530.0,788.8 L530.2,788.7 L530.5,788.6 L530.7,788.6 L531.0,788.5 L531.2,788.5 L531.4,788.5 L531.6,788.5 L531.9,788.6 L532.0,788.7 L532.2,788.7Z" fill="#fff" stroke="#000" stroke-width="1.69" />
<path d="M543.5,794.2 L543.7,794.3 L543.8,794.4 L544.0,794.6 L544.1,794.8 L544.2,794.9 L544.3,795.2 L544.4,795.4 L544.5,795.6 L544.5,795.9 L544.6,796.1 L544.6,796.4 L544.6,796.7 L544.6,797.0 L544.6,797.3 L544.5,797.6 L544.4,797.9 L544.3,798.3 L544.2,798.6 L544.1,798.9 L544.0,799.2 L543.8,799.5 L543.7,799.8 L543.5,800.2 L543.3,800.4 L543.1,800.7 L542.9,801.0 L542.7,801.3 L542.5,801.5 L542.2,801.7 L542.0,802.0 L541.8,802.2 L541.5,802.3 L541.3,802.5 L541.0,802.7 L540.8,802.8 L540.5,802.9 L540.3,803.0 L540.0,803.0 L539.8,803.1 L539.5,803.1 L539.3,803.1 L539.1,803.0 L538.9,803.0 L538.7,802.9 L538.5,802.8 L538.3,802.7 L538.2,802.6 L538.0,802.4 L537.9,802.2 L537.8,802.1 L537.7,801.8 L537.6,801.6 L537.5,801.4 L537.5,801.1 L537.4,800.9 L537.4,800.6 L537.4,800.3 L537.4,800.0 L537.4,799.7 L537.5,799.4 L537.6,799.1 L537.7,798.7 L537.8,798.4 L537.9,798.1 L538.0,797.8 L538.2,797.5 L538.3,797.2 L538.5,796.8 L538.7,796.6 L538.9,796.3 L539.1,796.0 L539.3,795.7 L539.5,795.5 L539.8,795.3 L540.0,795.0 L540.2,794.8 L540.5,794.7 L540.7,794.5 L541.0,794.3 L541.2,794.2 L541.5,794.1 L541.7,794.0 L542.0,794.0 L542.2,793.9 L542.5,793.9 L542.7,793.9 L542.9,794.0 L543.1,794.0 L543.3,794.1 L543.5,794.2Z" fill="#fff" stroke="#000" stroke-width="1.69" />
<path d="M565.0,801.4 L565.3,801.6 L565.6,801.9 L565.9,802.2 L566.2,802.5 L566.4,802.8 L566.6,803.2 L566.7,803.6 L566.9,804.1 L567.0,804.5 L567.1,805.0 L567.1,805.5 L567.1,806.1 L567.1,806.6 L567.0,807.2 L566.9,807.7 L566.8,808.3 L566.7,808.9 L566.5,809.4 L566.3,810.0 L566.0,810.6 L565.8,811.2 L565.5,811.7 L565.2,812.3 L564.8,812.8 L564.5,813.3 L564.1,813.8 L563.7,814.3 L563.3,814.7 L562.9,815.1 L562.4,815.5 L562.0,815.9 L561.5,816.2 L561.1,816.5 L560.6,816.7 L560.2,817.0 L559.7,817.1 L559.2,817.3 L558.8,817.4 L558.4,817.5 L557.9,817.5 L557.5,817.5 L557.1,817.4 L556.7,817.3 L556.3,817.2 L556.0,817.0 L538.0,808.3 L537.7,808.1 L537.3,807.9 L537.1,807.6 L536.8,807.3 L536.6,806.9 L536.4,806.5 L536.2,806.1 L536.1,805.7 L536.0,805.2 L535.9,804.7 L535.9,804.2 L535.9,803.7 L535.9,803.1 L536.0,802.6 L536.0,802.0 L536.2,801.4 L536.3,800.9 L536.5,800.3 L536.7,799.7 L536.9,799.1 L537.2,798.6 L537.5,798.0 L537.8,797.5 L538.1,796.9 L538.5,796.4 L538.9,795.9 L539.3,795.5 L539.7,795.0 L540.1,794.6 L540.5,794.2 L541.0,793.9 L541.4,793.5 L541.9,793.2 L542.4,793.0 L542.8,792.8 L543.3,792.6 L543.7,792.4 L544.2,792.3 L544.6,792.3 L545.1,792.2 L545.5,792.3 L545.9,792.3 L546.3,792.4 L546.6,792.6 L547.0,792.7Z" fill="#fff" stroke="#000" stroke-width="2.08" />
<path d="M565.0,801.4 L565.3,801.6 L565.6,801.9 L565.9,802.2 L566.2,802.5 L566.4,802.8 L566.6,803.2 L566.7,803.6 L566.9,804.1 L567.0,804.5 L567.1,805.0 L567.1,805.5 L567.1,806.1 L567.1,806.6 L567.0,807.2 L566.9,807.7 L566.8,808.3 L566.7,808.9 L566.5,809.4 L566.3,810.0 L566.0,810.6 L565.8,811.2 L565.5,811.7 L565.2,812.3 L564.8,812.8 L564.5,813.3 L564.1,813.8 L563.7,814.3 L563.3,814.7 L562.9,815.1 L562.4,815.5 L562.0,815.9 L561.5,816.2 L561.1,816.5 L560.6,816.7 L560.2,817.0 L559.7,817.1 L559.2,817.3 L558.8,817.4 L558.4,817.5 L557.9,817.5 L557.5,817.5 L557.1,817.4 L556.7,817.3 L556.3,817.2 L556.0,817.0 L555.7,816.8 L555.4,816.5 L555.1,816.2 L554.8,815.9 L554.6,815.6 L554.4,815.2 L554.3,814.8 L554.1,814.3 L554.0,813.9 L553.9,813.4 L553.9,812.9 L553.9,812.3 L553.9,811.8 L554.0,811.2 L554.1,810.7 L554.2,810.1 L554.3,809.5 L554.5,809.0 L554.7,808.4 L555.0,807.8 L555.2,807.2 L555.5,806.7 L555.8,806.1 L556.2,805.6 L556.5,805.1 L556.9,804.6 L557.3,804.1 L557.7,803.7 L558.1,803.3 L558.6,802.9 L559.0,802.5 L559.5,802.2 L559.9,801.9 L560.4,801.7 L560.8,801.4 L561.3,801.3 L561.8,801.1 L562.2,801.0 L562.6,800.9 L563.1,800.9 L563.5,800.9 L563.9,801.0 L564.3,801.1 L564.7,801.2 L565.0,801.4Z" fill="#fff" stroke="#000" stroke-width="2.08" />
<path d="M544.0,793.5 L547.8,804.0 M546.5,794.7 L550.3,805.2 M549.0,795.9 L552.8,806.4 M551.5,797.1 L555.3,807.6 M554.0,798.3 L557.8,808.8 M556.5,799.5 L560.3,810.0 M559.0,800.7 L562.8,811.2 M561.5,801.9 L565.3,812.4 " fill="none" stroke="#000" stroke-width="2.21" />
<path d="M562.6,806.7 L562.7,806.8 L562.8,806.9 L562.9,807.0 L563.0,807.1 L563.1,807.2 L563.2,807.4 L563.2,807.5 L563.3,807.7 L563.3,807.8 L563.3,808.0 L563.3,808.2 L563.3,808.4 L563.3,808.6 L563.3,808.8 L563.3,809.0 L563.2,809.2 L563.2,809.4 L563.1,809.6 L563.1,809.8 L563.0,810.0 L562.9,810.2 L562.8,810.4 L562.7,810.6 L562.5,810.8 L562.4,811.0 L562.3,811.1 L562.1,811.3 L562.0,811.5 L561.8,811.6 L561.7,811.7 L561.5,811.9 L561.4,812.0 L561.2,812.1 L561.0,812.2 L560.9,812.3 L560.7,812.3 L560.6,812.4 L560.4,812.4 L560.2,812.4 L560.1,812.4 L559.9,812.4 L559.8,812.4 L559.7,812.4 L559.5,812.3 L559.4,812.3 L559.3,812.2 L559.2,812.1 L559.1,812.0 L559.0,811.9 L558.9,811.8 L558.8,811.6 L558.8,811.5 L558.7,811.3 L558.7,811.2 L558.7,811.0 L558.7,810.8 L558.7,810.6 L558.7,810.4 L558.7,810.2 L558.7,810.0 L558.8,809.8 L558.8,809.6 L558.9,809.4 L558.9,809.2 L559.0,809.0 L559.1,808.8 L559.2,808.6 L559.3,808.4 L559.5,808.2 L559.6,808.0 L559.7,807.9 L559.9,807.7 L560.0,807.5 L560.2,807.4 L560.3,807.3 L560.5,807.1 L560.6,807.0 L560.8,806.9 L561.0,806.8 L561.1,806.7 L561.3,806.7 L561.4,806.6 L561.6,806.6 L561.8,806.6 L561.9,806.6 L562.1,806.6 L562.2,806.6 L562.3,806.6 L562.5,806.7 L562.6,806.7Z" fill="none" stroke="#000" stroke-width="1.95" />
<path d="M610.5,831.1 L610.6,831.2 L610.7,831.3 L610.8,831.4 L610.9,831.6 L611.0,831.7 L611.1,831.9 L611.2,832.1 L611.2,832.3 L611.3,832.5 L611.3,832.7 L611.3,832.9 L611.3,833.1 L611.3,833.3 L611.3,833.6 L611.2,833.8 L611.2,834.1 L611.1,834.3 L611.0,834.6 L610.9,834.8 L610.8,835.1 L610.7,835.3 L610.6,835.6 L610.5,835.8 L610.3,836.0 L610.2,836.2 L610.0,836.5 L609.8,836.7 L609.6,836.9 L609.5,837.0 L609.3,837.2 L609.1,837.4 L608.9,837.5 L608.7,837.6 L608.5,837.7 L608.3,837.8 L608.1,837.9 L607.9,838.0 L607.7,838.0 L607.5,838.1 L607.4,838.1 L607.2,838.1 L607.0,838.0 L606.9,838.0 L606.7,838.0 L606.5,837.9 L564.9,818.3 L564.8,818.2 L564.7,818.1 L564.5,818.0 L564.4,817.8 L564.4,817.7 L564.3,817.5 L564.2,817.3 L564.2,817.2 L564.1,817.0 L564.1,816.7 L564.1,816.5 L564.1,816.3 L564.1,816.1 L564.1,815.8 L564.1,815.6 L564.2,815.3 L564.3,815.1 L564.3,814.8 L564.4,814.6 L564.5,814.3 L564.7,814.1 L564.8,813.9 L564.9,813.6 L565.1,813.4 L565.2,813.2 L565.4,813.0 L565.6,812.8 L565.7,812.6 L565.9,812.4 L566.1,812.2 L566.3,812.1 L566.5,811.9 L566.7,811.8 L566.9,811.7 L567.1,811.6 L567.3,811.5 L567.5,811.4 L567.6,811.4 L567.8,811.4 L568.0,811.3 L568.2,811.3 L568.4,811.4 L568.5,811.4 L568.7,811.5 L568.8,811.5Z" fill="#fff" stroke="#000" stroke-width="1.69" />
<path d="M610.5,831.1 L610.6,831.2 L610.7,831.3 L610.8,831.4 L610.9,831.6 L611.0,831.7 L611.1,831.9 L611.2,832.1 L611.2,832.3 L611.3,832.5 L611.3,832.7 L611.3,832.9 L611.3,833.1 L611.3,833.3 L611.3,833.6 L611.2,833.8 L611.2,834.1 L611.1,834.3 L611.0,834.6 L610.9,834.8 L610.8,835.1 L610.7,835.3 L610.6,835.6 L610.5,835.8 L610.3,836.0 L610.2,836.2 L610.0,836.5 L609.8,836.7 L609.6,836.9 L609.5,837.0 L609.3,837.2 L609.1,837.4 L608.9,837.5 L608.7,837.6 L608.5,837.7 L608.3,837.8 L608.1,837.9 L607.9,838.0 L607.7,838.0 L607.5,838.1 L607.4,838.1 L607.2,838.1 L607.0,838.0 L606.9,838.0 L606.7,838.0 L606.5,837.9 L606.4,837.8 L606.3,837.7 L606.2,837.6 L606.1,837.4 L606.0,837.3 L605.9,837.1 L605.8,836.9 L605.8,836.7 L605.7,836.5 L605.7,836.3 L605.7,836.1 L605.7,835.9 L605.7,835.7 L605.7,835.4 L605.8,835.2 L605.8,834.9 L605.9,834.7 L606.0,834.4 L606.1,834.2 L606.2,833.9 L606.3,833.7 L606.4,833.4 L606.5,833.2 L606.7,833.0 L606.8,832.8 L607.0,832.5 L607.2,832.3 L607.4,832.1 L607.5,832.0 L607.7,831.8 L607.9,831.6 L608.1,831.5 L608.3,831.4 L608.5,831.3 L608.7,831.2 L608.9,831.1 L609.1,831.0 L609.3,831.0 L609.5,830.9 L609.6,830.9 L609.8,830.9 L610.0,831.0 L610.1,831.0 L610.3,831.0 L610.5,831.1Z" fill="#fff" stroke="#000" stroke-width="1.69" />
<path d="M569.0,818.5 L570.0,821.9 M571.6,819.7 L572.6,823.1 M574.3,821.0 L575.3,824.4 M577.0,822.2 L578.0,825.6 M579.6,823.4 L580.6,826.8 M582.2,824.6 L583.2,828.0 M584.9,825.9 L585.9,829.3 M587.5,827.1 L588.5,830.5 M590.2,828.3 L591.2,831.7 M592.9,829.6 L593.9,833.0 M595.5,830.8 L596.5,834.2 M598.1,832.0 L599.1,835.4 M600.8,833.3 L601.8,836.7 M603.5,834.5 L604.5,837.9 M606.1,835.7 L607.1,839.1 " fill="none" stroke="#000" stroke-width="1.43" />
<path d="M628.1,836.5 L628.5,836.8 L628.9,837.1 L629.2,837.4 L629.5,837.8 L629.8,838.1 L630.0,838.6 L630.3,839.0 L630.4,839.5 L630.6,840.0 L630.7,840.5 L630.8,841.1 L630.8,841.6 L630.9,842.2 L630.8,842.8 L630.8,843.4 L630.7,844.0 L630.5,844.6 L630.4,845.2 L630.2,845.8 L629.9,846.4 L629.7,847.0 L629.4,847.5 L629.1,848.1 L628.7,848.6 L628.4,849.1 L628.0,849.6 L627.5,850.1 L627.1,850.6 L626.6,851.0 L626.2,851.4 L625.7,851.7 L625.2,852.0 L624.7,852.3 L624.2,852.5 L623.7,852.7 L623.2,852.9 L622.6,853.0 L622.1,853.1 L621.6,853.1 L621.1,853.1 L620.7,853.1 L620.2,853.0 L619.7,852.9 L619.3,852.7 L618.9,852.5 L614.1,849.8 L613.7,849.6 L613.3,849.3 L613.0,849.0 L612.7,848.6 L612.4,848.2 L612.1,847.8 L611.9,847.3 L611.7,846.9 L611.6,846.4 L611.5,845.8 L611.4,845.3 L611.3,844.7 L611.3,844.2 L611.3,843.6 L611.4,843.0 L611.5,842.4 L611.6,841.8 L611.8,841.2 L612.0,840.6 L612.2,840.0 L612.5,839.4 L612.8,838.8 L613.1,838.3 L613.5,837.7 L613.8,837.2 L614.2,836.7 L614.6,836.2 L615.1,835.8 L615.5,835.4 L616.0,835.0 L616.5,834.7 L617.0,834.3 L617.5,834.1 L618.0,833.8 L618.5,833.6 L619.0,833.5 L619.5,833.3 L620.0,833.3 L620.5,833.2 L621.0,833.2 L621.5,833.3 L622.0,833.4 L622.4,833.5 L622.9,833.7 L623.3,833.9Z" fill="#fff" stroke="#000" stroke-width="2.08" />
<path d="M628.1,836.5 L628.5,836.8 L628.9,837.1 L629.2,837.4 L629.5,837.8 L629.8,838.1 L630.0,838.6 L630.3,839.0 L630.4,839.5 L630.6,840.0 L630.7,840.5 L630.8,841.1 L630.8,841.6 L630.9,842.2 L630.8,842.8 L630.8,843.4 L630.7,844.0 L630.5,844.6 L630.4,845.2 L630.2,845.8 L629.9,846.4 L629.7,847.0 L629.4,847.5 L629.1,848.1 L628.7,848.6 L628.4,849.1 L628.0,849.6 L627.5,850.1 L627.1,850.6 L626.6,851.0 L626.2,851.4 L625.7,851.7 L625.2,852.0 L624.7,852.3 L624.2,852.5 L623.7,852.7 L623.2,852.9 L622.6,853.0 L622.1,853.1 L621.6,853.1 L621.1,853.1 L620.7,853.1 L620.2,853.0 L619.7,852.9 L619.3,852.7 L618.9,852.5 L618.5,852.2 L618.1,851.9 L617.8,851.6 L617.5,851.2 L617.2,850.9 L617.0,850.4 L616.7,850.0 L616.6,849.5 L616.4,849.0 L616.3,848.5 L616.2,847.9 L616.2,847.4 L616.1,846.8 L616.2,846.2 L616.2,845.6 L616.3,845.0 L616.5,844.4 L616.6,843.8 L616.8,843.2 L617.1,842.6 L617.3,842.0 L617.6,841.5 L617.9,840.9 L618.3,840.4 L618.6,839.9 L619.0,839.4 L619.5,838.9 L619.9,838.4 L620.4,838.0 L620.8,837.6 L621.3,837.3 L621.8,837.0 L622.3,836.7 L622.8,836.5 L623.3,836.3 L623.8,836.1 L624.4,836.0 L624.9,835.9 L625.4,835.9 L625.9,835.9 L626.3,835.9 L626.8,836.0 L627.3,836.1 L627.7,836.3 L628.1,836.5Z" fill="#fff" stroke="#000" stroke-width="2.08" />
<path d="M626.0,840.2 L626.2,840.3 L626.4,840.5 L626.6,840.6 L626.8,840.8 L626.9,841.0 L627.1,841.3 L627.2,841.5 L627.3,841.8 L627.4,842.1 L627.4,842.3 L627.5,842.6 L627.5,842.9 L627.5,843.3 L627.5,843.6 L627.5,843.9 L627.4,844.2 L627.3,844.5 L627.2,844.9 L627.1,845.2 L627.0,845.5 L626.9,845.8 L626.7,846.1 L626.5,846.5 L626.3,846.7 L626.1,847.0 L625.9,847.3 L625.7,847.5 L625.5,847.8 L625.2,848.0 L625.0,848.2 L624.7,848.4 L624.4,848.6 L624.1,848.7 L623.9,848.9 L623.6,849.0 L623.3,849.1 L623.0,849.1 L622.8,849.2 L622.5,849.2 L622.2,849.2 L622.0,849.2 L621.7,849.1 L621.5,849.0 L621.2,848.9 L621.0,848.8 L620.8,848.7 L620.6,848.5 L620.4,848.4 L620.2,848.2 L620.1,848.0 L619.9,847.7 L619.8,847.5 L619.7,847.2 L619.6,846.9 L619.6,846.7 L619.5,846.4 L619.5,846.1 L619.5,845.7 L619.5,845.4 L619.5,845.1 L619.6,844.8 L619.7,844.5 L619.8,844.1 L619.9,843.8 L620.0,843.5 L620.1,843.2 L620.3,842.9 L620.5,842.5 L620.7,842.3 L620.9,842.0 L621.1,841.7 L621.3,841.5 L621.5,841.2 L621.8,841.0 L622.0,840.8 L622.3,840.6 L622.6,840.4 L622.9,840.3 L623.1,840.1 L623.4,840.0 L623.7,839.9 L624.0,839.9 L624.2,839.8 L624.5,839.8 L624.8,839.8 L625.0,839.8 L625.3,839.9 L625.5,840.0 L625.8,840.1 L626.0,840.2Z" fill="none" stroke="#000" stroke-width="1.69" />
<path d="M625.6,842.2 L625.7,842.3 L625.8,842.4 L626.0,842.5 L626.1,842.6 L626.1,842.7 L626.2,842.9 L626.3,843.0 L626.4,843.2 L626.4,843.3 L626.5,843.5 L626.5,843.7 L626.5,843.9 L626.5,844.1 L626.5,844.2 L626.5,844.4 L626.4,844.6 L626.4,844.8 L626.3,845.0 L626.3,845.2 L626.2,845.4 L626.1,845.6 L626.0,845.8 L625.9,846.0 L625.8,846.1 L625.7,846.3 L625.6,846.5 L625.4,846.6 L625.3,846.8 L625.1,846.9 L625.0,847.0 L624.8,847.1 L624.7,847.3 L624.5,847.3 L624.3,847.4 L624.2,847.5 L624.0,847.5 L623.8,847.6 L623.7,847.6 L623.5,847.6 L623.3,847.6 L623.2,847.6 L623.0,847.6 L622.9,847.5 L622.7,847.5 L622.6,847.4 L622.5,847.3 L622.4,847.2 L622.2,847.1 L622.1,847.0 L622.1,846.9 L622.0,846.7 L621.9,846.6 L621.8,846.4 L621.8,846.3 L621.7,846.1 L621.7,845.9 L621.7,845.7 L621.7,845.5 L621.7,845.4 L621.7,845.2 L621.8,845.0 L621.8,844.8 L621.9,844.6 L621.9,844.4 L622.0,844.2 L622.1,844.0 L622.2,843.8 L622.3,843.6 L622.4,843.5 L622.5,843.3 L622.6,843.1 L622.8,843.0 L622.9,842.8 L623.1,842.7 L623.2,842.6 L623.4,842.5 L623.5,842.3 L623.7,842.3 L623.9,842.2 L624.0,842.1 L624.2,842.1 L624.4,842.0 L624.5,842.0 L624.7,842.0 L624.9,842.0 L625.0,842.0 L625.2,842.0 L625.3,842.1 L625.5,842.1 L625.6,842.2Z" fill="none" stroke="#000" stroke-width="1.3" />
<path d="M509.2,696.9 L509.4,697.0 L509.5,697.1 L509.6,697.2 L509.7,697.3 L509.7,697.5 L509.8,697.6 L509.9,697.7 L509.9,697.9 L509.9,698.1 L510.0,698.2 L510.0,698.4 L510.0,698.6 L510.0,698.8 L509.9,699.0 L509.9,699.2 L509.9,699.4 L509.8,699.6 L509.7,699.9 L509.7,700.1 L509.6,700.3 L509.5,700.5 L509.4,700.7 L509.3,700.9 L509.1,701.1 L509.0,701.3 L508.9,701.5 L508.7,701.6 L508.6,701.8 L508.4,701.9 L508.3,702.1 L508.1,702.2 L507.9,702.3 L507.8,702.4 L507.6,702.5 L507.4,702.6 L507.3,702.7 L507.1,702.7 L506.9,702.8 L506.8,702.8 L506.6,702.8 L506.5,702.8 L506.3,702.8 L506.2,702.8 L506.1,702.7 L506.0,702.7 L492.6,695.8 L492.5,695.8 L492.4,695.7 L492.3,695.6 L492.2,695.5 L492.1,695.3 L492.0,695.2 L492.0,695.0 L491.9,694.9 L491.9,694.7 L491.9,694.5 L491.9,694.4 L491.9,694.2 L491.9,694.0 L491.9,693.8 L491.9,693.6 L492.0,693.4 L492.0,693.1 L492.1,692.9 L492.2,692.7 L492.3,692.5 L492.4,692.3 L492.5,692.1 L492.6,691.9 L492.7,691.7 L492.8,691.5 L493.0,691.3 L493.1,691.2 L493.3,691.0 L493.4,690.8 L493.6,690.7 L493.7,690.6 L493.9,690.5 L494.1,690.3 L494.2,690.2 L494.4,690.2 L494.6,690.1 L494.7,690.0 L494.9,690.0 L495.0,690.0 L495.2,690.0 L495.3,690.0 L495.5,690.0 L495.6,690.0 L495.8,690.1 L495.9,690.1Z" fill="#fff" stroke="#000" stroke-width="1.69" />
<path d="M509.2,696.9 L509.4,697.0 L509.5,697.1 L509.6,697.2 L509.7,697.3 L509.7,697.5 L509.8,697.6 L509.9,697.7 L509.9,697.9 L509.9,698.1 L510.0,698.2 L510.0,698.4 L510.0,698.6 L510.0,698.8 L509.9,699.0 L509.9,699.2 L509.9,699.4 L509.8,699.6 L509.7,699.9 L509.7,700.1 L509.6,700.3 L509.5,700.5 L509.4,700.7 L509.3,700.9 L509.1,701.1 L509.0,701.3 L508.9,701.5 L508.7,701.6 L508.6,701.8 L508.4,701.9 L508.3,702.1 L508.1,702.2 L507.9,702.3 L507.8,702.4 L507.6,702.5 L507.4,702.6 L507.3,702.7 L507.1,702.7 L506.9,702.8 L506.8,702.8 L506.6,702.8 L506.5,702.8 L506.3,702.8 L506.2,702.8 L506.1,702.7 L506.0,702.7 L505.8,702.6 L505.7,702.5 L505.6,702.4 L505.5,702.3 L505.5,702.1 L505.4,702.0 L505.3,701.9 L505.3,701.7 L505.3,701.5 L505.2,701.4 L505.2,701.2 L505.2,701.0 L505.2,700.8 L505.3,700.6 L505.3,700.4 L505.3,700.2 L505.4,700.0 L505.5,699.7 L505.5,699.5 L505.6,699.3 L505.7,699.1 L505.8,698.9 L505.9,698.7 L506.1,698.5 L506.2,698.3 L506.3,698.1 L506.5,698.0 L506.6,697.8 L506.8,697.7 L506.9,697.5 L507.1,697.4 L507.3,697.3 L507.4,697.2 L507.6,697.1 L507.8,697.0 L507.9,696.9 L508.1,696.9 L508.3,696.8 L508.4,696.8 L508.6,696.8 L508.7,696.8 L508.9,696.8 L509.0,696.8 L509.1,696.9 L509.2,696.9Z" fill="#fff" stroke="#000" stroke-width="1.69" />
<path d="M496.4,687.8 L496.6,687.9 L496.8,688.1 L497.0,688.3 L497.2,688.5 L497.4,688.7 L497.5,689.0 L497.6,689.3 L497.7,689.6 L497.8,689.9 L497.9,690.2 L497.9,690.5 L497.9,690.9 L497.9,691.2 L497.9,691.6 L497.8,691.9 L497.8,692.3 L497.7,692.7 L497.5,693.1 L497.4,693.4 L497.3,693.8 L497.1,694.2 L496.9,694.5 L496.7,694.9 L496.5,695.2 L496.3,695.6 L496.0,695.9 L495.8,696.2 L495.5,696.5 L495.2,696.7 L494.9,697.0 L494.6,697.2 L494.3,697.4 L494.0,697.6 L493.7,697.7 L493.4,697.9 L493.1,698.0 L492.8,698.1 L492.5,698.1 L492.2,698.2 L491.9,698.2 L491.6,698.2 L491.4,698.1 L491.1,698.0 L490.8,697.9 L490.6,697.8 L487.9,696.5 L487.7,696.3 L487.5,696.1 L487.3,696.0 L487.1,695.7 L487.0,695.5 L486.8,695.2 L486.7,695.0 L486.6,694.7 L486.5,694.4 L486.5,694.1 L486.4,693.7 L486.4,693.4 L486.4,693.0 L486.5,692.7 L486.5,692.3 L486.6,691.9 L486.7,691.5 L486.8,691.2 L486.9,690.8 L487.1,690.4 L487.2,690.1 L487.4,689.7 L487.6,689.3 L487.8,689.0 L488.1,688.7 L488.3,688.4 L488.6,688.1 L488.8,687.8 L489.1,687.5 L489.4,687.3 L489.7,687.0 L490.0,686.8 L490.3,686.7 L490.6,686.5 L490.9,686.4 L491.2,686.2 L491.5,686.2 L491.8,686.1 L492.1,686.1 L492.4,686.1 L492.7,686.1 L493.0,686.1 L493.2,686.2 L493.5,686.3 L493.7,686.4Z" fill="#fff" stroke="#000" stroke-width="1.82" />
<path d="M496.4,687.8 L496.6,687.9 L496.8,688.1 L497.0,688.3 L497.2,688.5 L497.4,688.7 L497.5,689.0 L497.6,689.3 L497.7,689.6 L497.8,689.9 L497.9,690.2 L497.9,690.5 L497.9,690.9 L497.9,691.2 L497.9,691.6 L497.8,691.9 L497.8,692.3 L497.7,692.7 L497.5,693.1 L497.4,693.4 L497.3,693.8 L497.1,694.2 L496.9,694.5 L496.7,694.9 L496.5,695.2 L496.3,695.6 L496.0,695.9 L495.8,696.2 L495.5,696.5 L495.2,696.7 L494.9,697.0 L494.6,697.2 L494.3,697.4 L494.0,697.6 L493.7,697.7 L493.4,697.9 L493.1,698.0 L492.8,698.1 L492.5,698.1 L492.2,698.2 L491.9,698.2 L491.6,698.2 L491.4,698.1 L491.1,698.0 L490.8,697.9 L490.6,697.8 L490.4,697.7 L490.2,697.5 L490.0,697.3 L489.8,697.1 L489.6,696.9 L489.5,696.6 L489.4,696.3 L489.3,696.0 L489.2,695.7 L489.1,695.4 L489.1,695.1 L489.1,694.7 L489.1,694.4 L489.1,694.0 L489.2,693.7 L489.2,693.3 L489.3,692.9 L489.5,692.5 L489.6,692.2 L489.7,691.8 L489.9,691.4 L490.1,691.1 L490.3,690.7 L490.5,690.4 L490.7,690.0 L491.0,689.7 L491.2,689.4 L491.5,689.1 L491.8,688.9 L492.1,688.6 L492.4,688.4 L492.7,688.2 L493.0,688.0 L493.3,687.9 L493.6,687.7 L493.9,687.6 L494.2,687.5 L494.5,687.5 L494.8,687.4 L495.1,687.4 L495.4,687.4 L495.6,687.5 L495.9,687.6 L496.2,687.7 L496.4,687.8Z" fill="#fff" stroke="#000" stroke-width="1.82" />
<path d="M510.0,701.0 L523.0,707.5" fill="none" stroke="#000" stroke-width="1.3" stroke-dasharray="6 3"/>
<path d="M497.0,725.5 L524.5,712.3" fill="none" stroke="#000" stroke-width="5.46" />
<path d="M498.8,721.4 L501.2,726.6 M501.5,720.1 L503.9,725.3 M504.2,718.8 L506.6,724.0 M506.9,717.5 L509.3,722.7 M509.6,716.2 L512.0,721.4 M512.3,714.9 L514.7,720.1 M515.0,713.6 L517.4,718.8 M517.7,712.3 L520.1,717.5 M520.4,711.0 L522.8,716.2 " fill="none" stroke="#fff" stroke-width="1.17" />
<path d="M524,712.5 C527,711 528,708.5 526.5,707 C525,706 523.5,707.5 524.5,709.5" fill="none" stroke="#000" stroke-width="2.08" />
<path d="M497.5,725.3 C494.5,726.5 493.5,728 495,728.8" fill="none" stroke="#000" stroke-width="1.95" />
<path d="M480.5,733.6 L491.5,728.6" fill="none" stroke="#000" stroke-width="1.3" />
<path d="M98.4,82.3 L115.9,107.5" fill="none" stroke="#000" stroke-width="1.95" />
<rect x="95.5" y="70.7" width="1.9" height="9.8" fill="#000"/>
<path d="M187.4,175.0 L146.0,203.0" fill="none" stroke="#000" stroke-width="1.95" />
<text transform="translate(193.0,174.9) scale(1.12,1)" font-size="13.5" font-weight="bold" text-anchor="middle" fill="#000">8</text>
<path d="M229.0,196.0 L173.8,229.6" fill="none" stroke="#000" stroke-width="1.95" />
<text transform="translate(236.0,196.9) scale(1.12,1)" font-size="13.5" font-weight="bold" text-anchor="middle" fill="#000">7</text>
<path d="M269.5,221.5 L226.7,247.0" fill="none" stroke="#000" stroke-width="1.95" />
<text transform="translate(276.3,222.4) scale(1.12,1)" font-size="13.5" font-weight="bold" text-anchor="middle" fill="#000">9</text>
<path d="M307.3,244.7 L269.5,271.0" fill="none" stroke="#000" stroke-width="1.95" />
<text transform="translate(314.0,244.6) scale(1.12,1)" font-size="13.5" font-weight="bold" text-anchor="middle" fill="#000">8</text>
<path d="M352.0,268.0 L304.0,301.0" fill="none" stroke="#000" stroke-width="1.95" />
<text transform="translate(359.0,267.9) scale(1.12,1)" font-size="13.5" font-weight="bold" text-anchor="middle" fill="#000">7</text>
<path d="M394.8,291.0 L356.0,319.0" fill="none" stroke="#000" stroke-width="1.95" />
<text transform="translate(401.0,291.9) scale(1.12,1)" font-size="13.5" font-weight="bold" text-anchor="middle" fill="#000">9</text>
<path d="M435.0,315.5 L391.0,343.8" fill="none" stroke="#000" stroke-width="1.95" />
<text transform="translate(443.0,313.9) scale(1.12,1)" font-size="13.5" font-weight="bold" text-anchor="middle" fill="#000">8</text>
<path d="M478.0,338.5 L429.0,378.5" fill="none" stroke="#000" stroke-width="1.95" />
<text transform="translate(486.0,336.9) scale(1.12,1)" font-size="13.5" font-weight="bold" text-anchor="middle" fill="#000">7</text>
<path d="M526.0,364.0 L505.0,399.0" fill="none" stroke="#000" stroke-width="1.95" />
<text transform="translate(530.6,361.4) scale(1.12,1)" font-size="13.5" font-weight="bold" text-anchor="middle" fill="#000">6</text>
<path d="M569.5,386.0 L531.0,483.0" fill="none" stroke="#000" stroke-width="1.95" />
<text transform="translate(572.5,384.4) scale(1.12,1)" font-size="13.5" font-weight="bold" text-anchor="middle" fill="#000">5</text>
<path d="M610.5,410.0 L560.5,500.0" fill="none" stroke="#000" stroke-width="1.95" />
<text transform="translate(614.3,408.4) scale(1.12,1)" font-size="13.5" font-weight="bold" text-anchor="middle" fill="#000">4</text>
<path d="M260.3,104.0 L275.4,78.0" fill="none" stroke="#000" stroke-width="1.95" />
<rect x="248.2" y="107.6" width="1.9" height="9.8" fill="#000"/>
<rect x="257.1" y="107.6" width="1.9" height="9.8" fill="#000"/>
<path d="M294.6,121.6 L308.0,97.4" fill="none" stroke="#000" stroke-width="1.95" />
<rect x="285.1" y="125.1" width="1.9" height="9.8" fill="#000"/>
<text transform="translate(294.9,134.9) scale(1.12,1)" font-size="13.5" font-weight="bold" text-anchor="middle" fill="#000">2</text>
<path d="M329.0,146.0 L343.6,141.8" fill="none" stroke="#000" stroke-width="1.95" />
<rect x="314.6" y="142.1" width="1.9" height="9.8" fill="#000"/>
<text transform="translate(324.4,151.9) scale(1.12,1)" font-size="13.5" font-weight="bold" text-anchor="middle" fill="#000">0</text>
<path d="M544.0,107.5 L507.0,158.0" fill="none" stroke="#000" stroke-width="1.95" />
<rect x="544.6" y="96.1" width="1.9" height="9.8" fill="#000"/>
<text transform="translate(554.5,105.9) scale(1.12,1)" font-size="13.5" font-weight="bold" text-anchor="middle" fill="#000">5</text>
<path d="M577.8,124.5 L552.6,173.0" fill="none" stroke="#000" stroke-width="1.95" />
<rect x="574.1" y="113.1" width="1.9" height="9.8" fill="#000"/>
<text transform="translate(584.0,122.9) scale(1.12,1)" font-size="13.5" font-weight="bold" text-anchor="middle" fill="#000">4</text>
<path d="M606.3,141.0 L581.0,184.0" fill="none" stroke="#000" stroke-width="1.95" />
<rect x="603.6" y="129.1" width="1.9" height="9.8" fill="#000"/>
<text transform="translate(613.5,138.9) scale(1.12,1)" font-size="13.5" font-weight="bold" text-anchor="middle" fill="#000">3</text>
<path d="M67.7,689.5 L84.8,646.7" fill="none" stroke="#000" stroke-width="1.95" />
<text transform="translate(63.4,703.9) scale(1.12,1)" font-size="13.5" font-weight="bold" text-anchor="middle" fill="#000">2</text>
<path d="M119.0,714.0 L151.0,669.5" fill="none" stroke="#000" stroke-width="1.95" />
<text transform="translate(113.9,730.7) scale(1.12,1)" font-size="13.5" font-weight="bold" text-anchor="middle" fill="#000">3</text>
<path d="M206.3,682.0 L206.3,641.0" fill="none" stroke="#000" stroke-width="1.95" />
<rect x="199.6" y="687.4" width="1.9" height="9.8" fill="#000"/>
<text transform="translate(209.4,697.2) scale(1.12,1)" font-size="13.5" font-weight="bold" text-anchor="middle" fill="#000">6</text>
<path d="M270.8,601.8 L260.0,623.0" fill="none" stroke="#000" stroke-width="1.95" />
<text transform="translate(273.0,599.5) scale(1.12,1)" font-size="13.5" font-weight="bold" text-anchor="middle" fill="#000">5</text>
<path d="M280.0,723.3 L268.8,652.0" fill="none" stroke="#000" stroke-width="1.95" />
<rect x="276.1" y="729.3" width="1.9" height="9.8" fill="#000"/>
<text transform="translate(285.9,739.1) scale(1.12,1)" font-size="13.5" font-weight="bold" text-anchor="middle" fill="#000">7</text>
<path d="M322.7,744.6 L340.5,693.5" fill="none" stroke="#000" stroke-width="1.95" />
<rect x="315.2" y="750.4" width="1.9" height="9.8" fill="#000"/>
<text transform="translate(325.1,760.2) scale(1.12,1)" font-size="13.5" font-weight="bold" text-anchor="middle" fill="#000">8</text>
<path d="M366.7,770.0 L424.5,748.0" fill="none" stroke="#000" stroke-width="1.95" />
<text transform="translate(352.6,781.6) scale(1.12,1)" font-size="13.5" font-weight="bold" text-anchor="middle" fill="#000">2</text>
<text transform="translate(361.4,781.6) scale(1.12,1)" font-size="13.5" font-weight="bold" text-anchor="middle" fill="#000">5</text>
<path d="M403.5,789.0 L451.5,763.0" fill="none" stroke="#000" stroke-width="1.95" />
<text transform="translate(389.6,799.9) scale(1.12,1)" font-size="13.5" font-weight="bold" text-anchor="middle" fill="#000">2</text>
<text transform="translate(398.4,799.9) scale(1.12,1)" font-size="13.5" font-weight="bold" text-anchor="middle" fill="#000">3</text>
<path d="M438.8,809.0 L464.0,781.6" fill="none" stroke="#000" stroke-width="1.95" />
<text transform="translate(429.2,821.4) scale(1.12,1)" font-size="13.5" font-weight="bold" text-anchor="middle" fill="#000">2</text>
<text transform="translate(438.1,821.4) scale(1.12,1)" font-size="13.5" font-weight="bold" text-anchor="middle" fill="#000">4</text>
<path d="M474.5,828.6 L492.5,802.6" fill="none" stroke="#000" stroke-width="1.95" />
<text transform="translate(465.6,842.9) scale(1.12,1)" font-size="13.5" font-weight="bold" text-anchor="middle" fill="#000">2</text>
<text transform="translate(474.4,842.9) scale(1.12,1)" font-size="13.5" font-weight="bold" text-anchor="middle" fill="#000">2</text>
<path d="M510.0,650.0 L498.8,689.0" fill="none" stroke="#000" stroke-width="1.95" />
<text transform="translate(509.1,647.9) scale(1.12,1)" font-size="13.5" font-weight="bold" text-anchor="middle" fill="#000">2</text>
<text transform="translate(518.0,647.9) scale(1.12,1)" font-size="13.5" font-weight="bold" text-anchor="middle" fill="#000">6</text>
<path d="M547.0,670.4 L527.0,710.0" fill="none" stroke="#000" stroke-width="1.95" />
<text transform="translate(545.6,667.9) scale(1.12,1)" font-size="13.5" font-weight="bold" text-anchor="middle" fill="#000">2</text>
<text transform="translate(554.5,667.9) scale(1.12,1)" font-size="13.5" font-weight="bold" text-anchor="middle" fill="#000">7</text>
<path d="M556.3,744.7 L544.6,794.0" fill="none" stroke="#000" stroke-width="1.95" />
<text transform="translate(555.3,741.6) scale(1.12,1)" font-size="13.5" font-weight="bold" text-anchor="middle" fill="#000">2</text>
<rect x="563.2" y="731.8" width="1.9" height="9.8" fill="#000"/>
<path d="M586.5,762.0 L582.3,817.0" fill="none" stroke="#000" stroke-width="1.95" />
<text transform="translate(584.2,758.4) scale(1.12,1)" font-size="13.5" font-weight="bold" text-anchor="middle" fill="#000">2</text>
<text transform="translate(593.1,758.4) scale(1.12,1)" font-size="13.5" font-weight="bold" text-anchor="middle" fill="#000">0</text>
<path d="M617.2,777.4 L622.6,838.0" fill="none" stroke="#000" stroke-width="1.95" />
<rect x="611.8" y="765.1" width="1.9" height="9.8" fill="#000"/>
<text transform="translate(621.7,774.9) scale(1.12,1)" font-size="13.5" font-weight="bold" text-anchor="middle" fill="#000">9</text>
<path d="M112.5,109.5 L119.0,105.5" fill="none" stroke="#000" stroke-width="1.69" />
<path d="M57.1,829.7 L66.9,812.6 L69.3,815.0 L90.1,802.8 L92.7,804.0 L93.1,821.1 L69.9,833.3 L68.7,836.4Z" fill="none" stroke="#000" stroke-width="2.08" />
<path d="M90.1,802.8 L90.4,806.0" fill="none" stroke="#000" stroke-width="1.3" />
<text transform="translate(70.8,829.3) rotate(-29) skewX(-14)" font-size="13" font-weight="bold" fill="#000" textLength="22" lengthAdjust="spacingAndGlyphs">FWD</text>
<g style="mix-blend-mode:multiply">
<text x="128" y="459" font-size="29.5" fill="#ccd5ce" textLength="399" lengthAdjust="spacingAndGlyphs">Yamaha Motor Corp., U.S.A.</text>
<text x="437" y="446" font-size="9" fill="#ccd5ce">TM</text>
<text transform="translate(27.7,27.5) rotate(42.5)" font-size="24" fill="#e2e8e4">© Firedog.com</text>
<text transform="translate(338.7,25.5) rotate(42.5)" font-size="24" fill="#e2e8e4">© Firedog.com</text>
<text transform="translate(646.7,25.5) rotate(42.5)" font-size="24" fill="#dfe6e1">© Firedog.com</text>
<text transform="translate(334.7,448.5) rotate(42.5)" font-size="24" fill="#e2e8e4">© Firedog.com</text>
<text transform="translate(646.7,452.5) rotate(42.5)" font-size="24" fill="#dfe6e1">© Firedog.com</text>
<text transform="translate(25.7,877.0) rotate(42.5)" font-size="24" fill="#e2e8e4">© Firedog.com</text>
<text transform="translate(341.7,877.5) rotate(42.5)" font-size="24" fill="#e2e8e4">© Firedog.com</text>
<text transform="translate(645.7,878.5) rotate(42.5)" font-size="24" fill="#dfe6e1">© Firedog.com</text>
</g>
<text transform="translate(27.4,453.5) rotate(42.3)" font-size="25" fill="#1a1a1a" stroke="#c8d0ca" stroke-width="1.8" paint-order="stroke" stroke-linejoin="round">© Firedog.com</text>
</svg>
</body></html>
